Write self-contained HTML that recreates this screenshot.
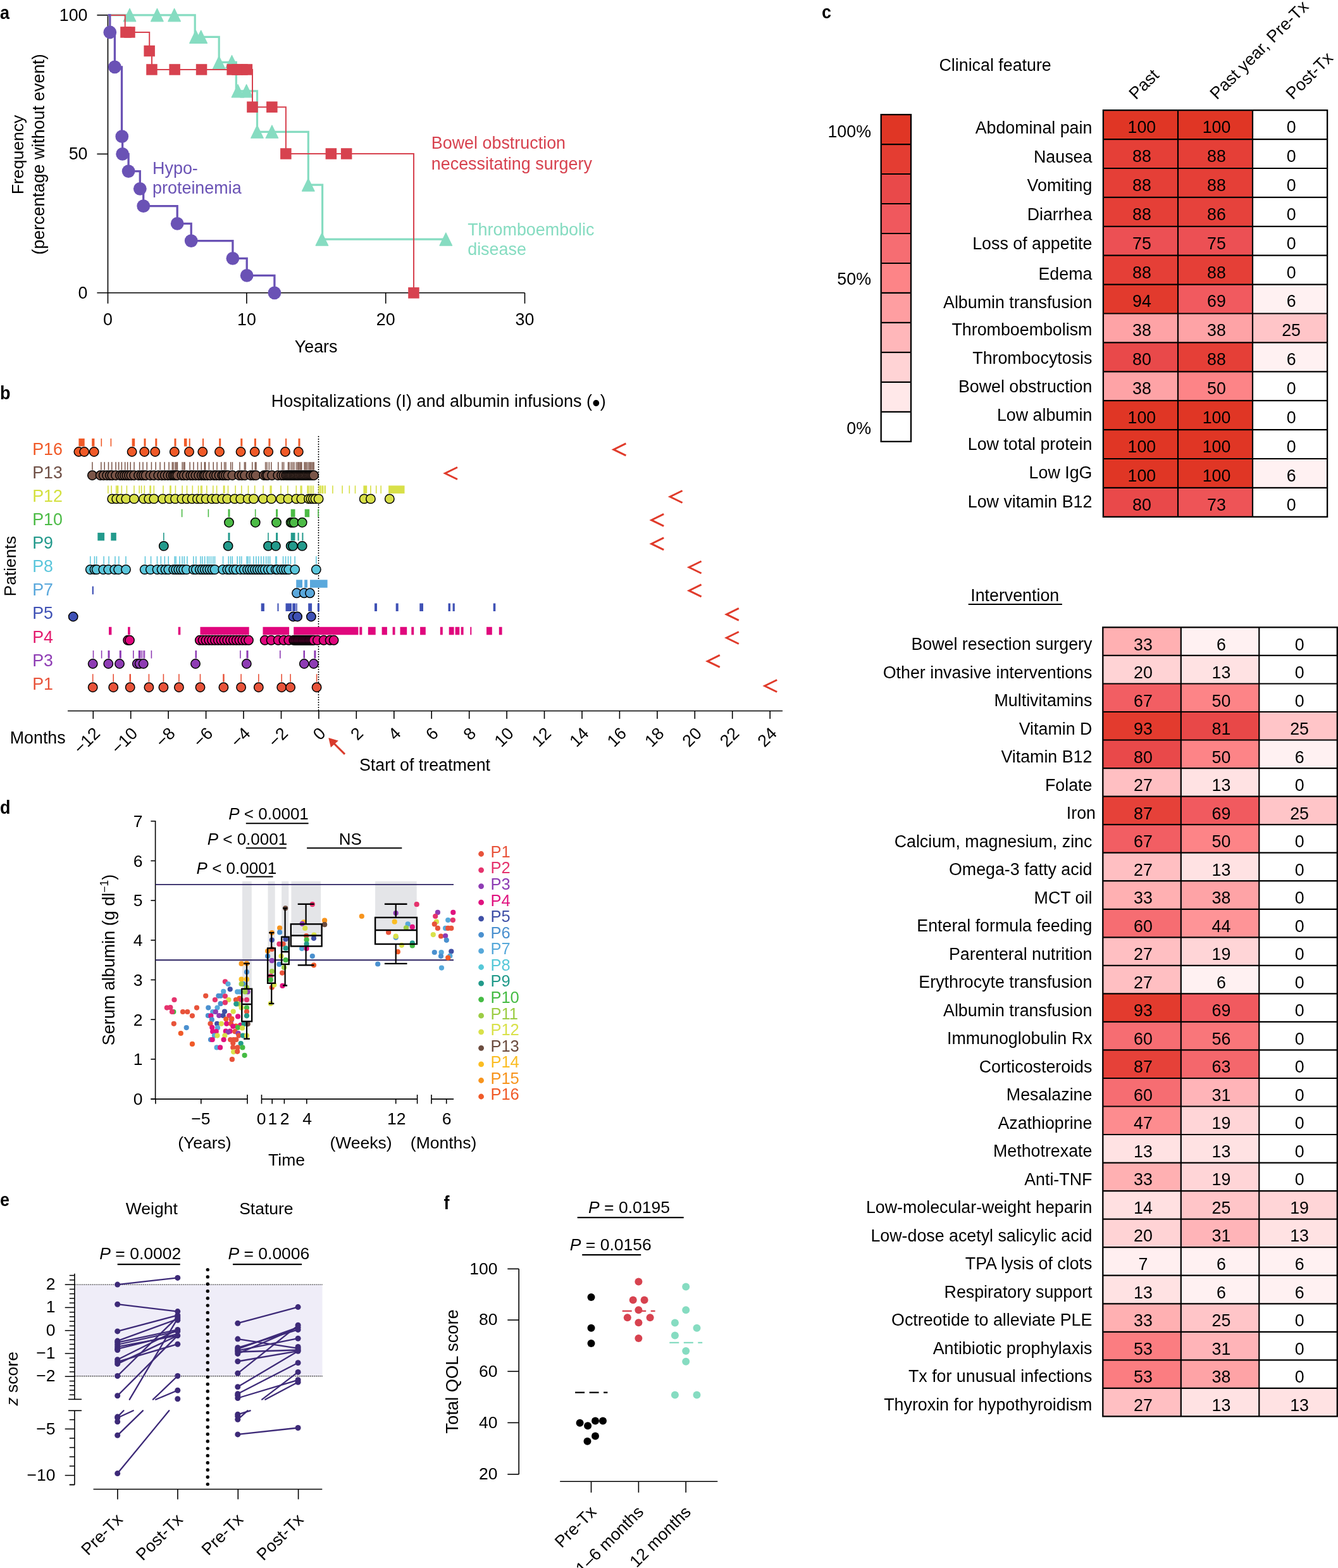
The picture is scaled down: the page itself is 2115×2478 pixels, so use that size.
<!DOCTYPE html>
<html><head><meta charset="utf-8"><title>Figure</title>
<style>html,body{margin:0;padding:0;background:#fff;} svg{display:block;} text{font-family:'Liberation Sans', Arial, Helvetica, sans-serif;}</style>
</head><body>
<svg width="2115" height="2478" viewBox="0 0 2115 2478" font-family="'Liberation Sans', Arial, Helvetica, sans-serif">
<rect x="0" y="0" width="2115" height="2478" fill="#fff"/>
<text transform="translate(0,29.5) scale(0.9,1)" font-size="30" font-weight="bold">a</text>
<line x1="170.5" y1="23.9" x2="170.5" y2="462.8" stroke="#000" stroke-width="1.6" />
<line x1="153.4" y1="462.8" x2="829.5" y2="462.8" stroke="#000" stroke-width="1.6" />
<line x1="153.4" y1="23.9" x2="170.5" y2="23.9" stroke="#000" stroke-width="1.6" />
<line x1="153.4" y1="243.4" x2="170.5" y2="243.4" stroke="#000" stroke-width="1.6" />
<line x1="170.5" y1="462.8" x2="170.5" y2="479.7" stroke="#000" stroke-width="1.6" />
<line x1="389.9" y1="462.8" x2="389.9" y2="479.7" stroke="#000" stroke-width="1.6" />
<line x1="609.7" y1="462.8" x2="609.7" y2="479.7" stroke="#000" stroke-width="1.6" />
<line x1="829.5" y1="462.8" x2="829.5" y2="479.7" stroke="#000" stroke-width="1.6" />
<text x="138.5" y="32.6" font-size="26.8" text-anchor="end" fill="#000" >100</text>
<text x="138.5" y="251.9" font-size="26.8" text-anchor="end" fill="#000" >50</text>
<text x="138.5" y="471.5" font-size="26.8" text-anchor="end" fill="#000" >0</text>
<text x="170.5" y="513.6" font-size="26.8" text-anchor="middle" fill="#000" >0</text>
<text x="389.9" y="513.6" font-size="26.8" text-anchor="middle" fill="#000" >10</text>
<text x="609.7" y="513.6" font-size="26.8" text-anchor="middle" fill="#000" >20</text>
<text x="829.5" y="513.6" font-size="26.8" text-anchor="middle" fill="#000" >30</text>
<text x="499.6" y="556.6" font-size="26.8" text-anchor="middle" fill="#000" >Years</text>
<text transform="translate(36.6,244.4) rotate(-90)" font-size="26.6" text-anchor="middle">Frequency</text>
<text transform="translate(70.4,243.9) rotate(-90)" font-size="26.8" text-anchor="middle">(percentage without event)</text>
<path d="M170.5,23.9 H308.2 V58.4 H346.2 V98.3 H373.3 V143.9 H406.5 V208.3 H487.3 V292.2 H509.6 V378.2 H704.8" fill="none" stroke="#86dcc1" stroke-width="3.2"/>
<path d="M205.0,13.6 L214.8,33.8 L195.2,33.8 Z" fill="#86dcc1" stroke="#86dcc1" stroke-width="1.2" stroke-linejoin="round"/>
<path d="M248.4,13.6 L258.2,33.8 L238.6,33.8 Z" fill="#86dcc1" stroke="#86dcc1" stroke-width="1.2" stroke-linejoin="round"/>
<path d="M275.6,13.6 L285.4,33.8 L265.8,33.8 Z" fill="#86dcc1" stroke="#86dcc1" stroke-width="1.2" stroke-linejoin="round"/>
<path d="M309.5,48.1 L319.3,68.3 L299.7,68.3 Z" fill="#86dcc1" stroke="#86dcc1" stroke-width="1.2" stroke-linejoin="round"/>
<path d="M317.7,48.1 L327.5,68.3 L307.9,68.3 Z" fill="#86dcc1" stroke="#86dcc1" stroke-width="1.2" stroke-linejoin="round"/>
<path d="M346.2,88.7 L356.0,108.9 L336.4,108.9 Z" fill="#86dcc1" stroke="#86dcc1" stroke-width="1.2" stroke-linejoin="round"/>
<path d="M366.5,87.4 L376.3,107.6 L356.7,107.6 Z" fill="#86dcc1" stroke="#86dcc1" stroke-width="1.2" stroke-linejoin="round"/>
<path d="M376.0,133.6 L385.8,153.8 L366.2,153.8 Z" fill="#86dcc1" stroke="#86dcc1" stroke-width="1.2" stroke-linejoin="round"/>
<path d="M389.6,133.6 L399.4,153.8 L379.8,153.8 Z" fill="#86dcc1" stroke="#86dcc1" stroke-width="1.2" stroke-linejoin="round"/>
<path d="M406.5,198.0 L416.3,218.2 L396.7,218.2 Z" fill="#86dcc1" stroke="#86dcc1" stroke-width="1.2" stroke-linejoin="round"/>
<path d="M429.9,198.0 L439.7,218.2 L420.1,218.2 Z" fill="#86dcc1" stroke="#86dcc1" stroke-width="1.2" stroke-linejoin="round"/>
<path d="M487.3,281.9 L497.1,302.1 L477.5,302.1 Z" fill="#86dcc1" stroke="#86dcc1" stroke-width="1.2" stroke-linejoin="round"/>
<path d="M508.9,367.9 L518.7,388.1 L499.1,388.1 Z" fill="#86dcc1" stroke="#86dcc1" stroke-width="1.2" stroke-linejoin="round"/>
<path d="M704.8,367.9 L714.6,388.1 L695.0,388.1 Z" fill="#86dcc1" stroke="#86dcc1" stroke-width="1.2" stroke-linejoin="round"/>
<path d="M170.5,23.9 H197.7 V51 H236.2 V80.6 H240 V110 H399 V169.2 H451.9 V243 H654 V462.8" fill="none" stroke="#d7424f" stroke-width="2"/>
<rect x="190.2" y="42.2" width="17.5" height="17.5" fill="#d7424f" stroke="none" stroke-width="0" />
<rect x="196.2" y="42.2" width="17.5" height="17.5" fill="#d7424f" stroke="none" stroke-width="0" />
<rect x="227.4" y="71.8" width="17.5" height="17.5" fill="#d7424f" stroke="none" stroke-width="0" />
<rect x="231.2" y="101.2" width="17.5" height="17.5" fill="#d7424f" stroke="none" stroke-width="0" />
<rect x="267.4" y="101.2" width="17.5" height="17.5" fill="#d7424f" stroke="none" stroke-width="0" />
<rect x="309.8" y="101.2" width="17.5" height="17.5" fill="#d7424f" stroke="none" stroke-width="0" />
<rect x="358.4" y="101.2" width="17.5" height="17.5" fill="#d7424f" stroke="none" stroke-width="0" />
<rect x="366.2" y="101.2" width="17.5" height="17.5" fill="#d7424f" stroke="none" stroke-width="0" />
<rect x="374.2" y="101.2" width="17.5" height="17.5" fill="#d7424f" stroke="none" stroke-width="0" />
<rect x="381.6" y="101.2" width="17.5" height="17.5" fill="#d7424f" stroke="none" stroke-width="0" />
<rect x="390.2" y="160.4" width="17.5" height="17.5" fill="#d7424f" stroke="none" stroke-width="0" />
<rect x="421.1" y="160.4" width="17.5" height="17.5" fill="#d7424f" stroke="none" stroke-width="0" />
<rect x="443.1" y="234.2" width="17.5" height="17.5" fill="#d7424f" stroke="none" stroke-width="0" />
<rect x="514.6" y="234.2" width="17.5" height="17.5" fill="#d7424f" stroke="none" stroke-width="0" />
<rect x="538.9" y="234.2" width="17.5" height="17.5" fill="#d7424f" stroke="none" stroke-width="0" />
<rect x="645.2" y="454.1" width="17.5" height="17.5" fill="#d7424f" stroke="none" stroke-width="0" />
<path d="M170.5,23.9 H173.8 V51 H181.4 V105.9 H192.5 V215.7 H193.6 V243.4 H203.1 V270.6 H221.3 V298.3 H226.7 V325.7 H280.2 V353.4 H302.2 V380.6 H367.9 V408.3 H390.2 V435.4 H433.9 V462.8" fill="none" stroke="#6a52b5" stroke-width="3.3"/>
<circle cx="173.8" cy="51.0" r="10.4" fill="#6a52b5" stroke="none" stroke-width="0"/>
<circle cx="181.4" cy="105.9" r="10.4" fill="#6a52b5" stroke="none" stroke-width="0"/>
<circle cx="192.8" cy="215.7" r="10.4" fill="#6a52b5" stroke="none" stroke-width="0"/>
<circle cx="193.6" cy="243.4" r="10.4" fill="#6a52b5" stroke="none" stroke-width="0"/>
<circle cx="203.1" cy="270.6" r="10.4" fill="#6a52b5" stroke="none" stroke-width="0"/>
<circle cx="221.3" cy="298.3" r="10.4" fill="#6a52b5" stroke="none" stroke-width="0"/>
<circle cx="226.7" cy="325.7" r="10.4" fill="#6a52b5" stroke="none" stroke-width="0"/>
<circle cx="280.2" cy="353.4" r="10.4" fill="#6a52b5" stroke="none" stroke-width="0"/>
<circle cx="302.2" cy="380.6" r="10.4" fill="#6a52b5" stroke="none" stroke-width="0"/>
<circle cx="367.9" cy="408.3" r="10.4" fill="#6a52b5" stroke="none" stroke-width="0"/>
<circle cx="390.2" cy="435.4" r="10.4" fill="#6a52b5" stroke="none" stroke-width="0"/>
<circle cx="433.9" cy="462.8" r="10.4" fill="#6a52b5" stroke="none" stroke-width="0"/>
<text x="241.1" y="274.7" font-size="26.9" text-anchor="start" fill="#6a52b5" >Hypo-</text>
<text x="241.1" y="305.9" font-size="26.9" text-anchor="start" fill="#6a52b5" >proteinemia</text>
<text x="681.8" y="234.8" font-size="26.9" text-anchor="start" fill="#d7424f" >Bowel obstruction</text>
<text x="681.8" y="267.6" font-size="26.9" text-anchor="start" fill="#d7424f" >necessitating surgery</text>
<text x="739.2" y="372.0" font-size="26.9" text-anchor="start" fill="#86dcc1" >Thromboembolic</text>
<text x="739.2" y="402.8" font-size="26.9" text-anchor="start" fill="#86dcc1" >disease</text>
<text transform="translate(0,631) scale(0.9,1)" font-size="30" font-weight="bold">b</text>
<text x="428.8" y="643.1" font-size="27">Hospitalizations (I) and albumin infusions (<tspan font-size="36" dy="5.5">•</tspan><tspan dy="-5.5">)</tspan></text>
<text x="51.2" y="718.7" font-size="26.8" text-anchor="start" fill="#f05a28" >P16</text>
<text x="51.2" y="755.8" font-size="26.8" text-anchor="start" fill="#6f5046" >P13</text>
<text x="51.2" y="792.9" font-size="26.8" text-anchor="start" fill="#d4e040" >P12</text>
<text x="51.2" y="830.0" font-size="26.8" text-anchor="start" fill="#4cbb46" >P10</text>
<text x="51.2" y="867.1" font-size="26.8" text-anchor="start" fill="#239a8c" >P9</text>
<text x="51.2" y="904.2" font-size="26.8" text-anchor="start" fill="#5bc6dc" >P8</text>
<text x="51.2" y="941.3" font-size="26.8" text-anchor="start" fill="#5aa8dc" >P7</text>
<text x="51.2" y="978.4" font-size="26.8" text-anchor="start" fill="#3f51b5" >P5</text>
<text x="51.2" y="1015.5" font-size="26.8" text-anchor="start" fill="#e31b6d" >P4</text>
<text x="51.2" y="1052.6" font-size="26.8" text-anchor="start" fill="#8e3cb4" >P3</text>
<text x="51.2" y="1089.7" font-size="26.8" text-anchor="start" fill="#e8533a" >P1</text>
<text transform="translate(25.3,894.8) rotate(-90)" font-size="26.4" text-anchor="middle">Patients</text>
<line x1="503.5" y1="689.0" x2="503.5" y2="1123.5" stroke="#000" stroke-width="1.5" stroke-dasharray="2,2"/>
<rect x="124.4" y="693.0" width="9.3" height="12.5" fill="#f05a28" stroke="none" stroke-width="0" />
<rect x="145.2" y="693.0" width="4.2" height="12.5" fill="#f05a28" stroke="none" stroke-width="0" />
<rect x="159.5" y="693.0" width="1.6" height="12.5" fill="#f05a28" stroke="none" stroke-width="0" />
<rect x="174.6" y="693.0" width="1.6" height="12.5" fill="#f05a28" stroke="none" stroke-width="0" />
<rect x="208.6" y="693.0" width="4.6" height="12.5" fill="#f05a28" stroke="none" stroke-width="0" />
<rect x="227.5" y="693.0" width="3.0" height="12.5" fill="#f05a28" stroke="none" stroke-width="0" />
<rect x="245.3" y="693.0" width="3.0" height="12.5" fill="#f05a28" stroke="none" stroke-width="0" />
<rect x="275.5" y="693.0" width="3.0" height="12.5" fill="#f05a28" stroke="none" stroke-width="0" />
<rect x="290.9" y="693.0" width="4.6" height="12.5" fill="#f05a28" stroke="none" stroke-width="0" />
<rect x="298.7" y="693.0" width="2.0" height="12.5" fill="#f05a28" stroke="none" stroke-width="0" />
<rect x="320.0" y="693.0" width="2.0" height="12.5" fill="#f05a28" stroke="none" stroke-width="0" />
<rect x="346.2" y="693.0" width="3.0" height="12.5" fill="#f05a28" stroke="none" stroke-width="0" />
<rect x="380.3" y="693.0" width="3.0" height="12.5" fill="#f05a28" stroke="none" stroke-width="0" />
<rect x="401.9" y="693.0" width="3.0" height="12.5" fill="#f05a28" stroke="none" stroke-width="0" />
<rect x="424.4" y="693.0" width="3.0" height="12.5" fill="#f05a28" stroke="none" stroke-width="0" />
<rect x="451.1" y="693.0" width="2.0" height="12.5" fill="#f05a28" stroke="none" stroke-width="0" />
<rect x="471.5" y="693.0" width="3.0" height="12.5" fill="#f05a28" stroke="none" stroke-width="0" />
<circle cx="124.4" cy="714.0" r="7.2" fill="#f05a28" stroke="#000" stroke-width="1.5"/>
<circle cx="133.2" cy="714.0" r="7.2" fill="#f05a28" stroke="#000" stroke-width="1.5"/>
<circle cx="148.7" cy="714.0" r="7.2" fill="#f05a28" stroke="#000" stroke-width="1.5"/>
<circle cx="208.6" cy="714.0" r="7.2" fill="#f05a28" stroke="#000" stroke-width="1.5"/>
<circle cx="228.3" cy="714.0" r="7.2" fill="#f05a28" stroke="#000" stroke-width="1.5"/>
<circle cx="245.2" cy="714.0" r="7.2" fill="#f05a28" stroke="#000" stroke-width="1.5"/>
<circle cx="275.8" cy="714.0" r="7.2" fill="#f05a28" stroke="#000" stroke-width="1.5"/>
<circle cx="299.0" cy="714.0" r="7.2" fill="#f05a28" stroke="#000" stroke-width="1.5"/>
<circle cx="320.3" cy="714.0" r="7.2" fill="#f05a28" stroke="#000" stroke-width="1.5"/>
<circle cx="347.0" cy="714.0" r="7.2" fill="#f05a28" stroke="#000" stroke-width="1.5"/>
<circle cx="380.6" cy="714.0" r="7.2" fill="#f05a28" stroke="#000" stroke-width="1.5"/>
<circle cx="402.7" cy="714.0" r="7.2" fill="#f05a28" stroke="#000" stroke-width="1.5"/>
<circle cx="424.2" cy="714.0" r="7.2" fill="#f05a28" stroke="#000" stroke-width="1.5"/>
<circle cx="450.9" cy="714.0" r="7.2" fill="#f05a28" stroke="#000" stroke-width="1.5"/>
<circle cx="471.8" cy="714.0" r="7.2" fill="#f05a28" stroke="#000" stroke-width="1.5"/>
<rect x="145.2" y="730.2" width="1.5" height="12.5" fill="#7a5548" stroke="none" stroke-width="0" />
<rect x="159.1" y="730.2" width="1.5" height="12.5" fill="#7a5548" stroke="none" stroke-width="0" />
<rect x="164.4" y="730.2" width="1.5" height="12.5" fill="#7a5548" stroke="none" stroke-width="0" />
<rect x="170.7" y="730.2" width="1.5" height="12.5" fill="#7a5548" stroke="none" stroke-width="0" />
<rect x="176.0" y="730.2" width="1.5" height="12.5" fill="#7a5548" stroke="none" stroke-width="0" />
<rect x="182.3" y="730.2" width="1.5" height="12.5" fill="#7a5548" stroke="none" stroke-width="0" />
<rect x="186.9" y="730.2" width="1.5" height="12.5" fill="#7a5548" stroke="none" stroke-width="0" />
<rect x="191.6" y="730.2" width="1.5" height="12.5" fill="#7a5548" stroke="none" stroke-width="0" />
<rect x="196.9" y="730.2" width="1.5" height="12.5" fill="#7a5548" stroke="none" stroke-width="0" />
<rect x="200.9" y="730.2" width="1.5" height="12.5" fill="#7a5548" stroke="none" stroke-width="0" />
<rect x="205.5" y="730.2" width="1.5" height="12.5" fill="#7a5548" stroke="none" stroke-width="0" />
<rect x="211.3" y="730.2" width="1.5" height="12.5" fill="#7a5548" stroke="none" stroke-width="0" />
<rect x="219.9" y="730.2" width="1.5" height="12.5" fill="#7a5548" stroke="none" stroke-width="0" />
<rect x="225.2" y="730.2" width="1.5" height="12.5" fill="#7a5548" stroke="none" stroke-width="0" />
<rect x="231.5" y="730.2" width="1.5" height="12.5" fill="#7a5548" stroke="none" stroke-width="0" />
<rect x="238.7" y="730.2" width="1.5" height="12.5" fill="#7a5548" stroke="none" stroke-width="0" />
<rect x="245.4" y="730.2" width="1.5" height="12.5" fill="#7a5548" stroke="none" stroke-width="0" />
<rect x="252.3" y="730.2" width="1.5" height="12.5" fill="#7a5548" stroke="none" stroke-width="0" />
<rect x="259.3" y="730.2" width="1.5" height="12.5" fill="#7a5548" stroke="none" stroke-width="0" />
<rect x="266.3" y="730.2" width="1.5" height="12.5" fill="#7a5548" stroke="none" stroke-width="0" />
<rect x="271.6" y="730.2" width="1.5" height="12.5" fill="#7a5548" stroke="none" stroke-width="0" />
<rect x="273.4" y="730.2" width="1.5" height="12.5" fill="#7a5548" stroke="none" stroke-width="0" />
<rect x="276.2" y="730.2" width="1.5" height="12.5" fill="#7a5548" stroke="none" stroke-width="0" />
<rect x="278.1" y="730.2" width="1.5" height="12.5" fill="#7a5548" stroke="none" stroke-width="0" />
<rect x="279.7" y="730.2" width="1.5" height="12.5" fill="#7a5548" stroke="none" stroke-width="0" />
<rect x="287.4" y="730.2" width="1.5" height="12.5" fill="#7a5548" stroke="none" stroke-width="0" />
<rect x="289.7" y="730.2" width="1.5" height="12.5" fill="#7a5548" stroke="none" stroke-width="0" />
<rect x="291.3" y="730.2" width="1.5" height="12.5" fill="#7a5548" stroke="none" stroke-width="0" />
<rect x="299.4" y="730.2" width="1.5" height="12.5" fill="#7a5548" stroke="none" stroke-width="0" />
<rect x="305.2" y="730.2" width="1.5" height="12.5" fill="#7a5548" stroke="none" stroke-width="0" />
<rect x="311.7" y="730.2" width="1.5" height="12.5" fill="#7a5548" stroke="none" stroke-width="0" />
<rect x="317.5" y="730.2" width="1.5" height="12.5" fill="#7a5548" stroke="none" stroke-width="0" />
<rect x="322.6" y="730.2" width="1.5" height="12.5" fill="#7a5548" stroke="none" stroke-width="0" />
<rect x="323.8" y="730.2" width="1.5" height="12.5" fill="#7a5548" stroke="none" stroke-width="0" />
<rect x="329.6" y="730.2" width="1.5" height="12.5" fill="#7a5548" stroke="none" stroke-width="0" />
<rect x="336.5" y="730.2" width="1.5" height="12.5" fill="#7a5548" stroke="none" stroke-width="0" />
<rect x="342.3" y="730.2" width="1.5" height="12.5" fill="#7a5548" stroke="none" stroke-width="0" />
<rect x="349.3" y="730.2" width="1.5" height="12.5" fill="#7a5548" stroke="none" stroke-width="0" />
<rect x="353.9" y="730.2" width="1.5" height="12.5" fill="#7a5548" stroke="none" stroke-width="0" />
<rect x="356.2" y="730.2" width="1.5" height="12.5" fill="#7a5548" stroke="none" stroke-width="0" />
<rect x="363.9" y="730.2" width="1.5" height="12.5" fill="#7a5548" stroke="none" stroke-width="0" />
<rect x="366.7" y="730.2" width="1.5" height="12.5" fill="#7a5548" stroke="none" stroke-width="0" />
<rect x="378.3" y="730.2" width="1.5" height="12.5" fill="#7a5548" stroke="none" stroke-width="0" />
<rect x="385.7" y="730.2" width="1.5" height="12.5" fill="#7a5548" stroke="none" stroke-width="0" />
<rect x="387.5" y="730.2" width="1.5" height="12.5" fill="#7a5548" stroke="none" stroke-width="0" />
<rect x="398.0" y="730.2" width="1.5" height="12.5" fill="#7a5548" stroke="none" stroke-width="0" />
<rect x="402.6" y="730.2" width="1.5" height="12.5" fill="#7a5548" stroke="none" stroke-width="0" />
<rect x="404.2" y="730.2" width="1.5" height="12.5" fill="#7a5548" stroke="none" stroke-width="0" />
<rect x="418.9" y="730.2" width="1.5" height="12.5" fill="#7a5548" stroke="none" stroke-width="0" />
<rect x="421.2" y="730.2" width="1.5" height="12.5" fill="#7a5548" stroke="none" stroke-width="0" />
<rect x="424.6" y="730.2" width="1.5" height="12.5" fill="#7a5548" stroke="none" stroke-width="0" />
<rect x="428.1" y="730.2" width="1.5" height="12.5" fill="#7a5548" stroke="none" stroke-width="0" />
<rect x="439.0" y="730.2" width="1.5" height="12.5" fill="#7a5548" stroke="none" stroke-width="0" />
<rect x="445.5" y="730.2" width="1.5" height="12.5" fill="#7a5548" stroke="none" stroke-width="0" />
<rect x="447.8" y="730.2" width="1.5" height="12.5" fill="#7a5548" stroke="none" stroke-width="0" />
<rect x="454.8" y="730.2" width="1.5" height="12.5" fill="#7a5548" stroke="none" stroke-width="0" />
<rect x="456.4" y="730.2" width="1.5" height="12.5" fill="#7a5548" stroke="none" stroke-width="0" />
<rect x="459.4" y="730.2" width="1.5" height="12.5" fill="#7a5548" stroke="none" stroke-width="0" />
<rect x="461.8" y="730.2" width="1.5" height="12.5" fill="#7a5548" stroke="none" stroke-width="0" />
<rect x="464.1" y="730.2" width="1.5" height="12.5" fill="#7a5548" stroke="none" stroke-width="0" />
<rect x="467.6" y="730.2" width="1.5" height="12.5" fill="#7a5548" stroke="none" stroke-width="0" />
<rect x="469.9" y="730.2" width="1.5" height="12.5" fill="#7a5548" stroke="none" stroke-width="0" />
<rect x="471.0" y="730.2" width="1.5" height="12.5" fill="#7a5548" stroke="none" stroke-width="0" />
<rect x="472.9" y="730.2" width="1.5" height="12.5" fill="#7a5548" stroke="none" stroke-width="0" />
<rect x="474.5" y="730.2" width="1.5" height="12.5" fill="#7a5548" stroke="none" stroke-width="0" />
<rect x="476.1" y="730.2" width="1.5" height="12.5" fill="#7a5548" stroke="none" stroke-width="0" />
<rect x="480.3" y="730.2" width="1.5" height="12.5" fill="#7a5548" stroke="none" stroke-width="0" />
<rect x="482.2" y="730.2" width="1.5" height="12.5" fill="#7a5548" stroke="none" stroke-width="0" />
<rect x="483.8" y="730.2" width="1.5" height="12.5" fill="#7a5548" stroke="none" stroke-width="0" />
<rect x="486.1" y="730.2" width="1.5" height="12.5" fill="#7a5548" stroke="none" stroke-width="0" />
<rect x="488.4" y="730.2" width="1.5" height="12.5" fill="#7a5548" stroke="none" stroke-width="0" />
<rect x="490.0" y="730.2" width="1.5" height="12.5" fill="#7a5548" stroke="none" stroke-width="0" />
<rect x="491.9" y="730.2" width="1.5" height="12.5" fill="#7a5548" stroke="none" stroke-width="0" />
<rect x="493.8" y="730.2" width="1.5" height="12.5" fill="#7a5548" stroke="none" stroke-width="0" />
<rect x="495.4" y="730.2" width="1.5" height="12.5" fill="#7a5548" stroke="none" stroke-width="0" />
<circle cx="145.9" cy="751.2" r="7.2" fill="#7a5548" stroke="#000" stroke-width="1.5"/>
<circle cx="158.7" cy="751.2" r="7.2" fill="#7a5548" stroke="#000" stroke-width="1.5"/>
<circle cx="163.8" cy="751.2" r="7.2" fill="#7a5548" stroke="#000" stroke-width="1.5"/>
<circle cx="169.1" cy="751.2" r="7.2" fill="#7a5548" stroke="#000" stroke-width="1.5"/>
<circle cx="173.8" cy="751.2" r="7.2" fill="#7a5548" stroke="#000" stroke-width="1.5"/>
<circle cx="177.3" cy="751.2" r="7.2" fill="#7a5548" stroke="#000" stroke-width="1.5"/>
<circle cx="183.1" cy="751.2" r="7.2" fill="#7a5548" stroke="#000" stroke-width="1.5"/>
<circle cx="190.0" cy="751.2" r="7.2" fill="#7a5548" stroke="#000" stroke-width="1.5"/>
<circle cx="193.5" cy="751.2" r="7.2" fill="#7a5548" stroke="#000" stroke-width="1.5"/>
<circle cx="197.0" cy="751.2" r="7.2" fill="#7a5548" stroke="#000" stroke-width="1.5"/>
<circle cx="200.4" cy="751.2" r="7.2" fill="#7a5548" stroke="#000" stroke-width="1.5"/>
<circle cx="203.9" cy="751.2" r="7.2" fill="#7a5548" stroke="#000" stroke-width="1.5"/>
<circle cx="207.4" cy="751.2" r="7.2" fill="#7a5548" stroke="#000" stroke-width="1.5"/>
<circle cx="212.0" cy="751.2" r="7.2" fill="#7a5548" stroke="#000" stroke-width="1.5"/>
<circle cx="219.0" cy="751.2" r="7.2" fill="#7a5548" stroke="#000" stroke-width="1.5"/>
<circle cx="223.6" cy="751.2" r="7.2" fill="#7a5548" stroke="#000" stroke-width="1.5"/>
<circle cx="227.1" cy="751.2" r="7.2" fill="#7a5548" stroke="#000" stroke-width="1.5"/>
<circle cx="230.6" cy="751.2" r="7.2" fill="#7a5548" stroke="#000" stroke-width="1.5"/>
<circle cx="237.6" cy="751.2" r="7.2" fill="#7a5548" stroke="#000" stroke-width="1.5"/>
<circle cx="243.3" cy="751.2" r="7.2" fill="#7a5548" stroke="#000" stroke-width="1.5"/>
<circle cx="250.3" cy="751.2" r="7.2" fill="#7a5548" stroke="#000" stroke-width="1.5"/>
<circle cx="256.1" cy="751.2" r="7.2" fill="#7a5548" stroke="#000" stroke-width="1.5"/>
<circle cx="260.7" cy="751.2" r="7.2" fill="#7a5548" stroke="#000" stroke-width="1.5"/>
<circle cx="265.4" cy="751.2" r="7.2" fill="#7a5548" stroke="#000" stroke-width="1.5"/>
<circle cx="270.0" cy="751.2" r="7.2" fill="#7a5548" stroke="#000" stroke-width="1.5"/>
<circle cx="273.5" cy="751.2" r="7.2" fill="#7a5548" stroke="#000" stroke-width="1.5"/>
<circle cx="275.8" cy="751.2" r="7.2" fill="#7a5548" stroke="#000" stroke-width="1.5"/>
<circle cx="278.1" cy="751.2" r="7.2" fill="#7a5548" stroke="#000" stroke-width="1.5"/>
<circle cx="280.5" cy="751.2" r="7.2" fill="#7a5548" stroke="#000" stroke-width="1.5"/>
<circle cx="287.4" cy="751.2" r="7.2" fill="#7a5548" stroke="#000" stroke-width="1.5"/>
<circle cx="290.9" cy="751.2" r="7.2" fill="#7a5548" stroke="#000" stroke-width="1.5"/>
<circle cx="295.5" cy="751.2" r="7.2" fill="#7a5548" stroke="#000" stroke-width="1.5"/>
<circle cx="301.3" cy="751.2" r="7.2" fill="#7a5548" stroke="#000" stroke-width="1.5"/>
<circle cx="304.8" cy="751.2" r="7.2" fill="#7a5548" stroke="#000" stroke-width="1.5"/>
<circle cx="309.4" cy="751.2" r="7.2" fill="#7a5548" stroke="#000" stroke-width="1.5"/>
<circle cx="314.1" cy="751.2" r="7.2" fill="#7a5548" stroke="#000" stroke-width="1.5"/>
<circle cx="318.7" cy="751.2" r="7.2" fill="#7a5548" stroke="#000" stroke-width="1.5"/>
<circle cx="322.2" cy="751.2" r="7.2" fill="#7a5548" stroke="#000" stroke-width="1.5"/>
<circle cx="324.5" cy="751.2" r="7.2" fill="#7a5548" stroke="#000" stroke-width="1.5"/>
<circle cx="328.0" cy="751.2" r="7.2" fill="#7a5548" stroke="#000" stroke-width="1.5"/>
<circle cx="332.6" cy="751.2" r="7.2" fill="#7a5548" stroke="#000" stroke-width="1.5"/>
<circle cx="338.4" cy="751.2" r="7.2" fill="#7a5548" stroke="#000" stroke-width="1.5"/>
<circle cx="341.9" cy="751.2" r="7.2" fill="#7a5548" stroke="#000" stroke-width="1.5"/>
<circle cx="346.5" cy="751.2" r="7.2" fill="#7a5548" stroke="#000" stroke-width="1.5"/>
<circle cx="351.2" cy="751.2" r="7.2" fill="#7a5548" stroke="#000" stroke-width="1.5"/>
<circle cx="353.5" cy="751.2" r="7.2" fill="#7a5548" stroke="#000" stroke-width="1.5"/>
<circle cx="357.0" cy="751.2" r="7.2" fill="#7a5548" stroke="#000" stroke-width="1.5"/>
<circle cx="360.5" cy="751.2" r="7.2" fill="#7a5548" stroke="#000" stroke-width="1.5"/>
<circle cx="367.4" cy="751.2" r="7.2" fill="#7a5548" stroke="#000" stroke-width="1.5"/>
<circle cx="377.9" cy="751.2" r="7.2" fill="#7a5548" stroke="#000" stroke-width="1.5"/>
<circle cx="382.5" cy="751.2" r="7.2" fill="#7a5548" stroke="#000" stroke-width="1.5"/>
<circle cx="387.1" cy="751.2" r="7.2" fill="#7a5548" stroke="#000" stroke-width="1.5"/>
<circle cx="396.4" cy="751.2" r="7.2" fill="#7a5548" stroke="#000" stroke-width="1.5"/>
<circle cx="401.0" cy="751.2" r="7.2" fill="#7a5548" stroke="#000" stroke-width="1.5"/>
<circle cx="404.5" cy="751.2" r="7.2" fill="#7a5548" stroke="#000" stroke-width="1.5"/>
<circle cx="417.3" cy="751.2" r="7.2" fill="#7a5548" stroke="#000" stroke-width="1.5"/>
<circle cx="420.8" cy="751.2" r="7.2" fill="#7a5548" stroke="#000" stroke-width="1.5"/>
<circle cx="423.1" cy="751.2" r="7.2" fill="#7a5548" stroke="#000" stroke-width="1.5"/>
<circle cx="430.0" cy="751.2" r="7.2" fill="#7a5548" stroke="#000" stroke-width="1.5"/>
<circle cx="439.3" cy="751.2" r="7.2" fill="#7a5548" stroke="#000" stroke-width="1.5"/>
<circle cx="445.1" cy="751.2" r="7.2" fill="#7a5548" stroke="#000" stroke-width="1.5"/>
<circle cx="448.6" cy="751.2" r="7.2" fill="#7a5548" stroke="#000" stroke-width="1.5"/>
<circle cx="452.1" cy="751.2" r="7.2" fill="#7a5548" stroke="#000" stroke-width="1.5"/>
<circle cx="454.4" cy="751.2" r="7.2" fill="#7a5548" stroke="#000" stroke-width="1.5"/>
<circle cx="456.7" cy="751.2" r="7.2" fill="#7a5548" stroke="#000" stroke-width="1.5"/>
<circle cx="459.0" cy="751.2" r="7.2" fill="#7a5548" stroke="#000" stroke-width="1.5"/>
<circle cx="461.3" cy="751.2" r="7.2" fill="#7a5548" stroke="#000" stroke-width="1.5"/>
<circle cx="463.7" cy="751.2" r="7.2" fill="#7a5548" stroke="#000" stroke-width="1.5"/>
<circle cx="466.0" cy="751.2" r="7.2" fill="#7a5548" stroke="#000" stroke-width="1.5"/>
<circle cx="468.3" cy="751.2" r="7.2" fill="#7a5548" stroke="#000" stroke-width="1.5"/>
<circle cx="470.6" cy="751.2" r="7.2" fill="#7a5548" stroke="#000" stroke-width="1.5"/>
<circle cx="472.9" cy="751.2" r="7.2" fill="#7a5548" stroke="#000" stroke-width="1.5"/>
<circle cx="475.3" cy="751.2" r="7.2" fill="#7a5548" stroke="#000" stroke-width="1.5"/>
<circle cx="477.6" cy="751.2" r="7.2" fill="#7a5548" stroke="#000" stroke-width="1.5"/>
<circle cx="479.9" cy="751.2" r="7.2" fill="#7a5548" stroke="#000" stroke-width="1.5"/>
<circle cx="482.2" cy="751.2" r="7.2" fill="#7a5548" stroke="#000" stroke-width="1.5"/>
<circle cx="484.5" cy="751.2" r="7.2" fill="#7a5548" stroke="#000" stroke-width="1.5"/>
<circle cx="486.9" cy="751.2" r="7.2" fill="#7a5548" stroke="#000" stroke-width="1.5"/>
<circle cx="489.2" cy="751.2" r="7.2" fill="#7a5548" stroke="#000" stroke-width="1.5"/>
<circle cx="491.5" cy="751.2" r="7.2" fill="#7a5548" stroke="#000" stroke-width="1.5"/>
<circle cx="493.8" cy="751.2" r="7.2" fill="#7a5548" stroke="#000" stroke-width="1.5"/>
<circle cx="496.1" cy="751.2" r="7.2" fill="#7a5548" stroke="#000" stroke-width="1.5"/>
<rect x="170.0" y="767.4" width="1.6" height="12.5" fill="#d8e048" stroke="none" stroke-width="0" />
<rect x="175.3" y="767.4" width="1.6" height="12.5" fill="#d8e048" stroke="none" stroke-width="0" />
<rect x="182.9" y="767.4" width="1.6" height="12.5" fill="#d8e048" stroke="none" stroke-width="0" />
<rect x="184.6" y="767.4" width="1.6" height="12.5" fill="#d8e048" stroke="none" stroke-width="0" />
<rect x="185.7" y="767.4" width="1.6" height="12.5" fill="#d8e048" stroke="none" stroke-width="0" />
<rect x="191.5" y="767.4" width="1.6" height="12.5" fill="#d8e048" stroke="none" stroke-width="0" />
<rect x="199.6" y="767.4" width="1.6" height="12.5" fill="#d8e048" stroke="none" stroke-width="0" />
<rect x="211.2" y="767.4" width="1.6" height="12.5" fill="#d8e048" stroke="none" stroke-width="0" />
<rect x="219.4" y="767.4" width="1.6" height="12.5" fill="#d8e048" stroke="none" stroke-width="0" />
<rect x="222.8" y="767.4" width="1.6" height="12.5" fill="#d8e048" stroke="none" stroke-width="0" />
<rect x="227.5" y="767.4" width="1.6" height="12.5" fill="#d8e048" stroke="none" stroke-width="0" />
<rect x="236.3" y="767.4" width="1.6" height="12.5" fill="#d8e048" stroke="none" stroke-width="0" />
<rect x="237.4" y="767.4" width="1.6" height="12.5" fill="#d8e048" stroke="none" stroke-width="0" />
<rect x="242.5" y="767.4" width="1.6" height="12.5" fill="#d8e048" stroke="none" stroke-width="0" />
<rect x="257.2" y="767.4" width="1.6" height="12.5" fill="#d8e048" stroke="none" stroke-width="0" />
<rect x="268.1" y="767.4" width="1.6" height="12.5" fill="#d8e048" stroke="none" stroke-width="0" />
<rect x="269.2" y="767.4" width="1.6" height="12.5" fill="#d8e048" stroke="none" stroke-width="0" />
<rect x="276.6" y="767.4" width="1.6" height="12.5" fill="#d8e048" stroke="none" stroke-width="0" />
<rect x="287.3" y="767.4" width="1.6" height="12.5" fill="#d8e048" stroke="none" stroke-width="0" />
<rect x="294.7" y="767.4" width="1.6" height="12.5" fill="#d8e048" stroke="none" stroke-width="0" />
<rect x="303.5" y="767.4" width="1.6" height="12.5" fill="#d8e048" stroke="none" stroke-width="0" />
<rect x="312.8" y="767.4" width="1.6" height="12.5" fill="#d8e048" stroke="none" stroke-width="0" />
<rect x="316.8" y="767.4" width="1.6" height="12.5" fill="#d8e048" stroke="none" stroke-width="0" />
<rect x="318.4" y="767.4" width="1.6" height="12.5" fill="#d8e048" stroke="none" stroke-width="0" />
<rect x="326.0" y="767.4" width="1.6" height="12.5" fill="#d8e048" stroke="none" stroke-width="0" />
<rect x="336.0" y="767.4" width="1.6" height="12.5" fill="#d8e048" stroke="none" stroke-width="0" />
<rect x="341.8" y="767.4" width="1.6" height="12.5" fill="#d8e048" stroke="none" stroke-width="0" />
<rect x="352.7" y="767.4" width="1.6" height="12.5" fill="#d8e048" stroke="none" stroke-width="0" />
<rect x="353.9" y="767.4" width="1.6" height="12.5" fill="#d8e048" stroke="none" stroke-width="0" />
<rect x="359.7" y="767.4" width="1.6" height="12.5" fill="#d8e048" stroke="none" stroke-width="0" />
<rect x="371.3" y="767.4" width="1.6" height="12.5" fill="#d8e048" stroke="none" stroke-width="0" />
<rect x="381.0" y="767.4" width="1.6" height="12.5" fill="#d8e048" stroke="none" stroke-width="0" />
<rect x="391.7" y="767.4" width="1.6" height="12.5" fill="#d8e048" stroke="none" stroke-width="0" />
<rect x="401.9" y="767.4" width="1.6" height="12.5" fill="#d8e048" stroke="none" stroke-width="0" />
<rect x="415.3" y="767.4" width="1.6" height="12.5" fill="#d8e048" stroke="none" stroke-width="0" />
<rect x="426.5" y="767.4" width="1.6" height="12.5" fill="#d8e048" stroke="none" stroke-width="0" />
<rect x="428.1" y="767.4" width="1.6" height="12.5" fill="#d8e048" stroke="none" stroke-width="0" />
<rect x="443.2" y="767.4" width="1.6" height="12.5" fill="#d8e048" stroke="none" stroke-width="0" />
<rect x="454.1" y="767.4" width="1.6" height="12.5" fill="#d8e048" stroke="none" stroke-width="0" />
<rect x="467.5" y="767.4" width="1.6" height="12.5" fill="#d8e048" stroke="none" stroke-width="0" />
<rect x="474.5" y="767.4" width="1.6" height="12.5" fill="#d8e048" stroke="none" stroke-width="0" />
<rect x="476.1" y="767.4" width="1.6" height="12.5" fill="#d8e048" stroke="none" stroke-width="0" />
<rect x="485.4" y="767.4" width="1.6" height="12.5" fill="#d8e048" stroke="none" stroke-width="0" />
<rect x="486.8" y="767.4" width="1.6" height="12.5" fill="#d8e048" stroke="none" stroke-width="0" />
<rect x="489.5" y="767.4" width="1.6" height="12.5" fill="#d8e048" stroke="none" stroke-width="0" />
<rect x="491.9" y="767.4" width="1.6" height="12.5" fill="#d8e048" stroke="none" stroke-width="0" />
<rect x="494.6" y="767.4" width="1.6" height="12.5" fill="#d8e048" stroke="none" stroke-width="0" />
<rect x="503.4" y="767.4" width="1.6" height="12.5" fill="#d8e048" stroke="none" stroke-width="0" />
<rect x="506.2" y="767.4" width="1.6" height="12.5" fill="#d8e048" stroke="none" stroke-width="0" />
<rect x="508.6" y="767.4" width="1.6" height="12.5" fill="#d8e048" stroke="none" stroke-width="0" />
<rect x="512.7" y="767.4" width="1.6" height="12.5" fill="#d8e048" stroke="none" stroke-width="0" />
<rect x="505.4" y="767.4" width="1.6" height="12.5" fill="#d8e048" stroke="none" stroke-width="0" />
<rect x="509.8" y="767.4" width="1.6" height="12.5" fill="#d8e048" stroke="none" stroke-width="0" />
<rect x="513.2" y="767.4" width="1.6" height="12.5" fill="#d8e048" stroke="none" stroke-width="0" />
<rect x="525.1" y="767.4" width="1.6" height="12.5" fill="#d8e048" stroke="none" stroke-width="0" />
<rect x="540.3" y="767.4" width="1.6" height="12.5" fill="#d8e048" stroke="none" stroke-width="0" />
<rect x="551.5" y="767.4" width="1.6" height="12.5" fill="#d8e048" stroke="none" stroke-width="0" />
<rect x="560.7" y="767.4" width="1.6" height="12.5" fill="#d8e048" stroke="none" stroke-width="0" />
<rect x="585.1" y="767.4" width="1.6" height="12.5" fill="#d8e048" stroke="none" stroke-width="0" />
<rect x="593.9" y="767.4" width="1.6" height="12.5" fill="#d8e048" stroke="none" stroke-width="0" />
<rect x="601.4" y="767.4" width="1.6" height="12.5" fill="#d8e048" stroke="none" stroke-width="0" />
<rect x="574.4" y="767.4" width="5.8" height="12.5" fill="#d8e048" stroke="none" stroke-width="0" />
<rect x="614.1" y="767.4" width="25.4" height="12.5" fill="#d8e048" stroke="none" stroke-width="0" />
<circle cx="177.3" cy="788.4" r="7.2" fill="#d8e048" stroke="#000" stroke-width="1.5"/>
<circle cx="184.2" cy="788.4" r="7.2" fill="#d8e048" stroke="#000" stroke-width="1.5"/>
<circle cx="191.2" cy="788.4" r="7.2" fill="#d8e048" stroke="#000" stroke-width="1.5"/>
<circle cx="199.3" cy="788.4" r="7.2" fill="#d8e048" stroke="#000" stroke-width="1.5"/>
<circle cx="212.0" cy="788.4" r="7.2" fill="#d8e048" stroke="#000" stroke-width="1.5"/>
<circle cx="227.1" cy="788.4" r="7.2" fill="#d8e048" stroke="#000" stroke-width="1.5"/>
<circle cx="235.2" cy="788.4" r="7.2" fill="#d8e048" stroke="#000" stroke-width="1.5"/>
<circle cx="243.3" cy="788.4" r="7.2" fill="#d8e048" stroke="#000" stroke-width="1.5"/>
<circle cx="257.3" cy="788.4" r="7.2" fill="#d8e048" stroke="#000" stroke-width="1.5"/>
<circle cx="267.7" cy="788.4" r="7.2" fill="#d8e048" stroke="#000" stroke-width="1.5"/>
<circle cx="277.0" cy="788.4" r="7.2" fill="#d8e048" stroke="#000" stroke-width="1.5"/>
<circle cx="287.4" cy="788.4" r="7.2" fill="#d8e048" stroke="#000" stroke-width="1.5"/>
<circle cx="295.5" cy="788.4" r="7.2" fill="#d8e048" stroke="#000" stroke-width="1.5"/>
<circle cx="303.6" cy="788.4" r="7.2" fill="#d8e048" stroke="#000" stroke-width="1.5"/>
<circle cx="311.8" cy="788.4" r="7.2" fill="#d8e048" stroke="#000" stroke-width="1.5"/>
<circle cx="317.6" cy="788.4" r="7.2" fill="#d8e048" stroke="#000" stroke-width="1.5"/>
<circle cx="325.7" cy="788.4" r="7.2" fill="#d8e048" stroke="#000" stroke-width="1.5"/>
<circle cx="335.0" cy="788.4" r="7.2" fill="#d8e048" stroke="#000" stroke-width="1.5"/>
<circle cx="341.9" cy="788.4" r="7.2" fill="#d8e048" stroke="#000" stroke-width="1.5"/>
<circle cx="351.2" cy="788.4" r="7.2" fill="#d8e048" stroke="#000" stroke-width="1.5"/>
<circle cx="359.3" cy="788.4" r="7.2" fill="#d8e048" stroke="#000" stroke-width="1.5"/>
<circle cx="370.9" cy="788.4" r="7.2" fill="#d8e048" stroke="#000" stroke-width="1.5"/>
<circle cx="380.2" cy="788.4" r="7.2" fill="#d8e048" stroke="#000" stroke-width="1.5"/>
<circle cx="391.8" cy="788.4" r="7.2" fill="#d8e048" stroke="#000" stroke-width="1.5"/>
<circle cx="401.0" cy="788.4" r="7.2" fill="#d8e048" stroke="#000" stroke-width="1.5"/>
<circle cx="416.1" cy="788.4" r="7.2" fill="#d8e048" stroke="#000" stroke-width="1.5"/>
<circle cx="428.9" cy="788.4" r="7.2" fill="#d8e048" stroke="#000" stroke-width="1.5"/>
<circle cx="444.0" cy="788.4" r="7.2" fill="#d8e048" stroke="#000" stroke-width="1.5"/>
<circle cx="455.5" cy="788.4" r="7.2" fill="#d8e048" stroke="#000" stroke-width="1.5"/>
<circle cx="468.3" cy="788.4" r="7.2" fill="#d8e048" stroke="#000" stroke-width="1.5"/>
<circle cx="476.4" cy="788.4" r="7.2" fill="#d8e048" stroke="#000" stroke-width="1.5"/>
<circle cx="488.0" cy="788.4" r="7.2" fill="#d8e048" stroke="#000" stroke-width="1.5"/>
<circle cx="491.5" cy="788.4" r="7.2" fill="#d8e048" stroke="#000" stroke-width="1.5"/>
<circle cx="495.0" cy="788.4" r="7.2" fill="#d8e048" stroke="#000" stroke-width="1.5"/>
<circle cx="498.5" cy="788.4" r="7.2" fill="#d8e048" stroke="#000" stroke-width="1.5"/>
<circle cx="503.6" cy="788.4" r="7.2" fill="#d8e048" stroke="#000" stroke-width="1.5"/>
<circle cx="575.7" cy="788.4" r="7.2" fill="#d8e048" stroke="#000" stroke-width="1.5"/>
<circle cx="585.9" cy="788.4" r="7.2" fill="#d8e048" stroke="#000" stroke-width="1.5"/>
<circle cx="615.8" cy="788.4" r="7.2" fill="#d8e048" stroke="#000" stroke-width="1.5"/>
<rect x="286.8" y="804.7" width="1.6" height="12.5" fill="#4cbb46" stroke="none" stroke-width="0" />
<rect x="328.6" y="804.7" width="1.6" height="12.5" fill="#4cbb46" stroke="none" stroke-width="0" />
<rect x="360.5" y="804.7" width="3.0" height="12.5" fill="#4cbb46" stroke="none" stroke-width="0" />
<rect x="402.9" y="804.7" width="1.6" height="12.5" fill="#4cbb46" stroke="none" stroke-width="0" />
<rect x="436.1" y="804.7" width="3.0" height="12.5" fill="#4cbb46" stroke="none" stroke-width="0" />
<rect x="459.7" y="804.7" width="6.8" height="12.5" fill="#4cbb46" stroke="none" stroke-width="0" />
<rect x="481.7" y="804.7" width="7.5" height="12.5" fill="#4cbb46" stroke="none" stroke-width="0" />
<rect x="502.3" y="804.7" width="1.6" height="12.5" fill="#4cbb46" stroke="none" stroke-width="0" />
<circle cx="362.0" cy="825.7" r="7.2" fill="#4cbb46" stroke="#000" stroke-width="1.5"/>
<circle cx="403.7" cy="825.7" r="7.2" fill="#4cbb46" stroke="#000" stroke-width="1.5"/>
<circle cx="437.0" cy="825.7" r="7.2" fill="#4cbb46" stroke="#000" stroke-width="1.5"/>
<circle cx="459.7" cy="825.7" r="7.2" fill="#4cbb46" stroke="#000" stroke-width="1.5"/>
<circle cx="462.0" cy="825.7" r="7.2" fill="#4cbb46" stroke="#000" stroke-width="1.5"/>
<circle cx="464.8" cy="825.7" r="7.2" fill="#4cbb46" stroke="#000" stroke-width="1.5"/>
<circle cx="477.7" cy="825.7" r="7.2" fill="#4cbb46" stroke="#000" stroke-width="1.5"/>
<rect x="154.3" y="841.9" width="10.8" height="12.5" fill="#239a8c" stroke="none" stroke-width="0" />
<rect x="175.3" y="841.9" width="8.5" height="12.5" fill="#239a8c" stroke="none" stroke-width="0" />
<rect x="258.0" y="841.9" width="1.6" height="12.5" fill="#239a8c" stroke="none" stroke-width="0" />
<rect x="360.5" y="841.9" width="3.0" height="12.5" fill="#239a8c" stroke="none" stroke-width="0" />
<rect x="423.2" y="841.9" width="1.6" height="12.5" fill="#239a8c" stroke="none" stroke-width="0" />
<rect x="436.1" y="841.9" width="3.0" height="12.5" fill="#239a8c" stroke="none" stroke-width="0" />
<rect x="459.7" y="841.9" width="6.8" height="12.5" fill="#239a8c" stroke="none" stroke-width="0" />
<rect x="470.6" y="841.9" width="2.0" height="12.5" fill="#239a8c" stroke="none" stroke-width="0" />
<rect x="477.4" y="841.9" width="2.0" height="12.5" fill="#239a8c" stroke="none" stroke-width="0" />
<circle cx="258.8" cy="862.9" r="7.2" fill="#239a8c" stroke="#000" stroke-width="1.5"/>
<circle cx="360.6" cy="862.9" r="7.2" fill="#239a8c" stroke="#000" stroke-width="1.5"/>
<circle cx="424.0" cy="862.9" r="7.2" fill="#239a8c" stroke="#000" stroke-width="1.5"/>
<circle cx="435.9" cy="862.9" r="7.2" fill="#239a8c" stroke="#000" stroke-width="1.5"/>
<circle cx="459.7" cy="862.9" r="7.2" fill="#239a8c" stroke="#000" stroke-width="1.5"/>
<circle cx="463.0" cy="862.9" r="7.2" fill="#239a8c" stroke="#000" stroke-width="1.5"/>
<circle cx="477.7" cy="862.9" r="7.2" fill="#239a8c" stroke="#000" stroke-width="1.5"/>
<rect x="142.0" y="879.1" width="1.5" height="12.5" fill="#5bc6dc" stroke="none" stroke-width="0" />
<rect x="148.7" y="879.1" width="1.5" height="12.5" fill="#5bc6dc" stroke="none" stroke-width="0" />
<rect x="151.9" y="879.1" width="1.5" height="12.5" fill="#5bc6dc" stroke="none" stroke-width="0" />
<rect x="163.4" y="879.1" width="1.5" height="12.5" fill="#5bc6dc" stroke="none" stroke-width="0" />
<rect x="171.3" y="879.1" width="1.5" height="12.5" fill="#5bc6dc" stroke="none" stroke-width="0" />
<rect x="181.2" y="879.1" width="1.5" height="12.5" fill="#5bc6dc" stroke="none" stroke-width="0" />
<rect x="187.1" y="879.1" width="1.5" height="12.5" fill="#5bc6dc" stroke="none" stroke-width="0" />
<rect x="198.2" y="879.1" width="1.5" height="12.5" fill="#5bc6dc" stroke="none" stroke-width="0" />
<rect x="228.7" y="879.1" width="1.5" height="12.5" fill="#5bc6dc" stroke="none" stroke-width="0" />
<rect x="237.8" y="879.1" width="1.5" height="12.5" fill="#5bc6dc" stroke="none" stroke-width="0" />
<rect x="247.7" y="879.1" width="1.5" height="12.5" fill="#5bc6dc" stroke="none" stroke-width="0" />
<rect x="253.6" y="879.1" width="1.5" height="12.5" fill="#5bc6dc" stroke="none" stroke-width="0" />
<rect x="259.6" y="879.1" width="1.5" height="12.5" fill="#5bc6dc" stroke="none" stroke-width="0" />
<rect x="265.5" y="879.1" width="1.5" height="12.5" fill="#5bc6dc" stroke="none" stroke-width="0" />
<rect x="275.4" y="879.1" width="1.5" height="12.5" fill="#5bc6dc" stroke="none" stroke-width="0" />
<rect x="277.4" y="879.1" width="1.5" height="12.5" fill="#5bc6dc" stroke="none" stroke-width="0" />
<rect x="283.3" y="879.1" width="1.5" height="12.5" fill="#5bc6dc" stroke="none" stroke-width="0" />
<rect x="287.3" y="879.1" width="1.5" height="12.5" fill="#5bc6dc" stroke="none" stroke-width="0" />
<rect x="290.5" y="879.1" width="1.5" height="12.5" fill="#5bc6dc" stroke="none" stroke-width="0" />
<rect x="295.2" y="879.1" width="1.5" height="12.5" fill="#5bc6dc" stroke="none" stroke-width="0" />
<rect x="305.1" y="879.1" width="1.5" height="12.5" fill="#5bc6dc" stroke="none" stroke-width="0" />
<rect x="309.1" y="879.1" width="1.5" height="12.5" fill="#5bc6dc" stroke="none" stroke-width="0" />
<rect x="316.2" y="879.1" width="1.5" height="12.5" fill="#5bc6dc" stroke="none" stroke-width="0" />
<rect x="319.0" y="879.1" width="1.5" height="12.5" fill="#5bc6dc" stroke="none" stroke-width="0" />
<rect x="322.9" y="879.1" width="1.5" height="12.5" fill="#5bc6dc" stroke="none" stroke-width="0" />
<rect x="326.9" y="879.1" width="1.5" height="12.5" fill="#5bc6dc" stroke="none" stroke-width="0" />
<rect x="329.7" y="879.1" width="1.5" height="12.5" fill="#5bc6dc" stroke="none" stroke-width="0" />
<rect x="332.8" y="879.1" width="1.5" height="12.5" fill="#5bc6dc" stroke="none" stroke-width="0" />
<rect x="336.0" y="879.1" width="1.5" height="12.5" fill="#5bc6dc" stroke="none" stroke-width="0" />
<rect x="338.8" y="879.1" width="1.5" height="12.5" fill="#5bc6dc" stroke="none" stroke-width="0" />
<rect x="351.8" y="879.1" width="1.5" height="12.5" fill="#5bc6dc" stroke="none" stroke-width="0" />
<rect x="360.5" y="879.1" width="1.5" height="12.5" fill="#5bc6dc" stroke="none" stroke-width="0" />
<rect x="363.7" y="879.1" width="1.5" height="12.5" fill="#5bc6dc" stroke="none" stroke-width="0" />
<rect x="366.5" y="879.1" width="1.5" height="12.5" fill="#5bc6dc" stroke="none" stroke-width="0" />
<rect x="374.4" y="879.1" width="1.5" height="12.5" fill="#5bc6dc" stroke="none" stroke-width="0" />
<rect x="378.3" y="879.1" width="1.5" height="12.5" fill="#5bc6dc" stroke="none" stroke-width="0" />
<rect x="381.1" y="879.1" width="1.5" height="12.5" fill="#5bc6dc" stroke="none" stroke-width="0" />
<rect x="389.4" y="879.1" width="1.5" height="12.5" fill="#5bc6dc" stroke="none" stroke-width="0" />
<rect x="391.4" y="879.1" width="1.5" height="12.5" fill="#5bc6dc" stroke="none" stroke-width="0" />
<rect x="394.2" y="879.1" width="1.5" height="12.5" fill="#5bc6dc" stroke="none" stroke-width="0" />
<rect x="400.1" y="879.1" width="1.5" height="12.5" fill="#5bc6dc" stroke="none" stroke-width="0" />
<rect x="404.1" y="879.1" width="1.5" height="12.5" fill="#5bc6dc" stroke="none" stroke-width="0" />
<rect x="408.0" y="879.1" width="1.5" height="12.5" fill="#5bc6dc" stroke="none" stroke-width="0" />
<rect x="412.0" y="879.1" width="1.5" height="12.5" fill="#5bc6dc" stroke="none" stroke-width="0" />
<rect x="416.0" y="879.1" width="1.5" height="12.5" fill="#5bc6dc" stroke="none" stroke-width="0" />
<rect x="419.9" y="879.1" width="1.5" height="12.5" fill="#5bc6dc" stroke="none" stroke-width="0" />
<rect x="423.1" y="879.1" width="1.5" height="12.5" fill="#5bc6dc" stroke="none" stroke-width="0" />
<rect x="425.9" y="879.1" width="1.5" height="12.5" fill="#5bc6dc" stroke="none" stroke-width="0" />
<rect x="435.0" y="879.1" width="1.5" height="12.5" fill="#5bc6dc" stroke="none" stroke-width="0" />
<rect x="436.5" y="879.1" width="1.5" height="12.5" fill="#5bc6dc" stroke="none" stroke-width="0" />
<rect x="446.8" y="879.1" width="1.5" height="12.5" fill="#5bc6dc" stroke="none" stroke-width="0" />
<rect x="450.8" y="879.1" width="1.5" height="12.5" fill="#5bc6dc" stroke="none" stroke-width="0" />
<rect x="454.8" y="879.1" width="1.5" height="12.5" fill="#5bc6dc" stroke="none" stroke-width="0" />
<rect x="458.7" y="879.1" width="1.5" height="12.5" fill="#5bc6dc" stroke="none" stroke-width="0" />
<rect x="465.4" y="879.1" width="1.5" height="12.5" fill="#5bc6dc" stroke="none" stroke-width="0" />
<rect x="499.1" y="879.1" width="1.5" height="12.5" fill="#5bc6dc" stroke="none" stroke-width="0" />
<circle cx="142.8" cy="900.1" r="7.2" fill="#5bc6dc" stroke="#000" stroke-width="1.5"/>
<circle cx="149.5" cy="900.1" r="7.2" fill="#5bc6dc" stroke="#000" stroke-width="1.5"/>
<circle cx="152.7" cy="900.1" r="7.2" fill="#5bc6dc" stroke="#000" stroke-width="1.5"/>
<circle cx="163.3" cy="900.1" r="7.2" fill="#5bc6dc" stroke="#000" stroke-width="1.5"/>
<circle cx="171.3" cy="900.1" r="7.2" fill="#5bc6dc" stroke="#000" stroke-width="1.5"/>
<circle cx="181.2" cy="900.1" r="7.2" fill="#5bc6dc" stroke="#000" stroke-width="1.5"/>
<circle cx="187.1" cy="900.1" r="7.2" fill="#5bc6dc" stroke="#000" stroke-width="1.5"/>
<circle cx="199.0" cy="900.1" r="7.2" fill="#5bc6dc" stroke="#000" stroke-width="1.5"/>
<circle cx="228.7" cy="900.1" r="7.2" fill="#5bc6dc" stroke="#000" stroke-width="1.5"/>
<circle cx="237.8" cy="900.1" r="7.2" fill="#5bc6dc" stroke="#000" stroke-width="1.5"/>
<circle cx="248.5" cy="900.1" r="7.2" fill="#5bc6dc" stroke="#000" stroke-width="1.5"/>
<circle cx="255.6" cy="900.1" r="7.2" fill="#5bc6dc" stroke="#000" stroke-width="1.5"/>
<circle cx="261.5" cy="900.1" r="7.2" fill="#5bc6dc" stroke="#000" stroke-width="1.5"/>
<circle cx="266.3" cy="900.1" r="7.2" fill="#5bc6dc" stroke="#000" stroke-width="1.5"/>
<circle cx="274.2" cy="900.1" r="7.2" fill="#5bc6dc" stroke="#000" stroke-width="1.5"/>
<circle cx="278.1" cy="900.1" r="7.2" fill="#5bc6dc" stroke="#000" stroke-width="1.5"/>
<circle cx="282.1" cy="900.1" r="7.2" fill="#5bc6dc" stroke="#000" stroke-width="1.5"/>
<circle cx="286.1" cy="900.1" r="7.2" fill="#5bc6dc" stroke="#000" stroke-width="1.5"/>
<circle cx="290.0" cy="900.1" r="7.2" fill="#5bc6dc" stroke="#000" stroke-width="1.5"/>
<circle cx="294.8" cy="900.1" r="7.2" fill="#5bc6dc" stroke="#000" stroke-width="1.5"/>
<circle cx="305.9" cy="900.1" r="7.2" fill="#5bc6dc" stroke="#000" stroke-width="1.5"/>
<circle cx="309.8" cy="900.1" r="7.2" fill="#5bc6dc" stroke="#000" stroke-width="1.5"/>
<circle cx="315.8" cy="900.1" r="7.2" fill="#5bc6dc" stroke="#000" stroke-width="1.5"/>
<circle cx="319.7" cy="900.1" r="7.2" fill="#5bc6dc" stroke="#000" stroke-width="1.5"/>
<circle cx="323.7" cy="900.1" r="7.2" fill="#5bc6dc" stroke="#000" stroke-width="1.5"/>
<circle cx="327.6" cy="900.1" r="7.2" fill="#5bc6dc" stroke="#000" stroke-width="1.5"/>
<circle cx="331.6" cy="900.1" r="7.2" fill="#5bc6dc" stroke="#000" stroke-width="1.5"/>
<circle cx="335.6" cy="900.1" r="7.2" fill="#5bc6dc" stroke="#000" stroke-width="1.5"/>
<circle cx="339.5" cy="900.1" r="7.2" fill="#5bc6dc" stroke="#000" stroke-width="1.5"/>
<circle cx="352.2" cy="900.1" r="7.2" fill="#5bc6dc" stroke="#000" stroke-width="1.5"/>
<circle cx="359.3" cy="900.1" r="7.2" fill="#5bc6dc" stroke="#000" stroke-width="1.5"/>
<circle cx="363.3" cy="900.1" r="7.2" fill="#5bc6dc" stroke="#000" stroke-width="1.5"/>
<circle cx="369.2" cy="900.1" r="7.2" fill="#5bc6dc" stroke="#000" stroke-width="1.5"/>
<circle cx="373.2" cy="900.1" r="7.2" fill="#5bc6dc" stroke="#000" stroke-width="1.5"/>
<circle cx="380.3" cy="900.1" r="7.2" fill="#5bc6dc" stroke="#000" stroke-width="1.5"/>
<circle cx="385.8" cy="900.1" r="7.2" fill="#5bc6dc" stroke="#000" stroke-width="1.5"/>
<circle cx="391.0" cy="900.1" r="7.2" fill="#5bc6dc" stroke="#000" stroke-width="1.5"/>
<circle cx="394.9" cy="900.1" r="7.2" fill="#5bc6dc" stroke="#000" stroke-width="1.5"/>
<circle cx="398.9" cy="900.1" r="7.2" fill="#5bc6dc" stroke="#000" stroke-width="1.5"/>
<circle cx="402.9" cy="900.1" r="7.2" fill="#5bc6dc" stroke="#000" stroke-width="1.5"/>
<circle cx="406.8" cy="900.1" r="7.2" fill="#5bc6dc" stroke="#000" stroke-width="1.5"/>
<circle cx="410.8" cy="900.1" r="7.2" fill="#5bc6dc" stroke="#000" stroke-width="1.5"/>
<circle cx="414.7" cy="900.1" r="7.2" fill="#5bc6dc" stroke="#000" stroke-width="1.5"/>
<circle cx="418.7" cy="900.1" r="7.2" fill="#5bc6dc" stroke="#000" stroke-width="1.5"/>
<circle cx="423.8" cy="900.1" r="7.2" fill="#5bc6dc" stroke="#000" stroke-width="1.5"/>
<circle cx="428.6" cy="900.1" r="7.2" fill="#5bc6dc" stroke="#000" stroke-width="1.5"/>
<circle cx="435.7" cy="900.1" r="7.2" fill="#5bc6dc" stroke="#000" stroke-width="1.5"/>
<circle cx="438.5" cy="900.1" r="7.2" fill="#5bc6dc" stroke="#000" stroke-width="1.5"/>
<circle cx="444.4" cy="900.1" r="7.2" fill="#5bc6dc" stroke="#000" stroke-width="1.5"/>
<circle cx="448.4" cy="900.1" r="7.2" fill="#5bc6dc" stroke="#000" stroke-width="1.5"/>
<circle cx="452.3" cy="900.1" r="7.2" fill="#5bc6dc" stroke="#000" stroke-width="1.5"/>
<circle cx="456.3" cy="900.1" r="7.2" fill="#5bc6dc" stroke="#000" stroke-width="1.5"/>
<circle cx="466.2" cy="900.1" r="7.2" fill="#5bc6dc" stroke="#000" stroke-width="1.5"/>
<circle cx="499.8" cy="900.1" r="7.2" fill="#5bc6dc" stroke="#000" stroke-width="1.5"/>
<rect x="468.2" y="916.3" width="9.8" height="12.5" fill="#5aa8dc" stroke="none" stroke-width="0" />
<rect x="481.2" y="916.3" width="4.8" height="12.5" fill="#5aa8dc" stroke="none" stroke-width="0" />
<rect x="490.0" y="916.3" width="27.6" height="12.5" fill="#5aa8dc" stroke="none" stroke-width="0" />
<rect x="145.7" y="926.6" width="2.2" height="12.7" fill="#3f51b5" stroke="none" stroke-width="0" />
<circle cx="469.0" cy="937.3" r="7.2" fill="#5aa8dc" stroke="#000" stroke-width="1.5"/>
<circle cx="480.8" cy="937.3" r="7.2" fill="#5aa8dc" stroke="#000" stroke-width="1.5"/>
<circle cx="490.0" cy="937.3" r="7.2" fill="#5aa8dc" stroke="#000" stroke-width="1.5"/>
<rect x="412.7" y="953.5" width="5.2" height="12.5" fill="#3f51b5" stroke="none" stroke-width="0" />
<rect x="438.5" y="953.5" width="2.0" height="12.5" fill="#3f51b5" stroke="none" stroke-width="0" />
<rect x="451.5" y="953.5" width="9.5" height="12.5" fill="#3f51b5" stroke="none" stroke-width="0" />
<rect x="462.2" y="953.5" width="5.2" height="12.5" fill="#3f51b5" stroke="none" stroke-width="0" />
<rect x="468.2" y="953.5" width="1.6" height="12.5" fill="#3f51b5" stroke="none" stroke-width="0" />
<rect x="487.2" y="953.5" width="5.9" height="12.5" fill="#3f51b5" stroke="none" stroke-width="0" />
<rect x="501.8" y="953.5" width="3.2" height="12.5" fill="#3f51b5" stroke="none" stroke-width="0" />
<rect x="592.0" y="953.5" width="4.0" height="12.5" fill="#3f51b5" stroke="none" stroke-width="0" />
<rect x="625.7" y="953.5" width="4.0" height="12.5" fill="#3f51b5" stroke="none" stroke-width="0" />
<rect x="663.3" y="953.5" width="5.7" height="12.5" fill="#3f51b5" stroke="none" stroke-width="0" />
<rect x="708.5" y="953.5" width="3.5" height="12.5" fill="#3f51b5" stroke="none" stroke-width="0" />
<rect x="715.6" y="953.5" width="3.2" height="12.5" fill="#3f51b5" stroke="none" stroke-width="0" />
<rect x="779.7" y="953.5" width="3.6" height="12.5" fill="#3f51b5" stroke="none" stroke-width="0" />
<circle cx="115.7" cy="974.5" r="7.2" fill="#3f51b5" stroke="#000" stroke-width="1.5"/>
<circle cx="463.4" cy="974.5" r="7.2" fill="#3f51b5" stroke="#000" stroke-width="1.5"/>
<circle cx="470.1" cy="974.5" r="7.2" fill="#3f51b5" stroke="#000" stroke-width="1.5"/>
<circle cx="491.9" cy="974.5" r="7.2" fill="#3f51b5" stroke="#000" stroke-width="1.5"/>
<rect x="172.0" y="990.8" width="4.4" height="12.5" fill="#e0077d" stroke="none" stroke-width="0" />
<rect x="202.1" y="990.8" width="3.6" height="12.5" fill="#e0077d" stroke="none" stroke-width="0" />
<rect x="281.7" y="990.8" width="3.6" height="12.5" fill="#e0077d" stroke="none" stroke-width="0" />
<rect x="316.5" y="990.8" width="77.2" height="12.5" fill="#e0077d" stroke="none" stroke-width="0" />
<rect x="415.5" y="990.8" width="41.6" height="12.5" fill="#e0077d" stroke="none" stroke-width="0" />
<rect x="464.2" y="990.8" width="102.2" height="12.5" fill="#e0077d" stroke="none" stroke-width="0" />
<rect x="568.3" y="990.8" width="4.0" height="12.5" fill="#e0077d" stroke="none" stroke-width="0" />
<rect x="581.8" y="990.8" width="11.9" height="12.5" fill="#e0077d" stroke="none" stroke-width="0" />
<rect x="603.6" y="990.8" width="8.3" height="12.5" fill="#e0077d" stroke="none" stroke-width="0" />
<rect x="620.6" y="990.8" width="3.9" height="12.5" fill="#e0077d" stroke="none" stroke-width="0" />
<rect x="632.5" y="990.8" width="10.7" height="12.5" fill="#e0077d" stroke="none" stroke-width="0" />
<rect x="650.3" y="990.8" width="3.9" height="12.5" fill="#e0077d" stroke="none" stroke-width="0" />
<rect x="664.1" y="990.8" width="8.7" height="12.5" fill="#e0077d" stroke="none" stroke-width="0" />
<rect x="695.8" y="990.8" width="4.0" height="12.5" fill="#e0077d" stroke="none" stroke-width="0" />
<rect x="709.7" y="990.8" width="7.9" height="12.5" fill="#e0077d" stroke="none" stroke-width="0" />
<rect x="719.6" y="990.8" width="6.7" height="12.5" fill="#e0077d" stroke="none" stroke-width="0" />
<rect x="728.7" y="990.8" width="3.9" height="12.5" fill="#e0077d" stroke="none" stroke-width="0" />
<rect x="743.3" y="990.8" width="2.0" height="12.5" fill="#e0077d" stroke="none" stroke-width="0" />
<rect x="769.0" y="990.8" width="8.8" height="12.5" fill="#e0077d" stroke="none" stroke-width="0" />
<rect x="788.8" y="990.8" width="4.8" height="12.5" fill="#e0077d" stroke="none" stroke-width="0" />
<circle cx="202.1" cy="1011.8" r="7.2" fill="#e0077d" stroke="#000" stroke-width="1.5"/>
<circle cx="205.0" cy="1011.8" r="7.2" fill="#e0077d" stroke="#000" stroke-width="1.5"/>
<circle cx="315.8" cy="1011.8" r="7.2" fill="#e0077d" stroke="#000" stroke-width="1.5"/>
<circle cx="320.6" cy="1011.8" r="7.2" fill="#e0077d" stroke="#000" stroke-width="1.5"/>
<circle cx="325.4" cy="1011.8" r="7.2" fill="#e0077d" stroke="#000" stroke-width="1.5"/>
<circle cx="330.3" cy="1011.8" r="7.2" fill="#e0077d" stroke="#000" stroke-width="1.5"/>
<circle cx="335.1" cy="1011.8" r="7.2" fill="#e0077d" stroke="#000" stroke-width="1.5"/>
<circle cx="339.9" cy="1011.8" r="7.2" fill="#e0077d" stroke="#000" stroke-width="1.5"/>
<circle cx="344.8" cy="1011.8" r="7.2" fill="#e0077d" stroke="#000" stroke-width="1.5"/>
<circle cx="349.6" cy="1011.8" r="7.2" fill="#e0077d" stroke="#000" stroke-width="1.5"/>
<circle cx="354.4" cy="1011.8" r="7.2" fill="#e0077d" stroke="#000" stroke-width="1.5"/>
<circle cx="359.2" cy="1011.8" r="7.2" fill="#e0077d" stroke="#000" stroke-width="1.5"/>
<circle cx="364.1" cy="1011.8" r="7.2" fill="#e0077d" stroke="#000" stroke-width="1.5"/>
<circle cx="368.9" cy="1011.8" r="7.2" fill="#e0077d" stroke="#000" stroke-width="1.5"/>
<circle cx="373.7" cy="1011.8" r="7.2" fill="#e0077d" stroke="#000" stroke-width="1.5"/>
<circle cx="378.5" cy="1011.8" r="7.2" fill="#e0077d" stroke="#000" stroke-width="1.5"/>
<circle cx="383.4" cy="1011.8" r="7.2" fill="#e0077d" stroke="#000" stroke-width="1.5"/>
<circle cx="388.2" cy="1011.8" r="7.2" fill="#e0077d" stroke="#000" stroke-width="1.5"/>
<circle cx="393.0" cy="1011.8" r="7.2" fill="#e0077d" stroke="#000" stroke-width="1.5"/>
<circle cx="418.7" cy="1011.8" r="7.2" fill="#e0077d" stroke="#000" stroke-width="1.5"/>
<circle cx="428.6" cy="1011.8" r="7.2" fill="#e0077d" stroke="#000" stroke-width="1.5"/>
<circle cx="439.7" cy="1011.8" r="7.2" fill="#e0077d" stroke="#000" stroke-width="1.5"/>
<circle cx="448.4" cy="1011.8" r="7.2" fill="#e0077d" stroke="#000" stroke-width="1.5"/>
<circle cx="456.3" cy="1011.8" r="7.2" fill="#e0077d" stroke="#000" stroke-width="1.5"/>
<circle cx="464.2" cy="1011.8" r="7.2" fill="#e0077d" stroke="#000" stroke-width="1.5"/>
<circle cx="466.2" cy="1011.8" r="7.2" fill="#e0077d" stroke="#000" stroke-width="1.5"/>
<circle cx="468.2" cy="1011.8" r="7.2" fill="#e0077d" stroke="#000" stroke-width="1.5"/>
<circle cx="470.2" cy="1011.8" r="7.2" fill="#e0077d" stroke="#000" stroke-width="1.5"/>
<circle cx="472.1" cy="1011.8" r="7.2" fill="#e0077d" stroke="#000" stroke-width="1.5"/>
<circle cx="474.1" cy="1011.8" r="7.2" fill="#e0077d" stroke="#000" stroke-width="1.5"/>
<circle cx="476.1" cy="1011.8" r="7.2" fill="#e0077d" stroke="#000" stroke-width="1.5"/>
<circle cx="478.1" cy="1011.8" r="7.2" fill="#e0077d" stroke="#000" stroke-width="1.5"/>
<circle cx="480.0" cy="1011.8" r="7.2" fill="#e0077d" stroke="#000" stroke-width="1.5"/>
<circle cx="482.0" cy="1011.8" r="7.2" fill="#e0077d" stroke="#000" stroke-width="1.5"/>
<circle cx="484.0" cy="1011.8" r="7.2" fill="#e0077d" stroke="#000" stroke-width="1.5"/>
<circle cx="486.0" cy="1011.8" r="7.2" fill="#e0077d" stroke="#000" stroke-width="1.5"/>
<circle cx="488.0" cy="1011.8" r="7.2" fill="#e0077d" stroke="#000" stroke-width="1.5"/>
<circle cx="489.9" cy="1011.8" r="7.2" fill="#e0077d" stroke="#000" stroke-width="1.5"/>
<circle cx="491.9" cy="1011.8" r="7.2" fill="#e0077d" stroke="#000" stroke-width="1.5"/>
<circle cx="493.9" cy="1011.8" r="7.2" fill="#e0077d" stroke="#000" stroke-width="1.5"/>
<circle cx="495.9" cy="1011.8" r="7.2" fill="#e0077d" stroke="#000" stroke-width="1.5"/>
<circle cx="501.8" cy="1011.8" r="7.2" fill="#e0077d" stroke="#000" stroke-width="1.5"/>
<circle cx="511.7" cy="1011.8" r="7.2" fill="#e0077d" stroke="#000" stroke-width="1.5"/>
<circle cx="521.6" cy="1011.8" r="7.2" fill="#e0077d" stroke="#000" stroke-width="1.5"/>
<circle cx="527.6" cy="1011.8" r="7.2" fill="#e0077d" stroke="#000" stroke-width="1.5"/>
<rect x="146.7" y="1028.0" width="1.6" height="12.5" fill="#8e3cb4" stroke="none" stroke-width="0" />
<rect x="159.8" y="1028.0" width="1.6" height="12.5" fill="#8e3cb4" stroke="none" stroke-width="0" />
<rect x="170.5" y="1028.0" width="3.0" height="12.5" fill="#8e3cb4" stroke="none" stroke-width="0" />
<rect x="188.8" y="1028.0" width="3.0" height="12.5" fill="#8e3cb4" stroke="none" stroke-width="0" />
<rect x="210.0" y="1028.0" width="1.6" height="12.5" fill="#8e3cb4" stroke="none" stroke-width="0" />
<rect x="218.8" y="1028.0" width="3.7" height="12.5" fill="#8e3cb4" stroke="none" stroke-width="0" />
<rect x="223.5" y="1028.0" width="1.5" height="12.5" fill="#8e3cb4" stroke="none" stroke-width="0" />
<rect x="226.2" y="1028.0" width="1.2" height="12.5" fill="#8e3cb4" stroke="none" stroke-width="0" />
<rect x="227.6" y="1028.0" width="1.6" height="12.5" fill="#8e3cb4" stroke="none" stroke-width="0" />
<rect x="238.6" y="1028.0" width="1.6" height="12.5" fill="#8e3cb4" stroke="none" stroke-width="0" />
<rect x="308.5" y="1028.0" width="2.5" height="12.5" fill="#8e3cb4" stroke="none" stroke-width="0" />
<rect x="379.1" y="1028.0" width="1.6" height="12.5" fill="#8e3cb4" stroke="none" stroke-width="0" />
<rect x="389.5" y="1028.0" width="3.0" height="12.5" fill="#8e3cb4" stroke="none" stroke-width="0" />
<rect x="442.0" y="1028.0" width="1.6" height="12.5" fill="#8e3cb4" stroke="none" stroke-width="0" />
<rect x="479.5" y="1028.0" width="2.5" height="12.5" fill="#8e3cb4" stroke="none" stroke-width="0" />
<rect x="496.4" y="1028.0" width="3.0" height="12.5" fill="#8e3cb4" stroke="none" stroke-width="0" />
<circle cx="146.7" cy="1049.0" r="7.2" fill="#8e3cb4" stroke="#000" stroke-width="1.5"/>
<circle cx="171.3" cy="1049.0" r="7.2" fill="#8e3cb4" stroke="#000" stroke-width="1.5"/>
<circle cx="189.0" cy="1049.0" r="7.2" fill="#8e3cb4" stroke="#000" stroke-width="1.5"/>
<circle cx="216.8" cy="1049.0" r="7.2" fill="#8e3cb4" stroke="#000" stroke-width="1.5"/>
<circle cx="220.7" cy="1049.0" r="7.2" fill="#8e3cb4" stroke="#000" stroke-width="1.5"/>
<circle cx="226.7" cy="1049.0" r="7.2" fill="#8e3cb4" stroke="#000" stroke-width="1.5"/>
<circle cx="309.0" cy="1049.0" r="7.2" fill="#8e3cb4" stroke="#000" stroke-width="1.5"/>
<circle cx="389.8" cy="1049.0" r="7.2" fill="#8e3cb4" stroke="#000" stroke-width="1.5"/>
<circle cx="480.8" cy="1049.0" r="7.2" fill="#8e3cb4" stroke="#000" stroke-width="1.5"/>
<circle cx="495.9" cy="1049.0" r="7.2" fill="#8e3cb4" stroke="#000" stroke-width="1.5"/>
<rect x="145.9" y="1065.2" width="1.6" height="12.5" fill="#e8533a" stroke="none" stroke-width="0" />
<rect x="178.4" y="1065.2" width="1.6" height="12.5" fill="#e8533a" stroke="none" stroke-width="0" />
<rect x="204.5" y="1065.2" width="2.5" height="12.5" fill="#e8533a" stroke="none" stroke-width="0" />
<rect x="234.6" y="1065.2" width="1.6" height="12.5" fill="#e8533a" stroke="none" stroke-width="0" />
<rect x="257.6" y="1065.2" width="1.6" height="12.5" fill="#e8533a" stroke="none" stroke-width="0" />
<rect x="282.1" y="1065.2" width="1.6" height="12.5" fill="#e8533a" stroke="none" stroke-width="0" />
<rect x="315.7" y="1065.2" width="1.6" height="12.5" fill="#e8533a" stroke="none" stroke-width="0" />
<rect x="352.2" y="1065.2" width="2.5" height="12.5" fill="#e8533a" stroke="none" stroke-width="0" />
<rect x="380.3" y="1065.2" width="1.6" height="12.5" fill="#e8533a" stroke="none" stroke-width="0" />
<rect x="408.0" y="1065.2" width="1.6" height="12.5" fill="#e8533a" stroke="none" stroke-width="0" />
<rect x="444.4" y="1065.2" width="1.6" height="12.5" fill="#e8533a" stroke="none" stroke-width="0" />
<rect x="458.3" y="1065.2" width="1.6" height="12.5" fill="#e8533a" stroke="none" stroke-width="0" />
<rect x="499.8" y="1065.2" width="1.6" height="12.5" fill="#e8533a" stroke="none" stroke-width="0" />
<circle cx="146.7" cy="1086.2" r="7.2" fill="#e8533a" stroke="#000" stroke-width="1.5"/>
<circle cx="179.2" cy="1086.2" r="7.2" fill="#e8533a" stroke="#000" stroke-width="1.5"/>
<circle cx="205.7" cy="1086.2" r="7.2" fill="#e8533a" stroke="#000" stroke-width="1.5"/>
<circle cx="235.4" cy="1086.2" r="7.2" fill="#e8533a" stroke="#000" stroke-width="1.5"/>
<circle cx="258.4" cy="1086.2" r="7.2" fill="#e8533a" stroke="#000" stroke-width="1.5"/>
<circle cx="282.9" cy="1086.2" r="7.2" fill="#e8533a" stroke="#000" stroke-width="1.5"/>
<circle cx="316.5" cy="1086.2" r="7.2" fill="#e8533a" stroke="#000" stroke-width="1.5"/>
<circle cx="353.4" cy="1086.2" r="7.2" fill="#e8533a" stroke="#000" stroke-width="1.5"/>
<circle cx="381.1" cy="1086.2" r="7.2" fill="#e8533a" stroke="#000" stroke-width="1.5"/>
<circle cx="408.8" cy="1086.2" r="7.2" fill="#e8533a" stroke="#000" stroke-width="1.5"/>
<circle cx="445.2" cy="1086.2" r="7.2" fill="#e8533a" stroke="#000" stroke-width="1.5"/>
<circle cx="459.1" cy="1086.2" r="7.2" fill="#e8533a" stroke="#000" stroke-width="1.5"/>
<circle cx="500.6" cy="1086.2" r="7.2" fill="#e8533a" stroke="#000" stroke-width="1.5"/>
<polyline points="989.4,700.9 969.9,710.4 989.4,719.9" fill="none" stroke="#e03a2a" stroke-width="2.9"/>
<polyline points="723.0,738.5 703.5,748.0 723.0,757.5" fill="none" stroke="#e03a2a" stroke-width="2.9"/>
<polyline points="1078.6,775.5 1059.1,785.0 1078.6,794.5" fill="none" stroke="#e03a2a" stroke-width="2.9"/>
<polyline points="1049.2,812.4 1029.7,821.9 1049.2,831.4" fill="none" stroke="#e03a2a" stroke-width="2.9"/>
<polyline points="1049.2,849.9 1029.7,859.4 1049.2,868.9" fill="none" stroke="#e03a2a" stroke-width="2.9"/>
<polyline points="1108.6,887.0 1089.1,896.5 1108.6,906.0" fill="none" stroke="#e03a2a" stroke-width="2.9"/>
<polyline points="1108.6,923.9 1089.1,933.4 1108.6,942.9" fill="none" stroke="#e03a2a" stroke-width="2.9"/>
<polyline points="1167.8,961.4 1148.3,970.9 1167.8,980.4" fill="none" stroke="#e03a2a" stroke-width="2.9"/>
<polyline points="1167.8,998.5 1148.3,1008.0 1167.8,1017.5" fill="none" stroke="#e03a2a" stroke-width="2.9"/>
<polyline points="1137.8,1035.4 1118.3,1044.9 1137.8,1054.4" fill="none" stroke="#e03a2a" stroke-width="2.9"/>
<polyline points="1228.2,1074.5 1208.7,1084.0 1228.2,1093.5" fill="none" stroke="#e03a2a" stroke-width="2.9"/>
<line x1="107.0" y1="1123.5" x2="1237.0" y2="1123.5" stroke="#000" stroke-width="1.6" />
<line x1="147.3" y1="1123.5" x2="147.3" y2="1136.0" stroke="#000" stroke-width="1.6" />
<text transform="translate(159.7,1160.8) rotate(-45)" font-size="26.8" text-anchor="end">−12</text>
<line x1="206.7" y1="1123.5" x2="206.7" y2="1136.0" stroke="#000" stroke-width="1.6" />
<text transform="translate(219.1,1160.8) rotate(-45)" font-size="26.8" text-anchor="end">−10</text>
<line x1="266.1" y1="1123.5" x2="266.1" y2="1136.0" stroke="#000" stroke-width="1.6" />
<text transform="translate(278.5,1160.8) rotate(-45)" font-size="26.8" text-anchor="end">−8</text>
<line x1="325.6" y1="1123.5" x2="325.6" y2="1136.0" stroke="#000" stroke-width="1.6" />
<text transform="translate(338.0,1160.8) rotate(-45)" font-size="26.8" text-anchor="end">−6</text>
<line x1="385.0" y1="1123.5" x2="385.0" y2="1136.0" stroke="#000" stroke-width="1.6" />
<text transform="translate(397.4,1160.8) rotate(-45)" font-size="26.8" text-anchor="end">−4</text>
<line x1="444.5" y1="1123.5" x2="444.5" y2="1136.0" stroke="#000" stroke-width="1.6" />
<text transform="translate(456.9,1160.8) rotate(-45)" font-size="26.8" text-anchor="end">−2</text>
<line x1="503.9" y1="1123.5" x2="503.9" y2="1136.0" stroke="#000" stroke-width="1.6" />
<text transform="translate(516.3,1160.8) rotate(-45)" font-size="26.8" text-anchor="end">0</text>
<line x1="563.3" y1="1123.5" x2="563.3" y2="1136.0" stroke="#000" stroke-width="1.6" />
<text transform="translate(575.7,1160.8) rotate(-45)" font-size="26.8" text-anchor="end">2</text>
<line x1="622.8" y1="1123.5" x2="622.8" y2="1136.0" stroke="#000" stroke-width="1.6" />
<text transform="translate(635.2,1160.8) rotate(-45)" font-size="26.8" text-anchor="end">4</text>
<line x1="682.2" y1="1123.5" x2="682.2" y2="1136.0" stroke="#000" stroke-width="1.6" />
<text transform="translate(694.6,1160.8) rotate(-45)" font-size="26.8" text-anchor="end">6</text>
<line x1="741.7" y1="1123.5" x2="741.7" y2="1136.0" stroke="#000" stroke-width="1.6" />
<text transform="translate(754.1,1160.8) rotate(-45)" font-size="26.8" text-anchor="end">8</text>
<line x1="801.1" y1="1123.5" x2="801.1" y2="1136.0" stroke="#000" stroke-width="1.6" />
<text transform="translate(813.5,1160.8) rotate(-45)" font-size="26.8" text-anchor="end">10</text>
<line x1="860.5" y1="1123.5" x2="860.5" y2="1136.0" stroke="#000" stroke-width="1.6" />
<text transform="translate(872.9,1160.8) rotate(-45)" font-size="26.8" text-anchor="end">12</text>
<line x1="920.0" y1="1123.5" x2="920.0" y2="1136.0" stroke="#000" stroke-width="1.6" />
<text transform="translate(932.4,1160.8) rotate(-45)" font-size="26.8" text-anchor="end">14</text>
<line x1="979.4" y1="1123.5" x2="979.4" y2="1136.0" stroke="#000" stroke-width="1.6" />
<text transform="translate(991.8,1160.8) rotate(-45)" font-size="26.8" text-anchor="end">16</text>
<line x1="1038.9" y1="1123.5" x2="1038.9" y2="1136.0" stroke="#000" stroke-width="1.6" />
<text transform="translate(1051.3,1160.8) rotate(-45)" font-size="26.8" text-anchor="end">18</text>
<line x1="1098.3" y1="1123.5" x2="1098.3" y2="1136.0" stroke="#000" stroke-width="1.6" />
<text transform="translate(1110.7,1160.8) rotate(-45)" font-size="26.8" text-anchor="end">20</text>
<line x1="1157.7" y1="1123.5" x2="1157.7" y2="1136.0" stroke="#000" stroke-width="1.6" />
<text transform="translate(1170.1,1160.8) rotate(-45)" font-size="26.8" text-anchor="end">22</text>
<line x1="1217.2" y1="1123.5" x2="1217.2" y2="1136.0" stroke="#000" stroke-width="1.6" />
<text transform="translate(1229.6,1160.8) rotate(-45)" font-size="26.8" text-anchor="end">24</text>
<text x="15.8" y="1174.7" font-size="26.8" text-anchor="start" fill="#000" >Months</text>
<text x="568.0" y="1218.0" font-size="26.8" text-anchor="start" fill="#000" >Start of treatment</text>
<line x1="545" y1="1191.9" x2="527" y2="1174" stroke="#d93a2b" stroke-width="3"/>
<path d="M519.3,1165.9 L534.8,1170.4 L522.9,1181.2 Z" fill="#d93a2b"/>
<text transform="translate(1298.9,29.3) scale(0.9,1)" font-size="30" font-weight="bold">c</text>
<text x="1484.5" y="112.0" font-size="26.8" text-anchor="start" fill="#000" >Clinical feature</text>
<rect x="1392.7" y="181.1" width="47.3" height="47.0" fill="#e03625" stroke="none" stroke-width="0" />
<rect x="1392.7" y="228.1" width="47.3" height="47.0" fill="#e43d32" stroke="none" stroke-width="0" />
<rect x="1392.7" y="275.0" width="47.3" height="47.0" fill="#e9494a" stroke="none" stroke-width="0" />
<rect x="1392.7" y="322.0" width="47.3" height="47.0" fill="#f0585d" stroke="none" stroke-width="0" />
<rect x="1392.7" y="369.0" width="47.3" height="47.0" fill="#f66d72" stroke="none" stroke-width="0" />
<rect x="1392.7" y="416.0" width="47.3" height="47.0" fill="#fd8487" stroke="none" stroke-width="0" />
<rect x="1392.7" y="462.9" width="47.3" height="47.0" fill="#fe9ea1" stroke="none" stroke-width="0" />
<rect x="1392.7" y="509.9" width="47.3" height="47.0" fill="#ffb7ba" stroke="none" stroke-width="0" />
<rect x="1392.7" y="556.9" width="47.3" height="47.0" fill="#ffd3d5" stroke="none" stroke-width="0" />
<rect x="1392.7" y="603.9" width="47.3" height="47.0" fill="#ffe8e9" stroke="none" stroke-width="0" />
<rect x="1392.7" y="650.8" width="47.3" height="47.0" fill="#ffffff" stroke="none" stroke-width="0" />
<line x1="1392.7" y1="228.1" x2="1440.0" y2="228.1" stroke="#000" stroke-width="2.2" />
<line x1="1392.7" y1="275.0" x2="1440.0" y2="275.0" stroke="#000" stroke-width="2.2" />
<line x1="1392.7" y1="322.0" x2="1440.0" y2="322.0" stroke="#000" stroke-width="2.2" />
<line x1="1392.7" y1="369.0" x2="1440.0" y2="369.0" stroke="#000" stroke-width="2.2" />
<line x1="1392.7" y1="416.0" x2="1440.0" y2="416.0" stroke="#000" stroke-width="2.2" />
<line x1="1392.7" y1="462.9" x2="1440.0" y2="462.9" stroke="#000" stroke-width="2.2" />
<line x1="1392.7" y1="509.9" x2="1440.0" y2="509.9" stroke="#000" stroke-width="2.2" />
<line x1="1392.7" y1="556.9" x2="1440.0" y2="556.9" stroke="#000" stroke-width="2.2" />
<line x1="1392.7" y1="603.9" x2="1440.0" y2="603.9" stroke="#000" stroke-width="2.2" />
<line x1="1392.7" y1="650.8" x2="1440.0" y2="650.8" stroke="#000" stroke-width="2.2" />
<rect x="1392.7" y="181.1" width="47.3" height="516.7" fill="none" stroke="#000" stroke-width="2.3" />
<text x="1377.0" y="216.8" font-size="26.8" text-anchor="end" fill="#000" >100%</text>
<text x="1377.0" y="449.7" font-size="26.8" text-anchor="end" fill="#000" >50%</text>
<text x="1377.0" y="685.7" font-size="26.8" text-anchor="end" fill="#000" >0%</text>
<rect x="1743.9" y="174.2" width="118.1" height="45.9" fill="#e03625" stroke="none" stroke-width="0" />
<rect x="1862.0" y="174.2" width="118.1" height="45.9" fill="#e03625" stroke="none" stroke-width="0" />
<rect x="1980.0" y="174.2" width="118.1" height="45.9" fill="#ffffff" stroke="none" stroke-width="0" />
<rect x="1743.9" y="220.1" width="118.1" height="45.9" fill="#e53f37" stroke="none" stroke-width="0" />
<rect x="1862.0" y="220.1" width="118.1" height="45.9" fill="#e53f37" stroke="none" stroke-width="0" />
<rect x="1980.0" y="220.1" width="118.1" height="45.9" fill="#ffffff" stroke="none" stroke-width="0" />
<rect x="1743.9" y="266.0" width="118.1" height="45.9" fill="#e53f37" stroke="none" stroke-width="0" />
<rect x="1862.0" y="266.0" width="118.1" height="45.9" fill="#e53f37" stroke="none" stroke-width="0" />
<rect x="1980.0" y="266.0" width="118.1" height="45.9" fill="#ffffff" stroke="none" stroke-width="0" />
<rect x="1743.9" y="311.9" width="118.1" height="45.9" fill="#e53f37" stroke="none" stroke-width="0" />
<rect x="1862.0" y="311.9" width="118.1" height="45.9" fill="#e6423c" stroke="none" stroke-width="0" />
<rect x="1980.0" y="311.9" width="118.1" height="45.9" fill="#ffffff" stroke="none" stroke-width="0" />
<rect x="1743.9" y="357.8" width="118.1" height="45.9" fill="#ec5054" stroke="none" stroke-width="0" />
<rect x="1862.0" y="357.8" width="118.1" height="45.9" fill="#ec5054" stroke="none" stroke-width="0" />
<rect x="1980.0" y="357.8" width="118.1" height="45.9" fill="#ffffff" stroke="none" stroke-width="0" />
<rect x="1743.9" y="403.7" width="118.1" height="45.9" fill="#e53f37" stroke="none" stroke-width="0" />
<rect x="1862.0" y="403.7" width="118.1" height="45.9" fill="#e53f37" stroke="none" stroke-width="0" />
<rect x="1980.0" y="403.7" width="118.1" height="45.9" fill="#ffffff" stroke="none" stroke-width="0" />
<rect x="1743.9" y="449.6" width="118.1" height="45.9" fill="#e23a2d" stroke="none" stroke-width="0" />
<rect x="1862.0" y="449.6" width="118.1" height="45.9" fill="#f15a5f" stroke="none" stroke-width="0" />
<rect x="1980.0" y="449.6" width="118.1" height="45.9" fill="#fff1f2" stroke="none" stroke-width="0" />
<rect x="1743.9" y="495.5" width="118.1" height="45.9" fill="#fea3a6" stroke="none" stroke-width="0" />
<rect x="1862.0" y="495.5" width="118.1" height="45.9" fill="#fea3a6" stroke="none" stroke-width="0" />
<rect x="1980.0" y="495.5" width="118.1" height="45.9" fill="#ffc5c8" stroke="none" stroke-width="0" />
<rect x="1743.9" y="541.4" width="118.1" height="45.9" fill="#e9494a" stroke="none" stroke-width="0" />
<rect x="1862.0" y="541.4" width="118.1" height="45.9" fill="#e53f37" stroke="none" stroke-width="0" />
<rect x="1980.0" y="541.4" width="118.1" height="45.9" fill="#fff1f2" stroke="none" stroke-width="0" />
<rect x="1743.9" y="587.3" width="118.1" height="45.9" fill="#fea3a6" stroke="none" stroke-width="0" />
<rect x="1862.0" y="587.3" width="118.1" height="45.9" fill="#fd8487" stroke="none" stroke-width="0" />
<rect x="1980.0" y="587.3" width="118.1" height="45.9" fill="#ffffff" stroke="none" stroke-width="0" />
<rect x="1743.9" y="633.2" width="118.1" height="45.9" fill="#e03625" stroke="none" stroke-width="0" />
<rect x="1862.0" y="633.2" width="118.1" height="45.9" fill="#e03625" stroke="none" stroke-width="0" />
<rect x="1980.0" y="633.2" width="118.1" height="45.9" fill="#ffffff" stroke="none" stroke-width="0" />
<rect x="1743.9" y="679.1" width="118.1" height="45.9" fill="#e03625" stroke="none" stroke-width="0" />
<rect x="1862.0" y="679.1" width="118.1" height="45.9" fill="#e03625" stroke="none" stroke-width="0" />
<rect x="1980.0" y="679.1" width="118.1" height="45.9" fill="#ffffff" stroke="none" stroke-width="0" />
<rect x="1743.9" y="725.0" width="118.1" height="45.9" fill="#e03625" stroke="none" stroke-width="0" />
<rect x="1862.0" y="725.0" width="118.1" height="45.9" fill="#e03625" stroke="none" stroke-width="0" />
<rect x="1980.0" y="725.0" width="118.1" height="45.9" fill="#fff1f2" stroke="none" stroke-width="0" />
<rect x="1743.9" y="770.9" width="118.1" height="45.9" fill="#e9494a" stroke="none" stroke-width="0" />
<rect x="1862.0" y="770.9" width="118.1" height="45.9" fill="#ee5457" stroke="none" stroke-width="0" />
<rect x="1980.0" y="770.9" width="118.1" height="45.9" fill="#ffffff" stroke="none" stroke-width="0" />
<line x1="1743.9" y1="220.1" x2="2098.1" y2="220.1" stroke="#000" stroke-width="2.2" />
<line x1="1743.9" y1="266.0" x2="2098.1" y2="266.0" stroke="#000" stroke-width="2.2" />
<line x1="1743.9" y1="311.9" x2="2098.1" y2="311.9" stroke="#000" stroke-width="2.2" />
<line x1="1743.9" y1="357.8" x2="2098.1" y2="357.8" stroke="#000" stroke-width="2.2" />
<line x1="1743.9" y1="403.7" x2="2098.1" y2="403.7" stroke="#000" stroke-width="2.2" />
<line x1="1743.9" y1="449.6" x2="2098.1" y2="449.6" stroke="#000" stroke-width="2.2" />
<line x1="1743.9" y1="495.5" x2="2098.1" y2="495.5" stroke="#000" stroke-width="2.2" />
<line x1="1743.9" y1="541.4" x2="2098.1" y2="541.4" stroke="#000" stroke-width="2.2" />
<line x1="1743.9" y1="587.3" x2="2098.1" y2="587.3" stroke="#000" stroke-width="2.2" />
<line x1="1743.9" y1="633.2" x2="2098.1" y2="633.2" stroke="#000" stroke-width="2.2" />
<line x1="1743.9" y1="679.1" x2="2098.1" y2="679.1" stroke="#000" stroke-width="2.2" />
<line x1="1743.9" y1="725.0" x2="2098.1" y2="725.0" stroke="#000" stroke-width="2.2" />
<line x1="1743.9" y1="770.9" x2="2098.1" y2="770.9" stroke="#000" stroke-width="2.2" />
<line x1="1862.0" y1="174.2" x2="1862.0" y2="816.8" stroke="#000" stroke-width="2.2" />
<line x1="1980.0" y1="174.2" x2="1980.0" y2="816.8" stroke="#000" stroke-width="2.2" />
<rect x="1743.9" y="174.2" width="354.2" height="642.6" fill="none" stroke="#000" stroke-width="2.3" />
<text x="1726.4" y="211.3" font-size="26.8" text-anchor="end" fill="#000" >Abdominal pain</text>
<text x="1804.9" y="210.0" font-size="26.8" text-anchor="middle" fill="#000" >100</text>
<text x="1923.0" y="210.0" font-size="26.8" text-anchor="middle" fill="#000" >100</text>
<text x="2041.1" y="210.0" font-size="26.8" text-anchor="middle" fill="#000" >0</text>
<text x="1726.4" y="256.5" font-size="26.8" text-anchor="end" fill="#000" >Nausea</text>
<text x="1804.9" y="255.9" font-size="26.8" text-anchor="middle" fill="#000" >88</text>
<text x="1923.0" y="255.9" font-size="26.8" text-anchor="middle" fill="#000" >88</text>
<text x="2041.1" y="255.9" font-size="26.8" text-anchor="middle" fill="#000" >0</text>
<text x="1726.4" y="302.1" font-size="26.8" text-anchor="end" fill="#000" >Vomiting</text>
<text x="1804.9" y="301.8" font-size="26.8" text-anchor="middle" fill="#000" >88</text>
<text x="1923.0" y="301.8" font-size="26.8" text-anchor="middle" fill="#000" >88</text>
<text x="2041.1" y="301.8" font-size="26.8" text-anchor="middle" fill="#000" >0</text>
<text x="1726.4" y="347.9" font-size="26.8" text-anchor="end" fill="#000" >Diarrhea</text>
<text x="1804.9" y="347.7" font-size="26.8" text-anchor="middle" fill="#000" >88</text>
<text x="1923.0" y="347.7" font-size="26.8" text-anchor="middle" fill="#000" >86</text>
<text x="2041.1" y="347.7" font-size="26.8" text-anchor="middle" fill="#000" >0</text>
<text x="1726.4" y="393.5" font-size="26.8" text-anchor="end" fill="#000" >Loss of appetite</text>
<text x="1804.9" y="393.6" font-size="26.8" text-anchor="middle" fill="#000" >75</text>
<text x="1923.0" y="393.6" font-size="26.8" text-anchor="middle" fill="#000" >75</text>
<text x="2041.1" y="393.6" font-size="26.8" text-anchor="middle" fill="#000" >0</text>
<text x="1726.4" y="441.5" font-size="26.8" text-anchor="end" fill="#000" >Edema</text>
<text x="1804.9" y="439.5" font-size="26.8" text-anchor="middle" fill="#000" >88</text>
<text x="1923.0" y="439.5" font-size="26.8" text-anchor="middle" fill="#000" >88</text>
<text x="2041.1" y="439.5" font-size="26.8" text-anchor="middle" fill="#000" >0</text>
<text x="1726.4" y="486.7" font-size="26.8" text-anchor="end" fill="#000" >Albumin transfusion</text>
<text x="1804.9" y="485.4" font-size="26.8" text-anchor="middle" fill="#000" >94</text>
<text x="1923.0" y="485.4" font-size="26.8" text-anchor="middle" fill="#000" >69</text>
<text x="2041.1" y="485.4" font-size="26.8" text-anchor="middle" fill="#000" >6</text>
<text x="1726.4" y="530.2" font-size="26.8" text-anchor="end" fill="#000" >Thromboembolism</text>
<text x="1804.9" y="531.3" font-size="26.8" text-anchor="middle" fill="#000" >38</text>
<text x="1923.0" y="531.3" font-size="26.8" text-anchor="middle" fill="#000" >38</text>
<text x="2041.1" y="531.3" font-size="26.8" text-anchor="middle" fill="#000" >25</text>
<text x="1726.4" y="575.1" font-size="26.8" text-anchor="end" fill="#000" >Thrombocytosis</text>
<text x="1804.9" y="577.2" font-size="26.8" text-anchor="middle" fill="#000" >80</text>
<text x="1923.0" y="577.2" font-size="26.8" text-anchor="middle" fill="#000" >88</text>
<text x="2041.1" y="577.2" font-size="26.8" text-anchor="middle" fill="#000" >6</text>
<text x="1726.4" y="619.8" font-size="26.8" text-anchor="end" fill="#000" >Bowel obstruction</text>
<text x="1804.9" y="623.1" font-size="26.8" text-anchor="middle" fill="#000" >38</text>
<text x="1923.0" y="623.1" font-size="26.8" text-anchor="middle" fill="#000" >50</text>
<text x="2041.1" y="623.1" font-size="26.8" text-anchor="middle" fill="#000" >0</text>
<text x="1726.4" y="665.2" font-size="26.8" text-anchor="end" fill="#000" >Low albumin</text>
<text x="1804.9" y="669.0" font-size="26.8" text-anchor="middle" fill="#000" >100</text>
<text x="1923.0" y="669.0" font-size="26.8" text-anchor="middle" fill="#000" >100</text>
<text x="2041.1" y="669.0" font-size="26.8" text-anchor="middle" fill="#000" >0</text>
<text x="1726.4" y="711.2" font-size="26.8" text-anchor="end" fill="#000" >Low total protein</text>
<text x="1804.9" y="714.9" font-size="26.8" text-anchor="middle" fill="#000" >100</text>
<text x="1923.0" y="714.9" font-size="26.8" text-anchor="middle" fill="#000" >100</text>
<text x="2041.1" y="714.9" font-size="26.8" text-anchor="middle" fill="#000" >0</text>
<text x="1726.4" y="756.4" font-size="26.8" text-anchor="end" fill="#000" >Low IgG</text>
<text x="1804.9" y="760.8" font-size="26.8" text-anchor="middle" fill="#000" >100</text>
<text x="1923.0" y="760.8" font-size="26.8" text-anchor="middle" fill="#000" >100</text>
<text x="2041.1" y="760.8" font-size="26.8" text-anchor="middle" fill="#000" >6</text>
<text x="1726.4" y="802.2" font-size="26.8" text-anchor="end" fill="#000" >Low vitamin B12</text>
<text x="1804.9" y="806.7" font-size="26.8" text-anchor="middle" fill="#000" >80</text>
<text x="1923.0" y="806.7" font-size="26.8" text-anchor="middle" fill="#000" >73</text>
<text x="2041.1" y="806.7" font-size="26.8" text-anchor="middle" fill="#000" >0</text>
<text transform="translate(1795.5,158.5) rotate(-45)" font-size="26.8">Past</text>
<text transform="translate(1923.5,158.5) rotate(-45)" font-size="26.8">Past year, Pre-Tx</text>
<text transform="translate(2043.5,158.5) rotate(-45)" font-size="26.8">Post-Tx</text>
<text x="1534.2" y="950.4" font-size="26.8" text-anchor="start" fill="#000" >Intervention</text>
<line x1="1530.7" y1="955.0" x2="1678.9" y2="955.0" stroke="#000" stroke-width="2" />
<rect x="1743.3" y="991.4" width="123.5" height="44.5" fill="#ffb0b2" stroke="none" stroke-width="0" />
<rect x="1866.8" y="991.4" width="123.5" height="44.5" fill="#fff1f2" stroke="none" stroke-width="0" />
<rect x="1990.3" y="991.4" width="123.5" height="44.5" fill="#ffffff" stroke="none" stroke-width="0" />
<rect x="1743.3" y="1035.9" width="123.5" height="44.5" fill="#ffd3d5" stroke="none" stroke-width="0" />
<rect x="1866.8" y="1035.9" width="123.5" height="44.5" fill="#ffe2e3" stroke="none" stroke-width="0" />
<rect x="1990.3" y="1035.9" width="123.5" height="44.5" fill="#ffffff" stroke="none" stroke-width="0" />
<rect x="1743.3" y="1080.5" width="123.5" height="44.5" fill="#f25e63" stroke="none" stroke-width="0" />
<rect x="1866.8" y="1080.5" width="123.5" height="44.5" fill="#fd8487" stroke="none" stroke-width="0" />
<rect x="1990.3" y="1080.5" width="123.5" height="44.5" fill="#ffffff" stroke="none" stroke-width="0" />
<rect x="1743.3" y="1125.0" width="123.5" height="44.5" fill="#e33b2e" stroke="none" stroke-width="0" />
<rect x="1866.8" y="1125.0" width="123.5" height="44.5" fill="#e84848" stroke="none" stroke-width="0" />
<rect x="1990.3" y="1125.0" width="123.5" height="44.5" fill="#ffc5c8" stroke="none" stroke-width="0" />
<rect x="1743.3" y="1169.5" width="123.5" height="44.5" fill="#e9494a" stroke="none" stroke-width="0" />
<rect x="1866.8" y="1169.5" width="123.5" height="44.5" fill="#fd8487" stroke="none" stroke-width="0" />
<rect x="1990.3" y="1169.5" width="123.5" height="44.5" fill="#fff1f2" stroke="none" stroke-width="0" />
<rect x="1743.3" y="1214.1" width="123.5" height="44.5" fill="#ffbfc2" stroke="none" stroke-width="0" />
<rect x="1866.8" y="1214.1" width="123.5" height="44.5" fill="#ffe2e3" stroke="none" stroke-width="0" />
<rect x="1990.3" y="1214.1" width="123.5" height="44.5" fill="#ffffff" stroke="none" stroke-width="0" />
<rect x="1743.3" y="1258.6" width="123.5" height="44.5" fill="#e64139" stroke="none" stroke-width="0" />
<rect x="1866.8" y="1258.6" width="123.5" height="44.5" fill="#f15a5f" stroke="none" stroke-width="0" />
<rect x="1990.3" y="1258.6" width="123.5" height="44.5" fill="#ffc5c8" stroke="none" stroke-width="0" />
<rect x="1743.3" y="1303.2" width="123.5" height="44.5" fill="#f25e63" stroke="none" stroke-width="0" />
<rect x="1866.8" y="1303.2" width="123.5" height="44.5" fill="#fd8487" stroke="none" stroke-width="0" />
<rect x="1990.3" y="1303.2" width="123.5" height="44.5" fill="#ffffff" stroke="none" stroke-width="0" />
<rect x="1743.3" y="1347.7" width="123.5" height="44.5" fill="#ffbfc2" stroke="none" stroke-width="0" />
<rect x="1866.8" y="1347.7" width="123.5" height="44.5" fill="#ffe2e3" stroke="none" stroke-width="0" />
<rect x="1990.3" y="1347.7" width="123.5" height="44.5" fill="#ffffff" stroke="none" stroke-width="0" />
<rect x="1743.3" y="1392.2" width="123.5" height="44.5" fill="#ffb0b2" stroke="none" stroke-width="0" />
<rect x="1866.8" y="1392.2" width="123.5" height="44.5" fill="#fea3a6" stroke="none" stroke-width="0" />
<rect x="1990.3" y="1392.2" width="123.5" height="44.5" fill="#ffffff" stroke="none" stroke-width="0" />
<rect x="1743.3" y="1436.8" width="123.5" height="44.5" fill="#f66d72" stroke="none" stroke-width="0" />
<rect x="1866.8" y="1436.8" width="123.5" height="44.5" fill="#fe9497" stroke="none" stroke-width="0" />
<rect x="1990.3" y="1436.8" width="123.5" height="44.5" fill="#ffffff" stroke="none" stroke-width="0" />
<rect x="1743.3" y="1481.3" width="123.5" height="44.5" fill="#ffbfc2" stroke="none" stroke-width="0" />
<rect x="1866.8" y="1481.3" width="123.5" height="44.5" fill="#ffd5d7" stroke="none" stroke-width="0" />
<rect x="1990.3" y="1481.3" width="123.5" height="44.5" fill="#ffffff" stroke="none" stroke-width="0" />
<rect x="1743.3" y="1525.8" width="123.5" height="44.5" fill="#ffbfc2" stroke="none" stroke-width="0" />
<rect x="1866.8" y="1525.8" width="123.5" height="44.5" fill="#fff1f2" stroke="none" stroke-width="0" />
<rect x="1990.3" y="1525.8" width="123.5" height="44.5" fill="#ffffff" stroke="none" stroke-width="0" />
<rect x="1743.3" y="1570.4" width="123.5" height="44.5" fill="#e33b2e" stroke="none" stroke-width="0" />
<rect x="1866.8" y="1570.4" width="123.5" height="44.5" fill="#f15a5f" stroke="none" stroke-width="0" />
<rect x="1990.3" y="1570.4" width="123.5" height="44.5" fill="#ffffff" stroke="none" stroke-width="0" />
<rect x="1743.3" y="1614.9" width="123.5" height="44.5" fill="#f66d72" stroke="none" stroke-width="0" />
<rect x="1866.8" y="1614.9" width="123.5" height="44.5" fill="#f9767a" stroke="none" stroke-width="0" />
<rect x="1990.3" y="1614.9" width="123.5" height="44.5" fill="#ffffff" stroke="none" stroke-width="0" />
<rect x="1743.3" y="1659.4" width="123.5" height="44.5" fill="#e64139" stroke="none" stroke-width="0" />
<rect x="1866.8" y="1659.4" width="123.5" height="44.5" fill="#f4676c" stroke="none" stroke-width="0" />
<rect x="1990.3" y="1659.4" width="123.5" height="44.5" fill="#ffffff" stroke="none" stroke-width="0" />
<rect x="1743.3" y="1704.0" width="123.5" height="44.5" fill="#f66d72" stroke="none" stroke-width="0" />
<rect x="1866.8" y="1704.0" width="123.5" height="44.5" fill="#ffb4b8" stroke="none" stroke-width="0" />
<rect x="1990.3" y="1704.0" width="123.5" height="44.5" fill="#ffffff" stroke="none" stroke-width="0" />
<rect x="1743.3" y="1748.5" width="123.5" height="44.5" fill="#fd8c8f" stroke="none" stroke-width="0" />
<rect x="1866.8" y="1748.5" width="123.5" height="44.5" fill="#ffd5d7" stroke="none" stroke-width="0" />
<rect x="1990.3" y="1748.5" width="123.5" height="44.5" fill="#ffffff" stroke="none" stroke-width="0" />
<rect x="1743.3" y="1793.0" width="123.5" height="44.5" fill="#ffe2e3" stroke="none" stroke-width="0" />
<rect x="1866.8" y="1793.0" width="123.5" height="44.5" fill="#ffe2e3" stroke="none" stroke-width="0" />
<rect x="1990.3" y="1793.0" width="123.5" height="44.5" fill="#ffffff" stroke="none" stroke-width="0" />
<rect x="1743.3" y="1837.6" width="123.5" height="44.5" fill="#ffb0b2" stroke="none" stroke-width="0" />
<rect x="1866.8" y="1837.6" width="123.5" height="44.5" fill="#ffd5d7" stroke="none" stroke-width="0" />
<rect x="1990.3" y="1837.6" width="123.5" height="44.5" fill="#ffffff" stroke="none" stroke-width="0" />
<rect x="1743.3" y="1882.1" width="123.5" height="44.5" fill="#ffe0e1" stroke="none" stroke-width="0" />
<rect x="1866.8" y="1882.1" width="123.5" height="44.5" fill="#ffc5c8" stroke="none" stroke-width="0" />
<rect x="1990.3" y="1882.1" width="123.5" height="44.5" fill="#ffd5d7" stroke="none" stroke-width="0" />
<rect x="1743.3" y="1926.7" width="123.5" height="44.5" fill="#ffd3d5" stroke="none" stroke-width="0" />
<rect x="1866.8" y="1926.7" width="123.5" height="44.5" fill="#ffb4b8" stroke="none" stroke-width="0" />
<rect x="1990.3" y="1926.7" width="123.5" height="44.5" fill="#ffe2e3" stroke="none" stroke-width="0" />
<rect x="1743.3" y="1971.2" width="123.5" height="44.5" fill="#ffeff0" stroke="none" stroke-width="0" />
<rect x="1866.8" y="1971.2" width="123.5" height="44.5" fill="#fff1f2" stroke="none" stroke-width="0" />
<rect x="1990.3" y="1971.2" width="123.5" height="44.5" fill="#fff1f2" stroke="none" stroke-width="0" />
<rect x="1743.3" y="2015.7" width="123.5" height="44.5" fill="#ffe2e3" stroke="none" stroke-width="0" />
<rect x="1866.8" y="2015.7" width="123.5" height="44.5" fill="#fff1f2" stroke="none" stroke-width="0" />
<rect x="1990.3" y="2015.7" width="123.5" height="44.5" fill="#fff1f2" stroke="none" stroke-width="0" />
<rect x="1743.3" y="2060.3" width="123.5" height="44.5" fill="#ffb0b2" stroke="none" stroke-width="0" />
<rect x="1866.8" y="2060.3" width="123.5" height="44.5" fill="#ffc5c8" stroke="none" stroke-width="0" />
<rect x="1990.3" y="2060.3" width="123.5" height="44.5" fill="#ffffff" stroke="none" stroke-width="0" />
<rect x="1743.3" y="2104.8" width="123.5" height="44.5" fill="#fb7d81" stroke="none" stroke-width="0" />
<rect x="1866.8" y="2104.8" width="123.5" height="44.5" fill="#ffb4b8" stroke="none" stroke-width="0" />
<rect x="1990.3" y="2104.8" width="123.5" height="44.5" fill="#ffffff" stroke="none" stroke-width="0" />
<rect x="1743.3" y="2149.3" width="123.5" height="44.5" fill="#fb7d81" stroke="none" stroke-width="0" />
<rect x="1866.8" y="2149.3" width="123.5" height="44.5" fill="#fea3a6" stroke="none" stroke-width="0" />
<rect x="1990.3" y="2149.3" width="123.5" height="44.5" fill="#ffffff" stroke="none" stroke-width="0" />
<rect x="1743.3" y="2193.9" width="123.5" height="44.5" fill="#ffbfc2" stroke="none" stroke-width="0" />
<rect x="1866.8" y="2193.9" width="123.5" height="44.5" fill="#ffe2e3" stroke="none" stroke-width="0" />
<rect x="1990.3" y="2193.9" width="123.5" height="44.5" fill="#ffe2e3" stroke="none" stroke-width="0" />
<line x1="1743.3" y1="1035.9" x2="2113.8" y2="1035.9" stroke="#000" stroke-width="2.2" />
<line x1="1743.3" y1="1080.5" x2="2113.8" y2="1080.5" stroke="#000" stroke-width="2.2" />
<line x1="1743.3" y1="1125.0" x2="2113.8" y2="1125.0" stroke="#000" stroke-width="2.2" />
<line x1="1743.3" y1="1169.5" x2="2113.8" y2="1169.5" stroke="#000" stroke-width="2.2" />
<line x1="1743.3" y1="1214.1" x2="2113.8" y2="1214.1" stroke="#000" stroke-width="2.2" />
<line x1="1743.3" y1="1258.6" x2="2113.8" y2="1258.6" stroke="#000" stroke-width="2.2" />
<line x1="1743.3" y1="1303.2" x2="2113.8" y2="1303.2" stroke="#000" stroke-width="2.2" />
<line x1="1743.3" y1="1347.7" x2="2113.8" y2="1347.7" stroke="#000" stroke-width="2.2" />
<line x1="1743.3" y1="1392.2" x2="2113.8" y2="1392.2" stroke="#000" stroke-width="2.2" />
<line x1="1743.3" y1="1436.8" x2="2113.8" y2="1436.8" stroke="#000" stroke-width="2.2" />
<line x1="1743.3" y1="1481.3" x2="2113.8" y2="1481.3" stroke="#000" stroke-width="2.2" />
<line x1="1743.3" y1="1525.8" x2="2113.8" y2="1525.8" stroke="#000" stroke-width="2.2" />
<line x1="1743.3" y1="1570.4" x2="2113.8" y2="1570.4" stroke="#000" stroke-width="2.2" />
<line x1="1743.3" y1="1614.9" x2="2113.8" y2="1614.9" stroke="#000" stroke-width="2.2" />
<line x1="1743.3" y1="1659.4" x2="2113.8" y2="1659.4" stroke="#000" stroke-width="2.2" />
<line x1="1743.3" y1="1704.0" x2="2113.8" y2="1704.0" stroke="#000" stroke-width="2.2" />
<line x1="1743.3" y1="1748.5" x2="2113.8" y2="1748.5" stroke="#000" stroke-width="2.2" />
<line x1="1743.3" y1="1793.0" x2="2113.8" y2="1793.0" stroke="#000" stroke-width="2.2" />
<line x1="1743.3" y1="1837.6" x2="2113.8" y2="1837.6" stroke="#000" stroke-width="2.2" />
<line x1="1743.3" y1="1882.1" x2="2113.8" y2="1882.1" stroke="#000" stroke-width="2.2" />
<line x1="1743.3" y1="1926.7" x2="2113.8" y2="1926.7" stroke="#000" stroke-width="2.2" />
<line x1="1743.3" y1="1971.2" x2="2113.8" y2="1971.2" stroke="#000" stroke-width="2.2" />
<line x1="1743.3" y1="2015.7" x2="2113.8" y2="2015.7" stroke="#000" stroke-width="2.2" />
<line x1="1743.3" y1="2060.3" x2="2113.8" y2="2060.3" stroke="#000" stroke-width="2.2" />
<line x1="1743.3" y1="2104.8" x2="2113.8" y2="2104.8" stroke="#000" stroke-width="2.2" />
<line x1="1743.3" y1="2149.3" x2="2113.8" y2="2149.3" stroke="#000" stroke-width="2.2" />
<line x1="1743.3" y1="2193.9" x2="2113.8" y2="2193.9" stroke="#000" stroke-width="2.2" />
<line x1="1866.8" y1="991.4" x2="1866.8" y2="2238.4" stroke="#000" stroke-width="2.2" />
<line x1="1990.3" y1="991.4" x2="1990.3" y2="2238.4" stroke="#000" stroke-width="2.2" />
<rect x="1743.3" y="991.4" width="370.5" height="1247.0" fill="none" stroke="#000" stroke-width="2.3" />
<text x="1726.4" y="1027.0" font-size="26.8" text-anchor="end" fill="#000" >Bowel resection surgery</text>
<text x="1807.0" y="1027.6" font-size="26.8" text-anchor="middle" fill="#000" >33</text>
<text x="1930.5" y="1027.6" font-size="26.8" text-anchor="middle" fill="#000" >6</text>
<text x="2054.1" y="1027.6" font-size="26.8" text-anchor="middle" fill="#000" >0</text>
<text x="1726.4" y="1071.5" font-size="26.8" text-anchor="end" fill="#000" >Other invasive interventions</text>
<text x="1807.0" y="1072.1" font-size="26.8" text-anchor="middle" fill="#000" >20</text>
<text x="1930.5" y="1072.1" font-size="26.8" text-anchor="middle" fill="#000" >13</text>
<text x="2054.1" y="1072.1" font-size="26.8" text-anchor="middle" fill="#000" >0</text>
<text x="1726.4" y="1116.0" font-size="26.8" text-anchor="end" fill="#000" >Multivitamins</text>
<text x="1807.0" y="1116.6" font-size="26.8" text-anchor="middle" fill="#000" >67</text>
<text x="1930.5" y="1116.6" font-size="26.8" text-anchor="middle" fill="#000" >50</text>
<text x="2054.1" y="1116.6" font-size="26.8" text-anchor="middle" fill="#000" >0</text>
<text x="1726.4" y="1160.5" font-size="26.8" text-anchor="end" fill="#000" >Vitamin D</text>
<text x="1807.0" y="1161.1" font-size="26.8" text-anchor="middle" fill="#000" >93</text>
<text x="1930.5" y="1161.1" font-size="26.8" text-anchor="middle" fill="#000" >81</text>
<text x="2054.1" y="1161.1" font-size="26.8" text-anchor="middle" fill="#000" >25</text>
<text x="1726.4" y="1205.1" font-size="26.8" text-anchor="end" fill="#000" >Vitamin B12</text>
<text x="1807.0" y="1205.7" font-size="26.8" text-anchor="middle" fill="#000" >80</text>
<text x="1930.5" y="1205.7" font-size="26.8" text-anchor="middle" fill="#000" >50</text>
<text x="2054.1" y="1205.7" font-size="26.8" text-anchor="middle" fill="#000" >6</text>
<text x="1726.4" y="1249.6" font-size="26.8" text-anchor="end" fill="#000" >Folate</text>
<text x="1807.0" y="1250.2" font-size="26.8" text-anchor="middle" fill="#000" >27</text>
<text x="1930.5" y="1250.2" font-size="26.8" text-anchor="middle" fill="#000" >13</text>
<text x="2054.1" y="1250.2" font-size="26.8" text-anchor="middle" fill="#000" >0</text>
<text x="1732.0" y="1294.1" font-size="26.8" text-anchor="end" fill="#000" >Iron</text>
<text x="1807.0" y="1294.7" font-size="26.8" text-anchor="middle" fill="#000" >87</text>
<text x="1930.5" y="1294.7" font-size="26.8" text-anchor="middle" fill="#000" >69</text>
<text x="2054.1" y="1294.7" font-size="26.8" text-anchor="middle" fill="#000" >25</text>
<text x="1726.4" y="1338.6" font-size="26.8" text-anchor="end" fill="#000" >Calcium, magnesium, zinc</text>
<text x="1807.0" y="1339.2" font-size="26.8" text-anchor="middle" fill="#000" >67</text>
<text x="1930.5" y="1339.2" font-size="26.8" text-anchor="middle" fill="#000" >50</text>
<text x="2054.1" y="1339.2" font-size="26.8" text-anchor="middle" fill="#000" >0</text>
<text x="1726.4" y="1383.1" font-size="26.8" text-anchor="end" fill="#000" >Omega-3 fatty acid</text>
<text x="1807.0" y="1383.7" font-size="26.8" text-anchor="middle" fill="#000" >27</text>
<text x="1930.5" y="1383.7" font-size="26.8" text-anchor="middle" fill="#000" >13</text>
<text x="2054.1" y="1383.7" font-size="26.8" text-anchor="middle" fill="#000" >0</text>
<text x="1726.4" y="1427.6" font-size="26.8" text-anchor="end" fill="#000" >MCT oil</text>
<text x="1807.0" y="1428.2" font-size="26.8" text-anchor="middle" fill="#000" >33</text>
<text x="1930.5" y="1428.2" font-size="26.8" text-anchor="middle" fill="#000" >38</text>
<text x="2054.1" y="1428.2" font-size="26.8" text-anchor="middle" fill="#000" >0</text>
<text x="1726.4" y="1472.2" font-size="26.8" text-anchor="end" fill="#000" >Enteral formula feeding</text>
<text x="1807.0" y="1472.8" font-size="26.8" text-anchor="middle" fill="#000" >60</text>
<text x="1930.5" y="1472.8" font-size="26.8" text-anchor="middle" fill="#000" >44</text>
<text x="2054.1" y="1472.8" font-size="26.8" text-anchor="middle" fill="#000" >0</text>
<text x="1726.4" y="1516.7" font-size="26.8" text-anchor="end" fill="#000" >Parenteral nutrition</text>
<text x="1807.0" y="1517.3" font-size="26.8" text-anchor="middle" fill="#000" >27</text>
<text x="1930.5" y="1517.3" font-size="26.8" text-anchor="middle" fill="#000" >19</text>
<text x="2054.1" y="1517.3" font-size="26.8" text-anchor="middle" fill="#000" >0</text>
<text x="1726.4" y="1561.2" font-size="26.8" text-anchor="end" fill="#000" >Erythrocyte transfusion</text>
<text x="1807.0" y="1561.8" font-size="26.8" text-anchor="middle" fill="#000" >27</text>
<text x="1930.5" y="1561.8" font-size="26.8" text-anchor="middle" fill="#000" >6</text>
<text x="2054.1" y="1561.8" font-size="26.8" text-anchor="middle" fill="#000" >0</text>
<text x="1726.4" y="1605.7" font-size="26.8" text-anchor="end" fill="#000" >Albumin transfusion</text>
<text x="1807.0" y="1606.3" font-size="26.8" text-anchor="middle" fill="#000" >93</text>
<text x="1930.5" y="1606.3" font-size="26.8" text-anchor="middle" fill="#000" >69</text>
<text x="2054.1" y="1606.3" font-size="26.8" text-anchor="middle" fill="#000" >0</text>
<text x="1726.4" y="1650.2" font-size="26.8" text-anchor="end" fill="#000" >Immunoglobulin Rx</text>
<text x="1807.0" y="1650.8" font-size="26.8" text-anchor="middle" fill="#000" >60</text>
<text x="1930.5" y="1650.8" font-size="26.8" text-anchor="middle" fill="#000" >56</text>
<text x="2054.1" y="1650.8" font-size="26.8" text-anchor="middle" fill="#000" >0</text>
<text x="1726.4" y="1694.7" font-size="26.8" text-anchor="end" fill="#000" >Corticosteroids</text>
<text x="1807.0" y="1695.3" font-size="26.8" text-anchor="middle" fill="#000" >87</text>
<text x="1930.5" y="1695.3" font-size="26.8" text-anchor="middle" fill="#000" >63</text>
<text x="2054.1" y="1695.3" font-size="26.8" text-anchor="middle" fill="#000" >0</text>
<text x="1726.4" y="1739.3" font-size="26.8" text-anchor="end" fill="#000" >Mesalazine</text>
<text x="1807.0" y="1739.9" font-size="26.8" text-anchor="middle" fill="#000" >60</text>
<text x="1930.5" y="1739.9" font-size="26.8" text-anchor="middle" fill="#000" >31</text>
<text x="2054.1" y="1739.9" font-size="26.8" text-anchor="middle" fill="#000" >0</text>
<text x="1726.4" y="1783.8" font-size="26.8" text-anchor="end" fill="#000" >Azathioprine</text>
<text x="1807.0" y="1784.4" font-size="26.8" text-anchor="middle" fill="#000" >47</text>
<text x="1930.5" y="1784.4" font-size="26.8" text-anchor="middle" fill="#000" >19</text>
<text x="2054.1" y="1784.4" font-size="26.8" text-anchor="middle" fill="#000" >0</text>
<text x="1726.4" y="1828.3" font-size="26.8" text-anchor="end" fill="#000" >Methotrexate</text>
<text x="1807.0" y="1828.9" font-size="26.8" text-anchor="middle" fill="#000" >13</text>
<text x="1930.5" y="1828.9" font-size="26.8" text-anchor="middle" fill="#000" >13</text>
<text x="2054.1" y="1828.9" font-size="26.8" text-anchor="middle" fill="#000" >0</text>
<text x="1726.4" y="1872.8" font-size="26.8" text-anchor="end" fill="#000" >Anti-TNF</text>
<text x="1807.0" y="1873.4" font-size="26.8" text-anchor="middle" fill="#000" >33</text>
<text x="1930.5" y="1873.4" font-size="26.8" text-anchor="middle" fill="#000" >19</text>
<text x="2054.1" y="1873.4" font-size="26.8" text-anchor="middle" fill="#000" >0</text>
<text x="1726.4" y="1917.3" font-size="26.8" text-anchor="end" fill="#000" >Low-molecular-weight heparin</text>
<text x="1807.0" y="1917.9" font-size="26.8" text-anchor="middle" fill="#000" >14</text>
<text x="1930.5" y="1917.9" font-size="26.8" text-anchor="middle" fill="#000" >25</text>
<text x="2054.1" y="1917.9" font-size="26.8" text-anchor="middle" fill="#000" >19</text>
<text x="1726.4" y="1961.8" font-size="26.8" text-anchor="end" fill="#000" >Low-dose acetyl salicylic acid</text>
<text x="1807.0" y="1962.4" font-size="26.8" text-anchor="middle" fill="#000" >20</text>
<text x="1930.5" y="1962.4" font-size="26.8" text-anchor="middle" fill="#000" >31</text>
<text x="2054.1" y="1962.4" font-size="26.8" text-anchor="middle" fill="#000" >13</text>
<text x="1726.4" y="2006.3" font-size="26.8" text-anchor="end" fill="#000" >TPA lysis of clots</text>
<text x="1807.0" y="2006.9" font-size="26.8" text-anchor="middle" fill="#000" >7</text>
<text x="1930.5" y="2006.9" font-size="26.8" text-anchor="middle" fill="#000" >6</text>
<text x="2054.1" y="2006.9" font-size="26.8" text-anchor="middle" fill="#000" >6</text>
<text x="1726.4" y="2050.9" font-size="26.8" text-anchor="end" fill="#000" >Respiratory support</text>
<text x="1807.0" y="2051.5" font-size="26.8" text-anchor="middle" fill="#000" >13</text>
<text x="1930.5" y="2051.5" font-size="26.8" text-anchor="middle" fill="#000" >6</text>
<text x="2054.1" y="2051.5" font-size="26.8" text-anchor="middle" fill="#000" >6</text>
<text x="1726.4" y="2095.4" font-size="26.8" text-anchor="end" fill="#000" >Octreotide to alleviate PLE</text>
<text x="1807.0" y="2096.0" font-size="26.8" text-anchor="middle" fill="#000" >33</text>
<text x="1930.5" y="2096.0" font-size="26.8" text-anchor="middle" fill="#000" >25</text>
<text x="2054.1" y="2096.0" font-size="26.8" text-anchor="middle" fill="#000" >0</text>
<text x="1726.4" y="2139.9" font-size="26.8" text-anchor="end" fill="#000" >Antibiotic prophylaxis</text>
<text x="1807.0" y="2140.5" font-size="26.8" text-anchor="middle" fill="#000" >53</text>
<text x="1930.5" y="2140.5" font-size="26.8" text-anchor="middle" fill="#000" >31</text>
<text x="2054.1" y="2140.5" font-size="26.8" text-anchor="middle" fill="#000" >0</text>
<text x="1726.4" y="2184.4" font-size="26.8" text-anchor="end" fill="#000" >Tx for unusual infections</text>
<text x="1807.0" y="2185.0" font-size="26.8" text-anchor="middle" fill="#000" >53</text>
<text x="1930.5" y="2185.0" font-size="26.8" text-anchor="middle" fill="#000" >38</text>
<text x="2054.1" y="2185.0" font-size="26.8" text-anchor="middle" fill="#000" >0</text>
<text x="1726.4" y="2228.9" font-size="26.8" text-anchor="end" fill="#000" >Thyroxin for hypothyroidism</text>
<text x="1807.0" y="2229.5" font-size="26.8" text-anchor="middle" fill="#000" >27</text>
<text x="1930.5" y="2229.5" font-size="26.8" text-anchor="middle" fill="#000" >13</text>
<text x="2054.1" y="2229.5" font-size="26.8" text-anchor="middle" fill="#000" >13</text>
<text transform="translate(0,1286.3) scale(0.9,1)" font-size="30" font-weight="bold">d</text>
<rect x="383.0" y="1392.8" width="14.8" height="194.3" fill="#e4e5e8" stroke="none" stroke-width="0" />
<rect x="423.5" y="1392.8" width="11.2" height="149.0" fill="#e4e5e8" stroke="none" stroke-width="0" />
<rect x="445.1" y="1392.8" width="11.2" height="111.4" fill="#e4e5e8" stroke="none" stroke-width="0" />
<rect x="460.4" y="1392.8" width="46.8" height="85.7" fill="#e4e5e8" stroke="none" stroke-width="0" />
<rect x="593.1" y="1392.8" width="65.6" height="77.2" fill="#e4e5e8" stroke="none" stroke-width="0" />
<line x1="245.6" y1="1296.9" x2="245.6" y2="1736.9" stroke="#000" stroke-width="1.6" />
<line x1="238.4" y1="1736.6" x2="245.6" y2="1736.6" stroke="#000" stroke-width="1.6" />
<text x="225.5" y="1745.9" font-size="26.5" text-anchor="end" fill="#000" >0</text>
<line x1="238.4" y1="1673.9" x2="245.6" y2="1673.9" stroke="#000" stroke-width="1.6" />
<text x="225.5" y="1683.2" font-size="26.5" text-anchor="end" fill="#000" >1</text>
<line x1="238.4" y1="1611.2" x2="245.6" y2="1611.2" stroke="#000" stroke-width="1.6" />
<text x="225.5" y="1620.5" font-size="26.5" text-anchor="end" fill="#000" >2</text>
<line x1="238.4" y1="1548.5" x2="245.6" y2="1548.5" stroke="#000" stroke-width="1.6" />
<text x="225.5" y="1557.8" font-size="26.5" text-anchor="end" fill="#000" >3</text>
<line x1="238.4" y1="1485.8" x2="245.6" y2="1485.8" stroke="#000" stroke-width="1.6" />
<text x="225.5" y="1495.1" font-size="26.5" text-anchor="end" fill="#000" >4</text>
<line x1="238.4" y1="1423.1" x2="245.6" y2="1423.1" stroke="#000" stroke-width="1.6" />
<text x="225.5" y="1432.4" font-size="26.5" text-anchor="end" fill="#000" >5</text>
<line x1="238.4" y1="1360.4" x2="245.6" y2="1360.4" stroke="#000" stroke-width="1.6" />
<text x="225.5" y="1369.7" font-size="26.5" text-anchor="end" fill="#000" >6</text>
<line x1="238.4" y1="1297.7" x2="245.6" y2="1297.7" stroke="#000" stroke-width="1.6" />
<text x="225.5" y="1307.0" font-size="26.5" text-anchor="end" fill="#000" >7</text>
<line x1="238.4" y1="1736.9" x2="391.0" y2="1736.9" stroke="#000" stroke-width="1.6" />
<line x1="413.5" y1="1736.9" x2="659.6" y2="1736.9" stroke="#000" stroke-width="1.6" />
<line x1="682.0" y1="1736.9" x2="717.1" y2="1736.9" stroke="#000" stroke-width="1.6" />
<line x1="245.9" y1="1736.9" x2="245.9" y2="1744.4" stroke="#000" stroke-width="1.6" />
<line x1="317.8" y1="1736.9" x2="317.8" y2="1744.4" stroke="#000" stroke-width="1.6" />
<line x1="430.2" y1="1736.9" x2="430.2" y2="1744.4" stroke="#000" stroke-width="1.6" />
<line x1="449.4" y1="1736.9" x2="449.4" y2="1744.4" stroke="#000" stroke-width="1.6" />
<line x1="484.8" y1="1736.9" x2="484.8" y2="1744.4" stroke="#000" stroke-width="1.6" />
<line x1="625.7" y1="1736.9" x2="625.7" y2="1744.4" stroke="#000" stroke-width="1.6" />
<line x1="705.7" y1="1736.9" x2="705.7" y2="1744.4" stroke="#000" stroke-width="1.6" />
<line x1="391.0" y1="1730.0" x2="391.0" y2="1744.4" stroke="#000" stroke-width="1.6" />
<line x1="413.5" y1="1730.0" x2="413.5" y2="1744.4" stroke="#000" stroke-width="1.6" />
<line x1="659.6" y1="1730.0" x2="659.6" y2="1744.4" stroke="#000" stroke-width="1.6" />
<line x1="682.0" y1="1730.0" x2="682.0" y2="1744.4" stroke="#000" stroke-width="1.6" />
<text x="317.4" y="1777.3" font-size="26.5" text-anchor="middle" fill="#000" >−5</text>
<text x="413.2" y="1777.3" font-size="26.5" text-anchor="middle" fill="#000" >0</text>
<text x="430.8" y="1777.3" font-size="26.5" text-anchor="middle" fill="#000" >1</text>
<text x="450.2" y="1777.3" font-size="26.5" text-anchor="middle" fill="#000" >2</text>
<text x="485.5" y="1777.3" font-size="26.5" text-anchor="middle" fill="#000" >4</text>
<text x="626.7" y="1777.3" font-size="26.5" text-anchor="middle" fill="#000" >12</text>
<text x="706.2" y="1777.3" font-size="26.5" text-anchor="middle" fill="#000" >6</text>
<text x="323.4" y="1815.4" font-size="26.5" text-anchor="middle" fill="#000" >(Years)</text>
<text x="570.6" y="1815.4" font-size="26.5" text-anchor="middle" fill="#000" >(Weeks)</text>
<text x="701.1" y="1815.4" font-size="26.5" text-anchor="middle" fill="#000" >(Months)</text>
<text x="453.0" y="1842.4" font-size="26.5" text-anchor="middle" fill="#000" >Time</text>
<text transform="translate(181,1517) rotate(-90)" font-size="27" text-anchor="middle">Serum albumin (g dl<tspan font-size="17.5" dy="-10.5">−1</tspan><tspan dy="10.5">)</tspan></text>
<line x1="245.6" y1="1397.9" x2="717.0" y2="1397.9" stroke="#2a2060" stroke-width="1.9" />
<line x1="245.6" y1="1517.2" x2="717.0" y2="1517.2" stroke="#2a2060" stroke-width="1.9" />
<text x="361.3" y="1294.8" font-size="26"><tspan font-style="italic">P</tspan> &lt; 0.0001</text>
<line x1="388.8" y1="1301.2" x2="487.6" y2="1301.2" stroke="#000" stroke-width="2" />
<text x="327.7" y="1334.5" font-size="26"><tspan font-style="italic">P</tspan> &lt; 0.0001</text>
<line x1="388.8" y1="1340.2" x2="452.6" y2="1340.2" stroke="#000" stroke-width="2" />
<text x="310.6" y="1381.0" font-size="26"><tspan font-style="italic">P</tspan> &lt; 0.0001</text>
<line x1="388.8" y1="1385.5" x2="431.6" y2="1385.5" stroke="#000" stroke-width="2" />
<text x="553.7" y="1334.9" font-size="26" text-anchor="middle" fill="#000" >NS</text>
<line x1="485.1" y1="1340.2" x2="635.3" y2="1340.2" stroke="#000" stroke-width="2" />
<circle cx="275.5" cy="1580.0" r="4.1" fill="#e5336d" stroke="none" stroke-width="0"/>
<circle cx="263.8" cy="1592.6" r="4.1" fill="#e5336d" stroke="none" stroke-width="0"/>
<circle cx="274.3" cy="1599.0" r="4.1" fill="#45bb44" stroke="none" stroke-width="0"/>
<circle cx="269.3" cy="1592.2" r="4.1" fill="#e5336d" stroke="none" stroke-width="0"/>
<circle cx="272.0" cy="1599.0" r="4.1" fill="#e5336d" stroke="none" stroke-width="0"/>
<circle cx="289.0" cy="1599.0" r="4.1" fill="#e8533a" stroke="none" stroke-width="0"/>
<circle cx="296.3" cy="1599.0" r="4.1" fill="#e8533a" stroke="none" stroke-width="0"/>
<circle cx="311.0" cy="1592.6" r="4.1" fill="#e8533a" stroke="none" stroke-width="0"/>
<circle cx="303.9" cy="1605.3" r="4.1" fill="#e8533a" stroke="none" stroke-width="0"/>
<circle cx="274.8" cy="1617.8" r="4.1" fill="#e8533a" stroke="none" stroke-width="0"/>
<circle cx="294.7" cy="1624.1" r="4.1" fill="#4a90cf" stroke="none" stroke-width="0"/>
<circle cx="285.8" cy="1633.0" r="4.1" fill="#f05a28" stroke="none" stroke-width="0"/>
<circle cx="303.9" cy="1649.9" r="4.1" fill="#f05a28" stroke="none" stroke-width="0"/>
<circle cx="325.2" cy="1573.8" r="4.1" fill="#e8533a" stroke="none" stroke-width="0"/>
<circle cx="355.9" cy="1551.3" r="4.1" fill="#e5336d" stroke="none" stroke-width="0"/>
<circle cx="360.5" cy="1555.0" r="4.1" fill="#56a8da" stroke="none" stroke-width="0"/>
<circle cx="363.7" cy="1563.3" r="4.1" fill="#3f4fa6" stroke="none" stroke-width="0"/>
<circle cx="353.2" cy="1566.9" r="4.1" fill="#56a8da" stroke="none" stroke-width="0"/>
<circle cx="375.2" cy="1567.4" r="4.1" fill="#56a8da" stroke="none" stroke-width="0"/>
<circle cx="379.3" cy="1567.4" r="4.1" fill="#56a8da" stroke="none" stroke-width="0"/>
<circle cx="345.4" cy="1573.8" r="4.1" fill="#4a90cf" stroke="none" stroke-width="0"/>
<circle cx="349.0" cy="1573.8" r="4.1" fill="#4a90cf" stroke="none" stroke-width="0"/>
<circle cx="355.9" cy="1574.3" r="4.1" fill="#e5336d" stroke="none" stroke-width="0"/>
<circle cx="339.9" cy="1580.0" r="4.1" fill="#e5336d" stroke="none" stroke-width="0"/>
<circle cx="361.4" cy="1580.0" r="4.1" fill="#d9e14a" stroke="none" stroke-width="0"/>
<circle cx="372.9" cy="1580.0" r="4.1" fill="#e8533a" stroke="none" stroke-width="0"/>
<circle cx="378.4" cy="1577.9" r="4.1" fill="#f05a28" stroke="none" stroke-width="0"/>
<circle cx="381.1" cy="1580.0" r="4.1" fill="#e5336d" stroke="none" stroke-width="0"/>
<circle cx="390.0" cy="1580.0" r="4.1" fill="#e5336d" stroke="none" stroke-width="0"/>
<circle cx="348.6" cy="1586.2" r="4.1" fill="#4a90cf" stroke="none" stroke-width="0"/>
<circle cx="355.9" cy="1584.4" r="4.1" fill="#e5336d" stroke="none" stroke-width="0"/>
<circle cx="376.5" cy="1586.6" r="4.1" fill="#9ccd45" stroke="none" stroke-width="0"/>
<circle cx="373.3" cy="1586.6" r="4.1" fill="#219a8a" stroke="none" stroke-width="0"/>
<circle cx="329.3" cy="1592.6" r="4.1" fill="#4a90cf" stroke="none" stroke-width="0"/>
<circle cx="343.5" cy="1592.6" r="4.1" fill="#56a8da" stroke="none" stroke-width="0"/>
<circle cx="381.6" cy="1592.6" r="4.1" fill="#d9e14a" stroke="none" stroke-width="0"/>
<circle cx="390.0" cy="1592.6" r="4.1" fill="#45bb44" stroke="none" stroke-width="0"/>
<circle cx="336.2" cy="1599.0" r="4.1" fill="#56a8da" stroke="none" stroke-width="0"/>
<circle cx="340.8" cy="1599.0" r="4.1" fill="#8e3cb4" stroke="none" stroke-width="0"/>
<circle cx="355.0" cy="1598.6" r="4.1" fill="#3f4fa6" stroke="none" stroke-width="0"/>
<circle cx="368.7" cy="1598.6" r="4.1" fill="#d9e14a" stroke="none" stroke-width="0"/>
<circle cx="390.0" cy="1598.8" r="4.1" fill="#e8533a" stroke="none" stroke-width="0"/>
<circle cx="328.9" cy="1605.0" r="4.1" fill="#4a90cf" stroke="none" stroke-width="0"/>
<circle cx="346.3" cy="1605.0" r="4.1" fill="#8e3cb4" stroke="none" stroke-width="0"/>
<circle cx="352.7" cy="1605.0" r="4.1" fill="#3f4fa6" stroke="none" stroke-width="0"/>
<circle cx="333.4" cy="1605.4" r="4.1" fill="#e0117f" stroke="none" stroke-width="0"/>
<circle cx="362.3" cy="1605.0" r="4.1" fill="#e5336d" stroke="none" stroke-width="0"/>
<circle cx="376.1" cy="1606.4" r="4.1" fill="#e0117f" stroke="none" stroke-width="0"/>
<circle cx="390.0" cy="1605.3" r="4.1" fill="#219a8a" stroke="none" stroke-width="0"/>
<circle cx="334.8" cy="1611.4" r="4.1" fill="#4a90cf" stroke="none" stroke-width="0"/>
<circle cx="366.0" cy="1611.4" r="4.1" fill="#8e3cb4" stroke="none" stroke-width="0"/>
<circle cx="357.3" cy="1610.5" r="4.1" fill="#f05a28" stroke="none" stroke-width="0"/>
<circle cx="366.4" cy="1610.0" r="4.1" fill="#f05a28" stroke="none" stroke-width="0"/>
<circle cx="332.5" cy="1617.8" r="4.1" fill="#e8533a" stroke="none" stroke-width="0"/>
<circle cx="343.1" cy="1617.8" r="4.1" fill="#3f4fa6" stroke="none" stroke-width="0"/>
<circle cx="349.9" cy="1617.8" r="4.1" fill="#d9e14a" stroke="none" stroke-width="0"/>
<circle cx="358.2" cy="1617.8" r="4.1" fill="#e0117f" stroke="none" stroke-width="0"/>
<circle cx="365.1" cy="1617.8" r="4.1" fill="#e8533a" stroke="none" stroke-width="0"/>
<circle cx="372.9" cy="1621.5" r="4.1" fill="#f05a28" stroke="none" stroke-width="0"/>
<circle cx="380.2" cy="1620.1" r="4.1" fill="#e0117f" stroke="none" stroke-width="0"/>
<circle cx="385.7" cy="1618.3" r="4.1" fill="#219a8a" stroke="none" stroke-width="0"/>
<circle cx="391.7" cy="1618.3" r="4.1" fill="#6b4c3f" stroke="none" stroke-width="0"/>
<circle cx="344.0" cy="1624.2" r="4.1" fill="#56a8da" stroke="none" stroke-width="0"/>
<circle cx="335.3" cy="1623.8" r="4.1" fill="#e0117f" stroke="none" stroke-width="0"/>
<circle cx="368.3" cy="1622.0" r="4.1" fill="#e0117f" stroke="none" stroke-width="0"/>
<circle cx="376.1" cy="1623.8" r="4.1" fill="#45bb44" stroke="none" stroke-width="0"/>
<circle cx="383.0" cy="1624.7" r="4.1" fill="#d9e14a" stroke="none" stroke-width="0"/>
<circle cx="336.2" cy="1630.2" r="4.1" fill="#e0117f" stroke="none" stroke-width="0"/>
<circle cx="341.7" cy="1630.2" r="4.1" fill="#e0117f" stroke="none" stroke-width="0"/>
<circle cx="356.8" cy="1629.7" r="4.1" fill="#e0117f" stroke="none" stroke-width="0"/>
<circle cx="363.7" cy="1629.7" r="4.1" fill="#e0117f" stroke="none" stroke-width="0"/>
<circle cx="360.5" cy="1631.1" r="4.1" fill="#8e3cb4" stroke="none" stroke-width="0"/>
<circle cx="371.5" cy="1630.2" r="4.1" fill="#e8533a" stroke="none" stroke-width="0"/>
<circle cx="376.5" cy="1633.0" r="4.1" fill="#8e3cb4" stroke="none" stroke-width="0"/>
<circle cx="338.9" cy="1636.6" r="4.1" fill="#56a8da" stroke="none" stroke-width="0"/>
<circle cx="343.5" cy="1636.6" r="4.1" fill="#d9e14a" stroke="none" stroke-width="0"/>
<circle cx="355.4" cy="1636.6" r="4.1" fill="#d9e14a" stroke="none" stroke-width="0"/>
<circle cx="377.5" cy="1636.6" r="4.1" fill="#e8533a" stroke="none" stroke-width="0"/>
<circle cx="383.9" cy="1636.6" r="4.1" fill="#219a8a" stroke="none" stroke-width="0"/>
<circle cx="390.0" cy="1636.6" r="4.1" fill="#d9e14a" stroke="none" stroke-width="0"/>
<circle cx="333.0" cy="1643.0" r="4.1" fill="#4a90cf" stroke="none" stroke-width="0"/>
<circle cx="335.7" cy="1643.0" r="4.1" fill="#e0117f" stroke="none" stroke-width="0"/>
<circle cx="353.6" cy="1643.0" r="4.1" fill="#e0117f" stroke="none" stroke-width="0"/>
<circle cx="364.2" cy="1643.0" r="4.1" fill="#e8533a" stroke="none" stroke-width="0"/>
<circle cx="369.2" cy="1643.0" r="4.1" fill="#e8533a" stroke="none" stroke-width="0"/>
<circle cx="373.3" cy="1643.0" r="4.1" fill="#e8533a" stroke="none" stroke-width="0"/>
<circle cx="380.7" cy="1649.0" r="4.1" fill="#219a8a" stroke="none" stroke-width="0"/>
<circle cx="368.3" cy="1648.5" r="4.1" fill="#e8533a" stroke="none" stroke-width="0"/>
<circle cx="342.6" cy="1655.4" r="4.1" fill="#56a8da" stroke="none" stroke-width="0"/>
<circle cx="348.1" cy="1655.4" r="4.1" fill="#e0117f" stroke="none" stroke-width="0"/>
<circle cx="368.3" cy="1655.4" r="4.1" fill="#e8533a" stroke="none" stroke-width="0"/>
<circle cx="375.6" cy="1655.4" r="4.1" fill="#e8533a" stroke="none" stroke-width="0"/>
<circle cx="383.4" cy="1655.4" r="4.1" fill="#45bb44" stroke="none" stroke-width="0"/>
<circle cx="369.2" cy="1662.3" r="4.1" fill="#d9e14a" stroke="none" stroke-width="0"/>
<circle cx="375.2" cy="1661.8" r="4.1" fill="#e8533a" stroke="none" stroke-width="0"/>
<circle cx="386.6" cy="1667.8" r="4.1" fill="#45bb44" stroke="none" stroke-width="0"/>
<circle cx="366.9" cy="1674.2" r="4.1" fill="#e8533a" stroke="none" stroke-width="0"/>
<circle cx="381.6" cy="1522.9" r="4.1" fill="#f7941d" stroke="none" stroke-width="0"/>
<circle cx="390.0" cy="1522.5" r="4.1" fill="#f7941d" stroke="none" stroke-width="0"/>
<circle cx="390.0" cy="1536.2" r="4.1" fill="#4a90cf" stroke="none" stroke-width="0"/>
<circle cx="381.6" cy="1547.7" r="4.1" fill="#fbbd22" stroke="none" stroke-width="0"/>
<circle cx="390.0" cy="1547.7" r="4.1" fill="#fbbd22" stroke="none" stroke-width="0"/>
<circle cx="384.8" cy="1555.0" r="4.1" fill="#4a90cf" stroke="none" stroke-width="0"/>
<circle cx="381.6" cy="1555.0" r="4.1" fill="#9ccd45" stroke="none" stroke-width="0"/>
<circle cx="390.0" cy="1560.5" r="4.1" fill="#9ccd45" stroke="none" stroke-width="0"/>
<circle cx="391.7" cy="1567.4" r="4.1" fill="#8e3cb4" stroke="none" stroke-width="0"/>
<circle cx="387.5" cy="1567.4" r="4.1" fill="#9ccd45" stroke="none" stroke-width="0"/>
<circle cx="429.8" cy="1474.0" r="4.1" fill="#f7941d" stroke="none" stroke-width="0"/>
<circle cx="442.1" cy="1466.5" r="4.1" fill="#f7941d" stroke="none" stroke-width="0"/>
<circle cx="442.1" cy="1473.4" r="4.1" fill="#4a90cf" stroke="none" stroke-width="0"/>
<circle cx="429.8" cy="1485.6" r="4.1" fill="#3f4fa6" stroke="none" stroke-width="0"/>
<circle cx="441.4" cy="1491.9" r="4.1" fill="#e5336d" stroke="none" stroke-width="0"/>
<circle cx="447.6" cy="1491.9" r="4.1" fill="#e8533a" stroke="none" stroke-width="0"/>
<circle cx="429.8" cy="1500.1" r="4.1" fill="#e8533a" stroke="none" stroke-width="0"/>
<circle cx="423.1" cy="1503.1" r="4.1" fill="#f7941d" stroke="none" stroke-width="0"/>
<circle cx="423.1" cy="1511.1" r="4.1" fill="#4a90cf" stroke="none" stroke-width="0"/>
<circle cx="429.8" cy="1518.2" r="4.1" fill="#8e3cb4" stroke="none" stroke-width="0"/>
<circle cx="441.4" cy="1523.9" r="4.1" fill="#4a90cf" stroke="none" stroke-width="0"/>
<circle cx="444.5" cy="1511.1" r="4.1" fill="#d9e14a" stroke="none" stroke-width="0"/>
<circle cx="449.0" cy="1529.0" r="4.1" fill="#9ccd45" stroke="none" stroke-width="0"/>
<circle cx="429.8" cy="1535.1" r="4.1" fill="#9ccd45" stroke="none" stroke-width="0"/>
<circle cx="427.8" cy="1542.7" r="4.1" fill="#e5336d" stroke="none" stroke-width="0"/>
<circle cx="427.8" cy="1548.4" r="4.1" fill="#45bb44" stroke="none" stroke-width="0"/>
<circle cx="429.8" cy="1560.6" r="4.1" fill="#e8533a" stroke="none" stroke-width="0"/>
<circle cx="433.3" cy="1556.5" r="4.1" fill="#d9e14a" stroke="none" stroke-width="0"/>
<circle cx="446.1" cy="1537.6" r="4.1" fill="#e8533a" stroke="none" stroke-width="0"/>
<circle cx="446.5" cy="1557.9" r="4.1" fill="#e0117f" stroke="none" stroke-width="0"/>
<circle cx="427.8" cy="1586.0" r="4.1" fill="#d9e14a" stroke="none" stroke-width="0"/>
<circle cx="451.2" cy="1435.3" r="4.1" fill="#6b4c3f" stroke="none" stroke-width="0"/>
<circle cx="451.6" cy="1484.2" r="4.1" fill="#3f4fa6" stroke="none" stroke-width="0"/>
<circle cx="451.6" cy="1498.5" r="4.1" fill="#219a8a" stroke="none" stroke-width="0"/>
<circle cx="451.6" cy="1517.2" r="4.1" fill="#45bb44" stroke="none" stroke-width="0"/>
<circle cx="493.8" cy="1429.2" r="4.1" fill="#e5336d" stroke="none" stroke-width="0"/>
<circle cx="480.1" cy="1457.3" r="4.1" fill="#fbbd22" stroke="none" stroke-width="0"/>
<circle cx="477.7" cy="1459.8" r="4.1" fill="#8e3cb4" stroke="none" stroke-width="0"/>
<circle cx="513.1" cy="1454.7" r="4.1" fill="#f7941d" stroke="none" stroke-width="0"/>
<circle cx="513.1" cy="1461.2" r="4.1" fill="#6b4c3f" stroke="none" stroke-width="0"/>
<circle cx="482.2" cy="1466.9" r="4.1" fill="#d9e14a" stroke="none" stroke-width="0"/>
<circle cx="484.2" cy="1479.1" r="4.1" fill="#e8533a" stroke="none" stroke-width="0"/>
<circle cx="496.4" cy="1477.7" r="4.1" fill="#d9e14a" stroke="none" stroke-width="0"/>
<circle cx="496.0" cy="1482.8" r="4.1" fill="#3f4fa6" stroke="none" stroke-width="0"/>
<circle cx="484.6" cy="1485.2" r="4.1" fill="#45bb44" stroke="none" stroke-width="0"/>
<circle cx="484.6" cy="1491.9" r="4.1" fill="#219a8a" stroke="none" stroke-width="0"/>
<circle cx="477.1" cy="1499.1" r="4.1" fill="#56a8da" stroke="none" stroke-width="0"/>
<circle cx="484.6" cy="1499.1" r="4.1" fill="#e0117f" stroke="none" stroke-width="0"/>
<circle cx="493.8" cy="1511.1" r="4.1" fill="#4a90cf" stroke="none" stroke-width="0"/>
<circle cx="496.0" cy="1525.3" r="4.1" fill="#f05a28" stroke="none" stroke-width="0"/>
<circle cx="571.8" cy="1448.0" r="4.1" fill="#f7941d" stroke="none" stroke-width="0"/>
<circle cx="658.7" cy="1429.2" r="4.1" fill="#e5336d" stroke="none" stroke-width="0"/>
<circle cx="625.7" cy="1443.1" r="4.1" fill="#8e3cb4" stroke="none" stroke-width="0"/>
<circle cx="623.7" cy="1456.7" r="4.1" fill="#fbbd22" stroke="none" stroke-width="0"/>
<circle cx="644.7" cy="1460.4" r="4.1" fill="#56a8da" stroke="none" stroke-width="0"/>
<circle cx="651.8" cy="1464.9" r="4.1" fill="#e0117f" stroke="none" stroke-width="0"/>
<circle cx="642.0" cy="1466.3" r="4.1" fill="#9ccd45" stroke="none" stroke-width="0"/>
<circle cx="614.1" cy="1473.4" r="4.1" fill="#e8533a" stroke="none" stroke-width="0"/>
<circle cx="625.7" cy="1481.6" r="4.1" fill="#4a90cf" stroke="none" stroke-width="0"/>
<circle cx="625.7" cy="1479.7" r="4.1" fill="#d9e14a" stroke="none" stroke-width="0"/>
<circle cx="651.8" cy="1490.3" r="4.1" fill="#219a8a" stroke="none" stroke-width="0"/>
<circle cx="651.8" cy="1494.4" r="4.1" fill="#45bb44" stroke="none" stroke-width="0"/>
<circle cx="634.9" cy="1493.8" r="4.1" fill="#d9e14a" stroke="none" stroke-width="0"/>
<circle cx="628.8" cy="1504.2" r="4.1" fill="#f05a28" stroke="none" stroke-width="0"/>
<circle cx="597.2" cy="1523.5" r="4.1" fill="#4a90cf" stroke="none" stroke-width="0"/>
<circle cx="691.9" cy="1441.9" r="4.1" fill="#8e3cb4" stroke="none" stroke-width="0"/>
<circle cx="688.2" cy="1448.0" r="4.1" fill="#e5336d" stroke="none" stroke-width="0"/>
<circle cx="716.3" cy="1441.9" r="4.1" fill="#e0117f" stroke="none" stroke-width="0"/>
<circle cx="689.9" cy="1456.7" r="4.1" fill="#d9e14a" stroke="none" stroke-width="0"/>
<circle cx="708.2" cy="1454.1" r="4.1" fill="#56a8da" stroke="none" stroke-width="0"/>
<circle cx="715.9" cy="1454.1" r="4.1" fill="#e5336d" stroke="none" stroke-width="0"/>
<circle cx="686.8" cy="1460.4" r="4.1" fill="#e8533a" stroke="none" stroke-width="0"/>
<circle cx="691.9" cy="1466.9" r="4.1" fill="#e8533a" stroke="none" stroke-width="0"/>
<circle cx="704.1" cy="1466.9" r="4.1" fill="#56a8da" stroke="none" stroke-width="0"/>
<circle cx="708.2" cy="1466.9" r="4.1" fill="#e8533a" stroke="none" stroke-width="0"/>
<circle cx="713.3" cy="1466.9" r="4.1" fill="#e8533a" stroke="none" stroke-width="0"/>
<circle cx="684.8" cy="1477.1" r="4.1" fill="#d9e14a" stroke="none" stroke-width="0"/>
<circle cx="697.0" cy="1479.5" r="4.1" fill="#e8533a" stroke="none" stroke-width="0"/>
<circle cx="704.1" cy="1479.1" r="4.1" fill="#8e3cb4" stroke="none" stroke-width="0"/>
<circle cx="705.8" cy="1485.8" r="4.1" fill="#4a90cf" stroke="none" stroke-width="0"/>
<circle cx="686.8" cy="1505.0" r="4.1" fill="#4a90cf" stroke="none" stroke-width="0"/>
<circle cx="697.6" cy="1505.0" r="4.1" fill="#56a8da" stroke="none" stroke-width="0"/>
<circle cx="713.3" cy="1503.6" r="4.1" fill="#3f4fa6" stroke="none" stroke-width="0"/>
<circle cx="697.0" cy="1511.1" r="4.1" fill="#4a90cf" stroke="none" stroke-width="0"/>
<circle cx="711.3" cy="1510.7" r="4.1" fill="#56a8da" stroke="none" stroke-width="0"/>
<circle cx="708.2" cy="1513.7" r="4.1" fill="#f05a28" stroke="none" stroke-width="0"/>
<circle cx="698.0" cy="1529.6" r="4.1" fill="#56a8da" stroke="none" stroke-width="0"/>
<line x1="390.0" y1="1522.7" x2="390.0" y2="1562.8" stroke="#000" stroke-width="2.2" />
<line x1="390.0" y1="1614.2" x2="390.0" y2="1641.7" stroke="#000" stroke-width="2.2" />
<line x1="385.1" y1="1522.7" x2="394.9" y2="1522.7" stroke="#000" stroke-width="2.4" />
<line x1="385.1" y1="1641.7" x2="394.9" y2="1641.7" stroke="#000" stroke-width="2.4" />
<rect x="382.3" y="1562.8" width="15.8" height="51.4" fill="none" stroke="#000" stroke-width="2.4" />
<line x1="382.3" y1="1587.1" x2="398.1" y2="1587.1" stroke="#000" stroke-width="2.4" />
<line x1="429.2" y1="1474.0" x2="429.2" y2="1498.5" stroke="#000" stroke-width="2.2" />
<line x1="429.2" y1="1553.8" x2="429.2" y2="1586.0" stroke="#000" stroke-width="2.2" />
<line x1="425.1" y1="1474.0" x2="433.3" y2="1474.0" stroke="#000" stroke-width="2.4" />
<line x1="425.1" y1="1586.0" x2="433.3" y2="1586.0" stroke="#000" stroke-width="2.4" />
<rect x="423.1" y="1498.5" width="11.8" height="55.3" fill="none" stroke="#000" stroke-width="2.4" />
<line x1="423.1" y1="1541.8" x2="434.9" y2="1541.8" stroke="#000" stroke-width="2.4" />
<line x1="450.6" y1="1435.3" x2="450.6" y2="1480.7" stroke="#000" stroke-width="2.2" />
<line x1="450.6" y1="1523.9" x2="450.6" y2="1557.5" stroke="#000" stroke-width="2.2" />
<line x1="447.1" y1="1435.3" x2="454.1" y2="1435.3" stroke="#000" stroke-width="2.4" />
<line x1="447.1" y1="1557.5" x2="454.1" y2="1557.5" stroke="#000" stroke-width="2.4" />
<rect x="445.1" y="1480.7" width="11.6" height="43.2" fill="none" stroke="#000" stroke-width="2.4" />
<line x1="445.1" y1="1504.2" x2="456.7" y2="1504.2" stroke="#000" stroke-width="2.4" />
<line x1="483.6" y1="1428.8" x2="483.6" y2="1460.4" stroke="#000" stroke-width="2.2" />
<line x1="483.6" y1="1495.4" x2="483.6" y2="1525.3" stroke="#000" stroke-width="2.2" />
<line x1="470.7" y1="1428.8" x2="496.5" y2="1428.8" stroke="#000" stroke-width="2.4" />
<line x1="470.7" y1="1525.3" x2="496.5" y2="1525.3" stroke="#000" stroke-width="2.4" />
<rect x="459.8" y="1460.4" width="48.8" height="35.0" fill="none" stroke="#000" stroke-width="2.4" />
<line x1="459.8" y1="1478.5" x2="508.6" y2="1478.5" stroke="#000" stroke-width="2.4" />
<line x1="625.7" y1="1428.8" x2="625.7" y2="1450.0" stroke="#000" stroke-width="2.2" />
<line x1="625.7" y1="1492.0" x2="625.7" y2="1522.9" stroke="#000" stroke-width="2.2" />
<line x1="607.9" y1="1428.8" x2="643.5" y2="1428.8" stroke="#000" stroke-width="2.4" />
<line x1="607.9" y1="1522.9" x2="643.5" y2="1522.9" stroke="#000" stroke-width="2.4" />
<rect x="593.1" y="1450.0" width="65.8" height="42.0" fill="none" stroke="#000" stroke-width="2.4" />
<line x1="593.1" y1="1470.0" x2="658.9" y2="1470.0" stroke="#000" stroke-width="2.4" />
<circle cx="760.6" cy="1349.5" r="4.4" fill="#e8533a" stroke="none" stroke-width="0"/>
<text x="775.4" y="1354.8" font-size="25.5" text-anchor="start" fill="#e8533a" >P1</text>
<circle cx="760.6" cy="1375.1" r="4.4" fill="#e5336d" stroke="none" stroke-width="0"/>
<text x="775.4" y="1380.4" font-size="25.5" text-anchor="start" fill="#e5336d" >P2</text>
<circle cx="760.6" cy="1400.6" r="4.4" fill="#8e3cb4" stroke="none" stroke-width="0"/>
<text x="775.4" y="1405.9" font-size="25.5" text-anchor="start" fill="#8e3cb4" >P3</text>
<circle cx="760.6" cy="1426.2" r="4.4" fill="#e0117f" stroke="none" stroke-width="0"/>
<text x="775.4" y="1431.5" font-size="25.5" text-anchor="start" fill="#e0117f" >P4</text>
<circle cx="760.6" cy="1451.8" r="4.4" fill="#3f4fa6" stroke="none" stroke-width="0"/>
<text x="775.4" y="1457.1" font-size="25.5" text-anchor="start" fill="#3f4fa6" >P5</text>
<circle cx="760.6" cy="1477.3" r="4.4" fill="#4a90cf" stroke="none" stroke-width="0"/>
<text x="775.4" y="1482.6" font-size="25.5" text-anchor="start" fill="#4a90cf" >P6</text>
<circle cx="760.6" cy="1502.9" r="4.4" fill="#56a8da" stroke="none" stroke-width="0"/>
<text x="775.4" y="1508.2" font-size="25.5" text-anchor="start" fill="#56a8da" >P7</text>
<circle cx="760.6" cy="1528.5" r="4.4" fill="#56c8d8" stroke="none" stroke-width="0"/>
<text x="775.4" y="1533.8" font-size="25.5" text-anchor="start" fill="#56c8d8" >P8</text>
<circle cx="760.6" cy="1554.1" r="4.4" fill="#219a8a" stroke="none" stroke-width="0"/>
<text x="775.4" y="1559.4" font-size="25.5" text-anchor="start" fill="#219a8a" >P9</text>
<circle cx="760.6" cy="1579.6" r="4.4" fill="#45bb44" stroke="none" stroke-width="0"/>
<text x="775.4" y="1584.9" font-size="25.5" text-anchor="start" fill="#45bb44" >P10</text>
<circle cx="760.6" cy="1605.2" r="4.4" fill="#9ccd45" stroke="none" stroke-width="0"/>
<text x="775.4" y="1610.5" font-size="25.5" text-anchor="start" fill="#9ccd45" >P11</text>
<circle cx="760.6" cy="1630.8" r="4.4" fill="#d9e14a" stroke="none" stroke-width="0"/>
<text x="775.4" y="1636.1" font-size="25.5" text-anchor="start" fill="#d9e14a" >P12</text>
<circle cx="760.6" cy="1656.3" r="4.4" fill="#6b4c3f" stroke="none" stroke-width="0"/>
<text x="775.4" y="1661.6" font-size="25.5" text-anchor="start" fill="#6b4c3f" >P13</text>
<circle cx="760.6" cy="1681.9" r="4.4" fill="#fbbd22" stroke="none" stroke-width="0"/>
<text x="775.4" y="1687.2" font-size="25.5" text-anchor="start" fill="#fbbd22" >P14</text>
<circle cx="760.6" cy="1707.5" r="4.4" fill="#f7941d" stroke="none" stroke-width="0"/>
<text x="775.4" y="1712.8" font-size="25.5" text-anchor="start" fill="#f7941d" >P15</text>
<circle cx="760.6" cy="1733.0" r="4.4" fill="#f05a28" stroke="none" stroke-width="0"/>
<text x="775.4" y="1738.3" font-size="25.5" text-anchor="start" fill="#f05a28" >P16</text>
<text transform="translate(0,1905.8) scale(0.9,1)" font-size="30" font-weight="bold">e</text>
<text x="239.8" y="1919.0" font-size="26.5" text-anchor="middle" fill="#000" >Weight</text>
<text x="420.9" y="1919.0" font-size="26.5" text-anchor="middle" fill="#000" >Stature</text>
<text x="157.3" y="1989.8" font-size="26.5"><tspan font-style="italic">P</tspan> = 0.0002</text>
<line x1="185.7" y1="1998.1" x2="284.7" y2="1998.1" stroke="#000" stroke-width="2.2" />
<text x="360.4" y="1989.8" font-size="26.5"><tspan font-style="italic">P</tspan> = 0.0006</text>
<line x1="368.0" y1="1998.1" x2="477.1" y2="1998.1" stroke="#000" stroke-width="2.2" />
<rect x="118.2" y="2030.1" width="391.3" height="144.7" fill="#efedf8" stroke="none" stroke-width="0" />
<line x1="118.2" y1="2030.1" x2="509.5" y2="2030.1" stroke="#222" stroke-width="1.4" stroke-dasharray="1.5,1.5"/>
<line x1="118.2" y1="2174.8" x2="509.5" y2="2174.8" stroke="#222" stroke-width="1.4" stroke-dasharray="1.5,1.5"/>
<line x1="117.9" y1="2012.7" x2="117.9" y2="2211.4" stroke="#000" stroke-width="1.6" />
<line x1="117.9" y1="2229.3" x2="117.9" y2="2346.6" stroke="#000" stroke-width="1.6" />
<line x1="109.8" y1="2015.6" x2="117.9" y2="2015.6" stroke="#000" stroke-width="1.5" />
<line x1="109.8" y1="2022.8" x2="117.9" y2="2022.8" stroke="#000" stroke-width="1.5" />
<line x1="102.7" y1="2030.1" x2="117.9" y2="2030.1" stroke="#000" stroke-width="1.5" />
<line x1="109.8" y1="2037.4" x2="117.9" y2="2037.4" stroke="#000" stroke-width="1.5" />
<line x1="109.8" y1="2044.6" x2="117.9" y2="2044.6" stroke="#000" stroke-width="1.5" />
<line x1="109.8" y1="2051.9" x2="117.9" y2="2051.9" stroke="#000" stroke-width="1.5" />
<line x1="109.8" y1="2059.1" x2="117.9" y2="2059.1" stroke="#000" stroke-width="1.5" />
<line x1="102.7" y1="2066.4" x2="117.9" y2="2066.4" stroke="#000" stroke-width="1.5" />
<line x1="109.8" y1="2073.7" x2="117.9" y2="2073.7" stroke="#000" stroke-width="1.5" />
<line x1="109.8" y1="2080.9" x2="117.9" y2="2080.9" stroke="#000" stroke-width="1.5" />
<line x1="109.8" y1="2088.2" x2="117.9" y2="2088.2" stroke="#000" stroke-width="1.5" />
<line x1="109.8" y1="2095.4" x2="117.9" y2="2095.4" stroke="#000" stroke-width="1.5" />
<line x1="102.7" y1="2102.7" x2="117.9" y2="2102.7" stroke="#000" stroke-width="1.5" />
<line x1="109.8" y1="2110.0" x2="117.9" y2="2110.0" stroke="#000" stroke-width="1.5" />
<line x1="109.8" y1="2117.2" x2="117.9" y2="2117.2" stroke="#000" stroke-width="1.5" />
<line x1="109.8" y1="2124.5" x2="117.9" y2="2124.5" stroke="#000" stroke-width="1.5" />
<line x1="109.8" y1="2131.7" x2="117.9" y2="2131.7" stroke="#000" stroke-width="1.5" />
<line x1="102.7" y1="2139.0" x2="117.9" y2="2139.0" stroke="#000" stroke-width="1.5" />
<line x1="109.8" y1="2146.3" x2="117.9" y2="2146.3" stroke="#000" stroke-width="1.5" />
<line x1="109.8" y1="2153.5" x2="117.9" y2="2153.5" stroke="#000" stroke-width="1.5" />
<line x1="109.8" y1="2160.8" x2="117.9" y2="2160.8" stroke="#000" stroke-width="1.5" />
<line x1="109.8" y1="2168.0" x2="117.9" y2="2168.0" stroke="#000" stroke-width="1.5" />
<line x1="102.7" y1="2175.3" x2="117.9" y2="2175.3" stroke="#000" stroke-width="1.5" />
<line x1="109.8" y1="2182.6" x2="117.9" y2="2182.6" stroke="#000" stroke-width="1.5" />
<line x1="109.8" y1="2189.8" x2="117.9" y2="2189.8" stroke="#000" stroke-width="1.5" />
<line x1="109.8" y1="2197.1" x2="117.9" y2="2197.1" stroke="#000" stroke-width="1.5" />
<line x1="109.8" y1="2204.3" x2="117.9" y2="2204.3" stroke="#000" stroke-width="1.5" />
<line x1="108.0" y1="2211.4" x2="129.0" y2="2211.4" stroke="#000" stroke-width="1.6" />
<line x1="108.0" y1="2229.3" x2="129.0" y2="2229.3" stroke="#000" stroke-width="1.6" />
<line x1="109.8" y1="2243.6" x2="117.9" y2="2243.6" stroke="#000" stroke-width="1.5" />
<line x1="102.7" y1="2258.3" x2="117.9" y2="2258.3" stroke="#000" stroke-width="1.5" />
<line x1="109.8" y1="2272.9" x2="117.9" y2="2272.9" stroke="#000" stroke-width="1.5" />
<line x1="109.8" y1="2287.6" x2="117.9" y2="2287.6" stroke="#000" stroke-width="1.5" />
<line x1="109.8" y1="2302.3" x2="117.9" y2="2302.3" stroke="#000" stroke-width="1.5" />
<line x1="109.8" y1="2316.9" x2="117.9" y2="2316.9" stroke="#000" stroke-width="1.5" />
<line x1="102.7" y1="2331.6" x2="117.9" y2="2331.6" stroke="#000" stroke-width="1.5" />
<line x1="109.8" y1="2346.3" x2="117.9" y2="2346.3" stroke="#000" stroke-width="1.5" />
<line x1="109.8" y1="2346.6" x2="117.9" y2="2346.6" stroke="#000" stroke-width="1.5" />
<text x="87.5" y="2037.9" font-size="26.5" text-anchor="end" fill="#000" >2</text>
<text x="87.5" y="2074.3" font-size="26.5" text-anchor="end" fill="#000" >1</text>
<text x="87.5" y="2111.0" font-size="26.5" text-anchor="end" fill="#000" >0</text>
<text x="87.5" y="2147.1" font-size="26.5" text-anchor="end" fill="#000" >−1</text>
<text x="87.5" y="2183.4" font-size="26.5" text-anchor="end" fill="#000" >−2</text>
<text x="87.5" y="2266.8" font-size="26.5" text-anchor="end" fill="#000" >−5</text>
<text x="87.5" y="2340.0" font-size="26.5" text-anchor="end" fill="#000" >−10</text>
<text transform="translate(28.3,2178.8) rotate(-90)" font-size="26.5" text-anchor="middle"><tspan font-style="italic">z</tspan> score</text>
<circle cx="328.3" cy="2006.6" r="2.7" fill="#000" stroke="none" stroke-width="0"/>
<circle cx="328.3" cy="2017.9" r="2.7" fill="#000" stroke="none" stroke-width="0"/>
<circle cx="328.3" cy="2029.2" r="2.7" fill="#000" stroke="none" stroke-width="0"/>
<circle cx="328.3" cy="2040.5" r="2.7" fill="#000" stroke="none" stroke-width="0"/>
<circle cx="328.3" cy="2051.8" r="2.7" fill="#000" stroke="none" stroke-width="0"/>
<circle cx="328.3" cy="2063.1" r="2.7" fill="#000" stroke="none" stroke-width="0"/>
<circle cx="328.3" cy="2074.4" r="2.7" fill="#000" stroke="none" stroke-width="0"/>
<circle cx="328.3" cy="2085.7" r="2.7" fill="#000" stroke="none" stroke-width="0"/>
<circle cx="328.3" cy="2097.0" r="2.7" fill="#000" stroke="none" stroke-width="0"/>
<circle cx="328.3" cy="2108.3" r="2.7" fill="#000" stroke="none" stroke-width="0"/>
<circle cx="328.3" cy="2119.6" r="2.7" fill="#000" stroke="none" stroke-width="0"/>
<circle cx="328.3" cy="2130.9" r="2.7" fill="#000" stroke="none" stroke-width="0"/>
<circle cx="328.3" cy="2142.2" r="2.7" fill="#000" stroke="none" stroke-width="0"/>
<circle cx="328.3" cy="2153.5" r="2.7" fill="#000" stroke="none" stroke-width="0"/>
<circle cx="328.3" cy="2164.8" r="2.7" fill="#000" stroke="none" stroke-width="0"/>
<circle cx="328.3" cy="2176.1" r="2.7" fill="#000" stroke="none" stroke-width="0"/>
<circle cx="328.3" cy="2187.4" r="2.7" fill="#000" stroke="none" stroke-width="0"/>
<circle cx="328.3" cy="2198.7" r="2.7" fill="#000" stroke="none" stroke-width="0"/>
<circle cx="328.3" cy="2210.0" r="2.7" fill="#000" stroke="none" stroke-width="0"/>
<circle cx="328.3" cy="2221.3" r="2.7" fill="#000" stroke="none" stroke-width="0"/>
<circle cx="328.3" cy="2232.6" r="2.7" fill="#000" stroke="none" stroke-width="0"/>
<circle cx="328.3" cy="2243.9" r="2.7" fill="#000" stroke="none" stroke-width="0"/>
<circle cx="328.3" cy="2255.2" r="2.7" fill="#000" stroke="none" stroke-width="0"/>
<circle cx="328.3" cy="2266.5" r="2.7" fill="#000" stroke="none" stroke-width="0"/>
<circle cx="328.3" cy="2277.8" r="2.7" fill="#000" stroke="none" stroke-width="0"/>
<circle cx="328.3" cy="2289.1" r="2.7" fill="#000" stroke="none" stroke-width="0"/>
<circle cx="328.3" cy="2300.4" r="2.7" fill="#000" stroke="none" stroke-width="0"/>
<circle cx="328.3" cy="2311.7" r="2.7" fill="#000" stroke="none" stroke-width="0"/>
<circle cx="328.3" cy="2323.0" r="2.7" fill="#000" stroke="none" stroke-width="0"/>
<circle cx="328.3" cy="2334.3" r="2.7" fill="#000" stroke="none" stroke-width="0"/>
<circle cx="328.3" cy="2345.6" r="2.7" fill="#000" stroke="none" stroke-width="0"/>
<line x1="147.6" y1="2353.5" x2="509.3" y2="2353.5" stroke="#000" stroke-width="1.6" />
<line x1="185.9" y1="2353.5" x2="185.9" y2="2369.4" stroke="#000" stroke-width="1.6" />
<text transform="translate(195.4,2403) rotate(-45)" font-size="26.5" text-anchor="end">Pre-Tx</text>
<line x1="280.9" y1="2353.5" x2="280.9" y2="2369.4" stroke="#000" stroke-width="1.6" />
<text transform="translate(290.4,2403) rotate(-45)" font-size="26.5" text-anchor="end">Post-Tx</text>
<line x1="376.3" y1="2353.5" x2="376.3" y2="2369.4" stroke="#000" stroke-width="1.6" />
<text transform="translate(385.8,2403) rotate(-45)" font-size="26.5" text-anchor="end">Pre-Tx</text>
<line x1="471.6" y1="2353.5" x2="471.6" y2="2369.4" stroke="#000" stroke-width="1.6" />
<text transform="translate(481.1,2403) rotate(-45)" font-size="26.5" text-anchor="end">Post-Tx</text>
<line x1="185.7" y1="2030.1" x2="280.8" y2="2019.4" stroke="#3d2a78" stroke-width="2.3" stroke-linecap="round"/>
<line x1="185.7" y1="2061.2" x2="280.8" y2="2072.6" stroke="#3d2a78" stroke-width="2.3" stroke-linecap="round"/>
<line x1="185.7" y1="2103.9" x2="280.8" y2="2078.6" stroke="#3d2a78" stroke-width="2.3" stroke-linecap="round"/>
<line x1="185.7" y1="2119.1" x2="280.8" y2="2084.5" stroke="#3d2a78" stroke-width="2.3" stroke-linecap="round"/>
<line x1="185.7" y1="2121.6" x2="280.8" y2="2101.4" stroke="#3d2a78" stroke-width="2.3" stroke-linecap="round"/>
<line x1="185.7" y1="2125.0" x2="280.8" y2="2103.9" stroke="#3d2a78" stroke-width="2.3" stroke-linecap="round"/>
<line x1="185.7" y1="2128.4" x2="280.8" y2="2110.7" stroke="#3d2a78" stroke-width="2.3" stroke-linecap="round"/>
<line x1="185.7" y1="2131.8" x2="280.8" y2="2108.1" stroke="#3d2a78" stroke-width="2.3" stroke-linecap="round"/>
<line x1="185.7" y1="2148.7" x2="280.8" y2="2101.4" stroke="#3d2a78" stroke-width="2.3" stroke-linecap="round"/>
<line x1="185.7" y1="2152.1" x2="280.8" y2="2124.2" stroke="#3d2a78" stroke-width="2.3" stroke-linecap="round"/>
<line x1="185.7" y1="2155.4" x2="280.8" y2="2110.7" stroke="#3d2a78" stroke-width="2.3" stroke-linecap="round"/>
<line x1="185.7" y1="2174.5" x2="280.8" y2="2081.1" stroke="#3d2a78" stroke-width="2.3" stroke-linecap="round"/>
<line x1="185.7" y1="2205.8" x2="280.8" y2="2110.7" stroke="#3d2a78" stroke-width="2.3" stroke-linecap="round"/>
<line x1="204.8" y1="2211.7" x2="280.8" y2="2083.6" stroke="#3d2a78" stroke-width="2.3" stroke-linecap="round"/>
<line x1="241.9" y1="2211.7" x2="280.8" y2="2174.5" stroke="#3d2a78" stroke-width="2.3" stroke-linecap="round"/>
<line x1="246.2" y1="2211.7" x2="280.8" y2="2197.3" stroke="#3d2a78" stroke-width="2.3" stroke-linecap="round"/>
<line x1="185.7" y1="2239.1" x2="195.5" y2="2229.3" stroke="#3d2a78" stroke-width="2.3" stroke-linecap="round"/>
<line x1="185.7" y1="2240.8" x2="210.7" y2="2229.3" stroke="#3d2a78" stroke-width="2.3" stroke-linecap="round"/>
<line x1="185.7" y1="2268.3" x2="225.9" y2="2229.3" stroke="#3d2a78" stroke-width="2.3" stroke-linecap="round"/>
<line x1="185.7" y1="2328.6" x2="267.3" y2="2229.3" stroke="#3d2a78" stroke-width="2.3" stroke-linecap="round"/>
<circle cx="185.7" cy="2030.1" r="4.5" fill="#3d2a78" stroke="none" stroke-width="0"/>
<circle cx="185.7" cy="2061.2" r="4.5" fill="#3d2a78" stroke="none" stroke-width="0"/>
<circle cx="185.7" cy="2103.9" r="4.5" fill="#3d2a78" stroke="none" stroke-width="0"/>
<circle cx="185.7" cy="2119.1" r="4.5" fill="#3d2a78" stroke="none" stroke-width="0"/>
<circle cx="185.7" cy="2121.6" r="4.5" fill="#3d2a78" stroke="none" stroke-width="0"/>
<circle cx="185.7" cy="2125.0" r="4.5" fill="#3d2a78" stroke="none" stroke-width="0"/>
<circle cx="185.7" cy="2128.4" r="4.5" fill="#3d2a78" stroke="none" stroke-width="0"/>
<circle cx="185.7" cy="2131.8" r="4.5" fill="#3d2a78" stroke="none" stroke-width="0"/>
<circle cx="185.7" cy="2133.5" r="4.5" fill="#3d2a78" stroke="none" stroke-width="0"/>
<circle cx="185.7" cy="2148.7" r="4.5" fill="#3d2a78" stroke="none" stroke-width="0"/>
<circle cx="185.7" cy="2152.1" r="4.5" fill="#3d2a78" stroke="none" stroke-width="0"/>
<circle cx="185.7" cy="2155.4" r="4.5" fill="#3d2a78" stroke="none" stroke-width="0"/>
<circle cx="185.7" cy="2174.5" r="4.5" fill="#3d2a78" stroke="none" stroke-width="0"/>
<circle cx="185.7" cy="2205.8" r="4.5" fill="#3d2a78" stroke="none" stroke-width="0"/>
<circle cx="185.7" cy="2239.1" r="4.5" fill="#3d2a78" stroke="none" stroke-width="0"/>
<circle cx="185.7" cy="2240.8" r="4.5" fill="#3d2a78" stroke="none" stroke-width="0"/>
<circle cx="185.7" cy="2246.7" r="4.5" fill="#3d2a78" stroke="none" stroke-width="0"/>
<circle cx="185.7" cy="2268.3" r="4.5" fill="#3d2a78" stroke="none" stroke-width="0"/>
<circle cx="185.7" cy="2328.6" r="4.5" fill="#3d2a78" stroke="none" stroke-width="0"/>
<circle cx="280.8" cy="2019.4" r="4.5" fill="#3d2a78" stroke="none" stroke-width="0"/>
<circle cx="280.8" cy="2072.6" r="4.5" fill="#3d2a78" stroke="none" stroke-width="0"/>
<circle cx="280.8" cy="2078.6" r="4.5" fill="#3d2a78" stroke="none" stroke-width="0"/>
<circle cx="280.8" cy="2081.1" r="4.5" fill="#3d2a78" stroke="none" stroke-width="0"/>
<circle cx="280.8" cy="2083.6" r="4.5" fill="#3d2a78" stroke="none" stroke-width="0"/>
<circle cx="280.8" cy="2086.2" r="4.5" fill="#3d2a78" stroke="none" stroke-width="0"/>
<circle cx="280.8" cy="2101.4" r="4.5" fill="#3d2a78" stroke="none" stroke-width="0"/>
<circle cx="280.8" cy="2103.9" r="4.5" fill="#3d2a78" stroke="none" stroke-width="0"/>
<circle cx="280.8" cy="2110.7" r="4.5" fill="#3d2a78" stroke="none" stroke-width="0"/>
<circle cx="280.8" cy="2124.2" r="4.5" fill="#3d2a78" stroke="none" stroke-width="0"/>
<circle cx="280.8" cy="2174.5" r="4.5" fill="#3d2a78" stroke="none" stroke-width="0"/>
<circle cx="280.8" cy="2197.3" r="4.5" fill="#3d2a78" stroke="none" stroke-width="0"/>
<circle cx="280.8" cy="2210.8" r="4.5" fill="#3d2a78" stroke="none" stroke-width="0"/>
<line x1="375.8" y1="2091.2" x2="471.1" y2="2065.6" stroke="#3d2a78" stroke-width="2.3" stroke-linecap="round"/>
<line x1="375.8" y1="2116.1" x2="471.1" y2="2130.9" stroke="#3d2a78" stroke-width="2.3" stroke-linecap="round"/>
<line x1="375.8" y1="2129.8" x2="471.1" y2="2101.4" stroke="#3d2a78" stroke-width="2.3" stroke-linecap="round"/>
<line x1="375.8" y1="2131.8" x2="471.1" y2="2097.7" stroke="#3d2a78" stroke-width="2.3" stroke-linecap="round"/>
<line x1="375.8" y1="2134.3" x2="471.1" y2="2115.2" stroke="#3d2a78" stroke-width="2.3" stroke-linecap="round"/>
<line x1="375.8" y1="2136.5" x2="471.1" y2="2133.5" stroke="#3d2a78" stroke-width="2.3" stroke-linecap="round"/>
<line x1="375.8" y1="2139.4" x2="471.1" y2="2098.0" stroke="#3d2a78" stroke-width="2.3" stroke-linecap="round"/>
<line x1="375.8" y1="2151.5" x2="471.1" y2="2135.2" stroke="#3d2a78" stroke-width="2.3" stroke-linecap="round"/>
<line x1="375.8" y1="2170.3" x2="471.1" y2="2094.6" stroke="#3d2a78" stroke-width="2.3" stroke-linecap="round"/>
<line x1="375.8" y1="2191.8" x2="471.1" y2="2135.2" stroke="#3d2a78" stroke-width="2.3" stroke-linecap="round"/>
<line x1="375.8" y1="2202.7" x2="471.1" y2="2153.7" stroke="#3d2a78" stroke-width="2.3" stroke-linecap="round"/>
<line x1="375.8" y1="2209.5" x2="471.1" y2="2180.8" stroke="#3d2a78" stroke-width="2.3" stroke-linecap="round"/>
<line x1="414.2" y1="2211.7" x2="471.1" y2="2168.4" stroke="#3d2a78" stroke-width="2.3" stroke-linecap="round"/>
<line x1="419.3" y1="2211.7" x2="471.1" y2="2184.2" stroke="#3d2a78" stroke-width="2.3" stroke-linecap="round"/>
<line x1="375.8" y1="2235.3" x2="395.6" y2="2229.3" stroke="#3d2a78" stroke-width="2.3" stroke-linecap="round"/>
<line x1="375.8" y1="2243.3" x2="391.4" y2="2229.3" stroke="#3d2a78" stroke-width="2.3" stroke-linecap="round"/>
<line x1="375.8" y1="2266.9" x2="471.1" y2="2256.5" stroke="#3d2a78" stroke-width="2.3" stroke-linecap="round"/>
<circle cx="375.8" cy="2091.2" r="4.5" fill="#3d2a78" stroke="none" stroke-width="0"/>
<circle cx="375.8" cy="2116.1" r="4.5" fill="#3d2a78" stroke="none" stroke-width="0"/>
<circle cx="375.8" cy="2129.8" r="4.5" fill="#3d2a78" stroke="none" stroke-width="0"/>
<circle cx="375.8" cy="2131.8" r="4.5" fill="#3d2a78" stroke="none" stroke-width="0"/>
<circle cx="375.8" cy="2134.3" r="4.5" fill="#3d2a78" stroke="none" stroke-width="0"/>
<circle cx="375.8" cy="2136.5" r="4.5" fill="#3d2a78" stroke="none" stroke-width="0"/>
<circle cx="375.8" cy="2139.4" r="4.5" fill="#3d2a78" stroke="none" stroke-width="0"/>
<circle cx="375.8" cy="2151.5" r="4.5" fill="#3d2a78" stroke="none" stroke-width="0"/>
<circle cx="375.8" cy="2170.3" r="4.5" fill="#3d2a78" stroke="none" stroke-width="0"/>
<circle cx="375.8" cy="2191.8" r="4.5" fill="#3d2a78" stroke="none" stroke-width="0"/>
<circle cx="375.8" cy="2202.7" r="4.5" fill="#3d2a78" stroke="none" stroke-width="0"/>
<circle cx="375.8" cy="2205.3" r="4.5" fill="#3d2a78" stroke="none" stroke-width="0"/>
<circle cx="375.8" cy="2209.5" r="4.5" fill="#3d2a78" stroke="none" stroke-width="0"/>
<circle cx="375.8" cy="2235.3" r="4.5" fill="#3d2a78" stroke="none" stroke-width="0"/>
<circle cx="375.8" cy="2238.2" r="4.5" fill="#3d2a78" stroke="none" stroke-width="0"/>
<circle cx="375.8" cy="2243.3" r="4.5" fill="#3d2a78" stroke="none" stroke-width="0"/>
<circle cx="375.8" cy="2266.9" r="4.5" fill="#3d2a78" stroke="none" stroke-width="0"/>
<circle cx="471.1" cy="2065.6" r="4.5" fill="#3d2a78" stroke="none" stroke-width="0"/>
<circle cx="471.1" cy="2094.3" r="4.5" fill="#3d2a78" stroke="none" stroke-width="0"/>
<circle cx="471.1" cy="2097.7" r="4.5" fill="#3d2a78" stroke="none" stroke-width="0"/>
<circle cx="471.1" cy="2101.4" r="4.5" fill="#3d2a78" stroke="none" stroke-width="0"/>
<circle cx="471.1" cy="2115.2" r="4.5" fill="#3d2a78" stroke="none" stroke-width="0"/>
<circle cx="471.1" cy="2128.4" r="4.5" fill="#3d2a78" stroke="none" stroke-width="0"/>
<circle cx="471.1" cy="2130.9" r="4.5" fill="#3d2a78" stroke="none" stroke-width="0"/>
<circle cx="471.1" cy="2133.5" r="4.5" fill="#3d2a78" stroke="none" stroke-width="0"/>
<circle cx="471.1" cy="2135.2" r="4.5" fill="#3d2a78" stroke="none" stroke-width="0"/>
<circle cx="471.1" cy="2153.7" r="4.5" fill="#3d2a78" stroke="none" stroke-width="0"/>
<circle cx="471.1" cy="2168.4" r="4.5" fill="#3d2a78" stroke="none" stroke-width="0"/>
<circle cx="471.1" cy="2180.8" r="4.5" fill="#3d2a78" stroke="none" stroke-width="0"/>
<circle cx="471.1" cy="2184.2" r="4.5" fill="#3d2a78" stroke="none" stroke-width="0"/>
<circle cx="471.1" cy="2256.5" r="4.5" fill="#3d2a78" stroke="none" stroke-width="0"/>
<text transform="translate(701.5,1910.7) scale(0.9,1)" font-size="30" font-weight="bold">f</text>
<text x="930" y="1916.7" font-size="26.5"><tspan font-style="italic">P</tspan> = 0.0195</text>
<line x1="912.7" y1="1924.1" x2="1080.7" y2="1924.1" stroke="#000" stroke-width="2.2" />
<text x="900.8" y="1975.8" font-size="26.5"><tspan font-style="italic">P</tspan> = 0.0156</text>
<line x1="920.2" y1="1983.2" x2="1013.2" y2="1983.2" stroke="#000" stroke-width="2.2" />
<line x1="820.2" y1="2005.3" x2="820.2" y2="2329.9" stroke="#000" stroke-width="1.6" />
<line x1="802.3" y1="2005.3" x2="820.2" y2="2005.3" stroke="#000" stroke-width="1.6" />
<text x="786.5" y="2013.6" font-size="26.5" text-anchor="end" fill="#000" >100</text>
<line x1="802.3" y1="2086.1" x2="820.2" y2="2086.1" stroke="#000" stroke-width="1.6" />
<text x="786.5" y="2094.4" font-size="26.5" text-anchor="end" fill="#000" >80</text>
<line x1="802.3" y1="2167.3" x2="820.2" y2="2167.3" stroke="#000" stroke-width="1.6" />
<text x="786.5" y="2175.6" font-size="26.5" text-anchor="end" fill="#000" >60</text>
<line x1="802.3" y1="2248.4" x2="820.2" y2="2248.4" stroke="#000" stroke-width="1.6" />
<text x="786.5" y="2256.7" font-size="26.5" text-anchor="end" fill="#000" >40</text>
<line x1="802.3" y1="2329.9" x2="820.2" y2="2329.9" stroke="#000" stroke-width="1.6" />
<text x="786.5" y="2338.2" font-size="26.5" text-anchor="end" fill="#000" >20</text>
<text transform="translate(724.2,2167.3) rotate(-90)" font-size="27.3" text-anchor="middle">Total QOL score</text>
<line x1="885.2" y1="2341.2" x2="1134.3" y2="2341.2" stroke="#000" stroke-width="1.6" />
<line x1="934.5" y1="2341.2" x2="934.5" y2="2358.8" stroke="#000" stroke-width="1.6" />
<text transform="translate(944.0,2391) rotate(-45)" font-size="26.5" text-anchor="end">Pre-Tx</text>
<line x1="1009.4" y1="2341.2" x2="1009.4" y2="2358.8" stroke="#000" stroke-width="1.6" />
<text transform="translate(1018.9,2391) rotate(-45)" font-size="26.5" text-anchor="end">1–6 months</text>
<line x1="1084.2" y1="2341.2" x2="1084.2" y2="2358.8" stroke="#000" stroke-width="1.6" />
<text transform="translate(1093.7,2391) rotate(-45)" font-size="26.5" text-anchor="end">12 months</text>
<circle cx="934.5" cy="2050.0" r="6" fill="#000" stroke="none" stroke-width="0"/>
<circle cx="934.5" cy="2098.7" r="6" fill="#000" stroke="none" stroke-width="0"/>
<circle cx="934.5" cy="2123.1" r="6" fill="#000" stroke="none" stroke-width="0"/>
<circle cx="916.6" cy="2248.7" r="6" fill="#000" stroke="none" stroke-width="0"/>
<circle cx="929.1" cy="2253.2" r="6" fill="#000" stroke="none" stroke-width="0"/>
<circle cx="941.0" cy="2245.4" r="6" fill="#000" stroke="none" stroke-width="0"/>
<circle cx="953.0" cy="2245.4" r="6" fill="#000" stroke="none" stroke-width="0"/>
<circle cx="941.0" cy="2269.6" r="6" fill="#000" stroke="none" stroke-width="0"/>
<circle cx="928.5" cy="2277.7" r="6" fill="#000" stroke="none" stroke-width="0"/>
<circle cx="1009.4" cy="2025.6" r="6" fill="#d7424f" stroke="none" stroke-width="0"/>
<circle cx="1000.7" cy="2054.5" r="6" fill="#d7424f" stroke="none" stroke-width="0"/>
<circle cx="1018.6" cy="2054.5" r="6" fill="#d7424f" stroke="none" stroke-width="0"/>
<circle cx="1009.4" cy="2070.3" r="6" fill="#d7424f" stroke="none" stroke-width="0"/>
<circle cx="991.8" cy="2082.3" r="6" fill="#d7424f" stroke="none" stroke-width="0"/>
<circle cx="1027.6" cy="2082.3" r="6" fill="#d7424f" stroke="none" stroke-width="0"/>
<circle cx="1009.4" cy="2090.3" r="6" fill="#d7424f" stroke="none" stroke-width="0"/>
<circle cx="1009.4" cy="2115.1" r="6" fill="#d7424f" stroke="none" stroke-width="0"/>
<circle cx="1084.2" cy="2033.6" r="6" fill="#86dcc1" stroke="none" stroke-width="0"/>
<circle cx="1084.2" cy="2070.3" r="6" fill="#86dcc1" stroke="none" stroke-width="0"/>
<circle cx="1066.9" cy="2090.6" r="6" fill="#86dcc1" stroke="none" stroke-width="0"/>
<circle cx="1101.5" cy="2098.7" r="6" fill="#86dcc1" stroke="none" stroke-width="0"/>
<circle cx="1066.9" cy="2110.6" r="6" fill="#86dcc1" stroke="none" stroke-width="0"/>
<circle cx="1084.2" cy="2135.1" r="6" fill="#86dcc1" stroke="none" stroke-width="0"/>
<circle cx="1084.2" cy="2151.8" r="6" fill="#86dcc1" stroke="none" stroke-width="0"/>
<circle cx="1066.9" cy="2204.6" r="6" fill="#86dcc1" stroke="none" stroke-width="0"/>
<circle cx="1101.5" cy="2204.6" r="6" fill="#86dcc1" stroke="none" stroke-width="0"/>
<line x1="909.1" y1="2200.7" x2="960.4" y2="2200.7" stroke="#000" stroke-width="2.2" stroke-dasharray="15,7.5"/>
<line x1="983.7" y1="2071.8" x2="1035.6" y2="2071.8" stroke="#d7424f" stroke-width="2.2" stroke-dasharray="15,7.5"/>
<line x1="1058.3" y1="2121.9" x2="1110.2" y2="2121.9" stroke="#86dcc1" stroke-width="2.2" stroke-dasharray="15,7.5"/>
</svg>
</body></html>
